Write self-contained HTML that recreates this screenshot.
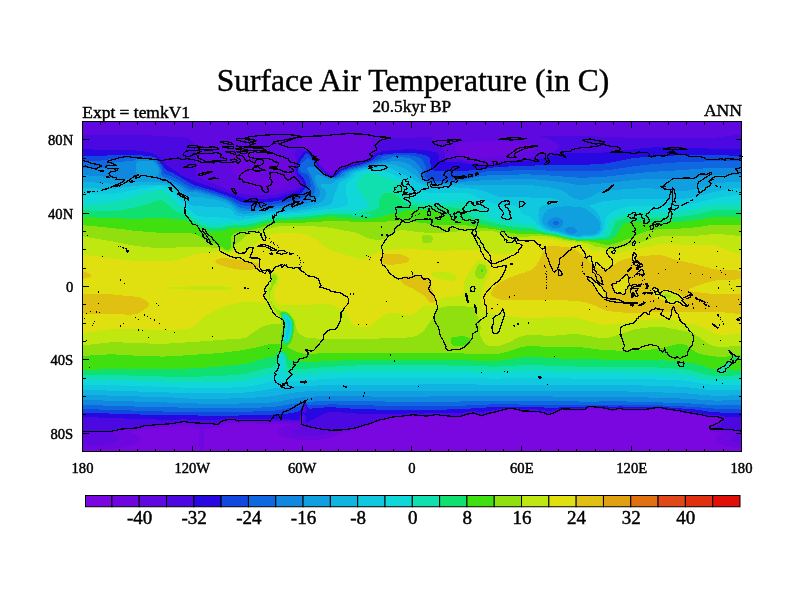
<!DOCTYPE html>
<html><head><meta charset="utf-8"><title>Surface Air Temperature (in C)</title>
<style>
html,body{margin:0;padding:0;background:#fff}
svg{display:block}
text{font-family:"Liberation Serif","Times New Roman",serif;fill:#000;stroke:#000;stroke-width:0.45px}
</style></head><body>
<svg width="800" height="600" viewBox="0 0 800 600">
<rect width="800" height="600" fill="#fff"/>
<g id="field" shape-rendering="crispEdges">
<rect x="82.5" y="121.5" width="659.0" height="330.0" fill="#7A06E0"/>
<path fill="#6E06E0" fill-rule="evenodd" d="M83 122 742 122 742 448.5 738.3 448.2 736.5 448 729.2 446.8 724.7 445.6 722 444.7 720 443.8 718.2 442.7 717.2 441.9 716.4 441 715.9 440.1 715.7 439.2 715.9 438.2 716.4 437.3 717.2 436.4 718.4 435.5 720 434.5 721.5 433.7 722.1 432.7 720 432.2 717.9 431.8 712.7 431.5 710.8 430.9 709.9 430 709.6 429.1 709.6 428.2 709.9 427.2 710.9 426.3 712.8 425.4 714.5 425 716.4 424.2 718.6 422.7 719.7 421.8 720.5 420.8 720.4 419.9 719.3 419 718.2 418.5 716.4 418.3 714.5 418.2 709 418.2 707.2 418 703.6 416.7 699.9 416.2 698.1 415.7 696.2 415.5 694.4 415.3 692.6 414.8 690.7 414.6 688.9 414.3 687.1 413.9 683.4 413.4 680 412.6 677.9 412.1 676.1 411.9 673 411.7 670.6 411.2 667.3 410.7 666.9 410.7 663.3 409.9 661.5 409.4 659.6 409.2 657.8 409.2 656 409.4 653.8 409.8 650.5 410.3 648 410.8 646.8 410.9 624.8 410.9 623 410.7 621.2 410.3 619.4 410.3 616.8 410.8 613.9 411.1 612 411.4 608.6 410.8 604.9 409.8 602.9 409.4 601 409.1 597.4 409.1 595.6 408.9 593.7 408.5 591.9 408.3 590.1 408.4 588 408.9 586.4 410 584.6 410.7 582.7 410.9 562.6 410.9 560.8 411.2 558.9 411.9 555.3 413.7 553.5 414.6 551.1 415.3 549.8 415.6 548 415.9 545.9 415.3 543.9 414.4 542.5 413.9 538.8 413.4 537 413 535.1 412.7 524.2 412.7 522.3 412.5 520.5 412 515.2 410.7 513.2 410.3 511.4 410.1 509.5 410.1 507.7 410.3 502.2 411.6 500.4 412.1 494.9 413.4 489.4 414.8 487.6 415.5 483.9 416.6 482.1 416.8 480.2 416.6 478.9 416.2 478.4 416.2 474.7 414.8 472.9 414.6 471.1 414.8 467.4 415.7 465.6 416.4 463.8 417 461.9 417.3 460.1 417.5 458.3 418 456.4 418.2 452.8 418.2 450.9 418 449.1 417.5 447.3 417.3 443.6 417.3 441.8 417.1 440 416.6 438.1 416.4 434.5 416.4 432.6 416.6 430.8 417.1 429 417.3 419.8 417.3 418 417.1 416.2 416.6 414.3 416.4 412.5 416.4 410.7 416.6 408.8 417.1 407 417.3 403.3 417.3 401.5 417.5 399.7 418 397.9 418.2 394.2 418.2 392.4 418.4 390.1 419 388.7 419.3 385 420.2 381.4 421.1 379 421.8 377.7 422.1 375.9 422.8 374.1 423.7 370.4 424.8 366.7 426.2 364.9 426.6 361.2 427.6 359.4 428.4 357.6 429.1 353.9 430.1 352.1 430.5 349.8 430.9 348.4 431.4 345.7 431.8 342.9 432.4 341.1 433.1 339.3 434.2 333.8 436.8 332 437.3 332 437.4 330.1 437.9 326.5 438.7 323.2 439.2 321 439.5 319.1 439.6 317.3 439.8 311.8 440.1 306.3 440.1 299 439.7 293.5 439.1 291.7 438.8 288.9 438.2 288 438.1 284.4 437.1 282.4 436.4 280.3 435.5 278.7 434.6 277.7 433.7 277 432.7 276.8 431.8 277.1 430.9 277.7 430 278.9 429 280.7 428 282.3 427.2 286.2 425.9 287.9 425.4 288.6 424.5 282.5 423.9 278.9 423.7 277 423.7 273.4 423.6 271.5 423.5 262.4 423.5 260.6 423.6 254.9 423.6 253.2 423.5 251.4 423.1 249.6 422.9 247.8 422.9 245.9 423 244.1 423.3 242.3 423.8 240.4 424 238.6 423.9 236.8 423.4 234.8 422.7 233.1 422.5 231.3 422.5 229.4 422.6 225.8 423.6 224 424.2 222.1 425.2 220.3 426.8 219.3 427.2 218.5 427.7 216.6 428 213 428.2 211.1 428.5 209.3 428.6 207.5 428.5 205.6 428.6 204 429.1 203.6 430 203.9 431.8 204 434.6 204.1 437.3 204.2 440.1 204.1 442.8 203.8 446.7 203.3 449.2 202.8 452 200.9 452 200.2 450.2 199.7 446.5 199.2 443.8 198.9 441 198.9 437.3 199.2 434.6 199.6 431.8 199.9 430 199.7 429.1 198.3 428.7 197.2 428.2 194.7 427.9 192.8 427.5 192.4 427.2 191 426.9 189.5 426.3 187.3 426.2 185.5 425.9 183.7 425.5 180 425.7 178.2 425.9 175.7 426.3 172.7 427 169 427 167.2 426.9 165.4 426.9 163.5 426.8 160.5 427.2 159.9 427.4 158.1 427.6 156.2 427.5 152.6 427.5 150.7 427.7 148.9 428.1 147.1 428.3 145.2 428.3 143.4 428.7 142.3 429.1 141.6 429.5 139.7 430.1 137.9 430.4 135.6 430.9 134.3 431.6 132.7 431.8 132 432.8 132.4 432.9 133.9 433.7 136.1 434.6 139.2 436.4 140.1 437.3 140.7 438.2 140.9 439.2 140.7 440.1 139.2 441.9 137.8 442.8 136 443.8 133.8 444.7 130.6 445.7 128.8 446.2 123.3 447.4 119.6 448 117 448.3 116 448.5 112.3 448.9 110.5 449 108.6 449.2 103.1 449.5 101.3 449.5 99.5 449.6 94 449.6 92.2 449.5 90.3 449.5 86.7 449.3 86.5 449.2 83 449 83 122Z"/>
<path fill="#6008E0" fill-rule="evenodd" d="M83 122 742 122 742 444.2 739.2 443.8 735.5 442.8 732.8 441.7 731.7 441 730.8 440.1 730.5 439.2 731 438 731.7 437.3 733.2 436.4 735.5 435.5 738.4 434.6 739.8 433.7 738.9 432.8 738.3 432.5 736.5 432 734.7 431.8 732.8 431.5 731 430.8 729.2 430.5 727.4 430.5 725.5 430.4 723.7 430.4 721.9 430.3 720 430.3 718.2 430.2 716.4 430.2 712.6 430 711.1 429.1 710.9 428.2 711.6 427.2 713.4 426.3 714.5 426.1 716.4 425.3 718.2 424.3 721.3 421.8 721.9 420.8 721.9 419.9 721.1 419 719.5 418.1 718.2 417.6 716.4 417.4 710.9 417.4 707.7 417.2 707.2 417.1 704.9 416.2 703.6 415.8 701.7 415.6 699.9 415.3 698.1 414.9 696.2 414.7 694.4 414.4 692.6 414 690.7 413.7 688.9 413.5 687.1 413 683.4 412.6 681.6 412.1 679.6 411.7 677.9 411.2 676.1 411 674.3 411 672.3 410.8 670.6 410.4 668.8 410.2 665.1 409.5 661.5 408.7 659.6 408.5 657.8 408.5 656 408.6 654.1 409 650.5 409.4 648.6 409.9 646.8 410.1 632.2 410.1 630.3 410 624.8 410 623 409.8 621.2 409.4 619.4 409.4 617.4 409.8 613.9 410.2 612 410.5 610.2 410.2 604.7 409 602.9 408.6 601 408.4 597.4 408.4 595.6 408.2 593.7 407.8 591.9 407.6 590.1 407.6 588.2 408 586.4 409 584.5 409.8 582.7 410.1 562.6 410.1 560.8 410.3 558.9 411 557.1 411.8 553.5 413.6 551.2 414.4 549.8 414.7 548 414.9 546.1 414.5 544.3 413.6 542.5 413 538.8 412.5 537 412.1 535.1 411.9 526 411.9 522.7 411.7 520.5 411.1 518.7 410.8 515 409.9 513.2 409.4 511.4 409.3 509.5 409.3 507.7 409.4 505.9 409.9 504 410.3 502.2 410.8 496.7 412.1 493 413 489.4 413.9 487.9 414.4 487.6 414.6 485.3 415.3 482.1 415.9 480.2 415.7 478.4 415.3 476.2 414.4 474.7 413.9 472.9 413.7 471.1 413.9 467.4 414.8 465.6 415.5 463.8 416.1 461.9 416.4 460.1 416.6 458.3 417.1 456.4 417.3 452.8 417.3 450.9 417.1 449.1 416.6 447.3 416.4 443.6 416.4 441.8 416.2 440 415.7 438.1 415.5 434.5 415.5 432.6 415.7 430.8 416.2 429 416.4 419.8 416.4 418 416.2 416.2 415.7 414.3 415.6 412.5 415.6 410.7 415.7 408.8 416.2 407 416.4 405.2 416.4 401.5 416.6 399.2 417.2 397.9 417.3 396 417.3 392.4 417.5 390.2 418.1 388.7 418.4 385 419.3 381.4 420.2 379.6 420.7 377.7 421.1 375.9 421.8 374 422.7 371.3 423.6 370.4 423.8 366.7 425.1 363.1 426.1 361.2 426.5 357.6 427.9 353.9 428.9 352.1 429.1 350.3 429.4 347.9 430 346.6 430.2 342.9 430.4 340.4 430.9 339.3 431.3 337.4 431.6 335.6 431.8 330.1 432.7 326.5 433.5 324.6 434.2 323.8 434.6 321 435.4 317.3 436 315.5 436.2 311.8 436.4 308.2 436.4 306.3 436.3 302.7 435.9 299 435.3 296.7 434.6 294.7 433.7 293.5 432.6 293.2 431.8 293.6 430.9 294.7 430 297.2 428.9 299.8 428.2 300.8 427.8 301.3 427.2 301.4 426.3 301 423.6 300.8 423.3 299 422.6 295.3 422.6 293.5 422.5 288 422.5 286.2 422.4 280.7 422.4 278.9 422.3 255.1 422.3 253.2 422.2 251.4 421.7 249.6 421.5 245.9 421.5 244.1 421.8 242.3 422.3 240.4 422.4 238.6 422.3 234.9 421 233.1 420.8 229.3 420.8 227.6 421.1 224 422 222.1 422.7 220.3 423.8 218.5 425 216.6 425.3 214.8 425.4 211.1 425.4 209.3 425.2 207.5 424.8 205.6 424.5 194.7 424.5 192.8 424.3 191 423.9 189.2 423.6 187.3 423.6 183.7 423.2 181.8 423.4 179.5 423.6 178.2 423.8 172.7 425 170.9 425.2 163.5 425.2 161.5 425.4 159.9 425.8 158.1 426 152.6 426 150 426.3 148.9 426.6 147.1 426.8 145.2 426.8 143.4 427 140.4 428.2 139.7 428.4 137.9 428.6 135.2 429.1 134.3 429.4 132.4 429.6 128.8 429.6 126.9 429.7 125.1 429.7 123.1 430 121.4 430.5 118.8 430.9 116 431.8 114.1 432.5 112.3 433.7 112.6 434.6 114.5 435.5 116.5 436.4 117.9 437.3 118.7 438.2 119 439.2 118.7 440.1 117.8 441.1 116 442.2 111.4 443.8 106.8 444.6 105 444.9 103.1 445.1 101.3 445.2 99.5 445.4 97.6 445.4 95.8 445.5 92.2 445.5 88.5 445.3 83 444.7 83 122ZM240.4 148.3 238.6 148.8 236.8 149.7 234.9 151.3 233.1 153.8 231.6 156.8 231 158.7 230.8 160.5 230.8 162.3 231 164.2 231.4 166 232.8 170.6 234.2 173.3 234.9 174.4 237.3 177 238.6 178.4 240.4 180.2 244.2 183.4 245.9 184.6 249.6 186.6 253.2 188.3 256.9 189.6 258.7 189.9 260.6 190.1 262.4 190.2 271.5 190.2 273.4 190.1 277 189.6 278.9 189.2 282.4 188 284.4 187.1 286.2 185.9 287.8 184.3 289.4 181.6 290 179.8 290.4 177.9 290.6 176.1 290.7 170.6 290.6 167.8 290.3 165.1 289.9 163.5 288.6 161.4 287.7 160.5 286.2 159.4 284.4 158.3 281.6 156.8 278.9 155.5 275.2 153.6 272.4 152.2 271.5 151.9 269.7 151.1 267.9 150.4 266.1 149.9 264 149.5 260.6 149.1 258.7 149 256.9 149 251.4 148.7 247.8 148.3 245.9 148.2 242.3 148.2 240.4 148.3ZM341.1 133.9 339.3 133.9 333.8 134.2 332 134.5 330.1 134.7 328.1 134.8 321 135.6 319.1 135.8 317.3 136.1 315.5 136.3 310 136.6 306.3 137 304.4 137.6 302.2 138.5 300.8 139.3 300.4 139.4 297.6 141.2 297.2 141.8 296.6 142.2 296.5 143.1 297.2 143.4 297.8 144 299 144.4 299.6 144.9 302.7 146.7 302.7 146.8 304.8 147.7 306.3 148.1 308.2 148.8 310 149.7 311 150.4 312.9 152.2 313.6 153.3 314.4 154.1 315.8 155.9 316.6 156.8 317.3 157.9 318.6 159.6 319.1 161 320.4 163.2 321 164.4 323.1 166.9 324.1 167.8 324.9 168.8 326 169.7 326.9 170.6 328 171.5 328.3 171.9 330.1 172.9 332 173 332.7 172.4 334 171.5 334.9 170.6 338.4 167.8 339.3 167.2 341.1 166.4 342.9 165.7 345 165.1 347.5 164.2 349.9 163.2 353.9 161.9 355.8 161.5 357.6 161 359.7 160.5 362.4 159.6 364.7 158.7 366.2 157.8 367.3 156.8 368 155.9 368.6 154.7 368.9 153.2 369.6 151.3 371.3 148.6 371.7 147.7 372.1 144 372.8 141.2 372.6 140.3 371.7 139.4 370.2 138.5 366.5 136.7 364.9 136.1 363.1 135.6 361.2 135.3 357.6 134.6 353.9 134 352.1 133.7 348.4 133.5 346.6 133.6 344.8 133.8 342.9 133.9 341.1 133.9ZM496.7 141.2 494.9 141.3 489.4 141.9 487.6 142 478.4 142 476.6 142.1 474.7 142.1 474.6 142.2 469.2 142.8 467.4 142.9 461.9 142.9 458.9 143.1 458.3 143.2 456.4 143.9 455.7 144.9 455.3 145.8 455.1 146.8 455.3 149.5 456.4 151.6 458.4 153.2 461.9 155 464.1 155.9 465.6 156.4 467.4 156.8 469.2 157 471.1 157.1 472.9 157.3 476.3 157.8 478.4 157.9 485.7 157.9 488 157.8 491.2 157.3 493 157.1 496.7 156.9 498.5 156.7 500.4 156.4 502.2 156.2 504 156.1 511.4 155.3 513.2 155.2 516.8 154.8 520.5 154 522.3 153.5 524.2 153.1 527.5 152.2 529.7 151.7 531.5 151.1 532.7 150.4 533.7 149.5 534.1 148.6 534.3 147.7 534.3 146.8 534 145.8 533.3 144.9 531.5 144 529.7 143.8 527.8 143.5 522.3 142.9 520.5 142.8 515.2 142.2 515 142.1 511.4 141.9 505.9 141.3 504 141.2 502.2 141.2 500.4 141.1 498.5 141.2 496.7 141.2Z"/>
<path fill="#4C08E0" fill-rule="evenodd" d="M83 134.8 84.8 134.7 86.7 134.7 88.5 134.6 130.6 134.6 132.4 134.7 137.9 134.7 143.4 135 145.2 135 147.1 135.1 148.9 135.3 154.4 135.6 156.2 135.8 159.9 136 161.7 136.2 170.9 136.7 172.7 136.7 174.5 136.8 176.4 136.8 183.7 137.2 185.5 137.4 187.3 137.8 189.2 138.8 192.8 142.4 194.2 144 194.8 144.9 195.3 146.8 195.5 148.6 195.5 172.4 195.8 174.2 196.5 175.6 197.9 177 199.5 177.9 201.4 178.8 202 179 205.5 180.7 207.9 181.6 209.3 182 213 183.4 217.4 185.2 220.3 186.5 225.8 188.7 229.1 189.8 229.4 190 236.8 192.4 242.3 193.9 245.9 194.6 247.8 194.8 251.4 195 253.2 195.2 255.1 195.3 257.2 195.3 258.7 195.4 266.1 195.4 268.1 195.3 269.7 195.3 273.4 195.1 275.2 194.9 278.9 194.1 284.2 192.6 288 191.5 291.7 190.2 295.3 188.9 297.4 188 299.1 187.1 300 186.2 300.7 185.2 300.8 184.2 300.5 183.4 298.2 179.8 297.2 177.8 296.2 176.1 294.9 172.4 294.6 170.6 294.6 166.9 295.3 164.3 295.8 162.3 296 160.5 295.5 157.8 295.2 156.8 294.9 154.1 294.5 151.3 294.8 150.4 295.3 149.9 296.3 149.5 297.2 149.3 299 149.2 302.7 149.6 304.5 149.6 306.3 149.8 308.2 150.4 310 151.6 310.7 152.2 313.1 155 314.6 156.8 316.1 158.7 317.7 161.4 319.1 164.6 321 166.9 322 167.8 322.8 168.8 323.8 169.7 324.6 170.6 325.7 171.5 326.5 172.4 328.3 173.9 330.1 174.8 332 175.2 333.8 174.3 335.4 172.4 337.4 170.6 339.3 169.2 341.1 168.1 342.9 167.4 344.8 166.9 348.4 165.5 352.2 164.2 355.4 163.2 355.8 163.2 359.4 162.3 363.1 161.3 365.3 160.5 367.4 159.6 369 158.7 370.1 157.8 370.7 156.8 372.2 153.2 373.2 152.2 375.5 150.4 376.3 149.5 376.8 147.7 376.8 146.8 377 145.8 377.7 144.4 379.6 142.8 381.4 141.7 383.2 141 386.9 140.3 389.1 139.4 390.5 138.5 392.4 138.1 394.2 138 408.8 138 412.5 137.8 414.3 137.8 417.3 137.6 421.7 137.2 423.5 137 425.3 136.9 427.1 136.7 429 136.7 430.8 137.1 431.4 137.6 431.9 138.5 432.7 140.3 434.3 142.2 438.1 144.9 440 146.1 441.9 147.7 442.7 148.6 443.9 150.4 444.4 151.3 445 153.2 445 155 444.9 156.8 445.5 157.8 447.3 158.5 449.1 158.8 450.9 158.9 452.8 158.9 454.6 159 456.4 159 458.3 159.2 463.8 160.4 465.6 160.9 468.4 161.4 469.2 161.6 471.1 161.8 474.7 162.4 476.6 162.8 478.9 163.2 482.1 163.9 483.9 164.2 486.2 164.2 487.6 164 489.4 163.6 491.9 163.2 493 163.1 494.9 162.7 500.4 161.6 502.2 161.3 507.7 160.7 511.4 160.1 515 159.9 517.4 159.6 518.7 159.3 522.3 158.9 524.2 158.6 526 158.2 529.7 157.7 531.5 157.3 535.1 156.7 537 156.3 538.8 155.8 542.3 155 545.9 154.1 549.8 152.9 551.6 152.3 551.9 152.3 553.5 151.7 555.3 150.8 557.3 149.5 558.3 148.6 559 147.7 559.3 146.8 559.3 145.8 558.8 144.9 557.9 144 555.3 142.2 553.5 141.1 551.6 140.1 548 138.7 546.6 138.5 546.1 138.3 542.5 137.9 541.3 137.6 540.4 136.7 540.6 136.5 542.5 136.1 548 135.8 551.6 135.6 555.3 135.6 557.1 135.5 568.1 135.5 569.9 135.6 577.2 135.6 579.1 135.7 580.8 135.7 580.9 135.8 582.7 135.8 586.4 136 588.2 136 599.2 136.6 602.9 136.8 604.7 136.8 608.4 137 610.2 137 612 137.1 613.9 137.1 615.7 137.2 617.5 137.2 628.5 137.8 630.3 137.8 632.2 137.9 637.7 137.9 639.5 138 641.3 138 643.2 137.9 694.4 137.9 696.2 138 705.4 138 707.2 137.9 710.9 137.9 714.5 137.7 718.2 137.3 720 137 722.7 136.7 723.7 136.5 725.5 136.3 727.4 136 729.9 135.8 732.8 135.4 734.7 135.3 736.5 135.1 740.2 134.9 742 134.8 742 430.5 740.2 430.3 738.3 429.8 734.7 429.6 731.7 429.1 731 428.9 729.2 428.7 725.5 428.7 723.7 428.6 718.2 428.6 714.6 428.2 715.7 427.2 716.4 427 717.4 426.3 718.9 425.4 720 424.4 722.1 422.7 723 421.8 723.3 420.8 723.3 419.9 722.8 419 721.9 418.2 719.8 417.2 718.2 416.6 716.4 416.5 714.5 416.5 712.7 416.4 709 416.4 707.2 416.1 705 415.3 703.6 414.9 699.9 414.5 698.1 414 694.4 413.6 692.6 413.1 690.7 412.8 688.8 412.6 687.1 412.1 683.4 411.7 681.6 411.2 679.3 410.8 677.9 410.4 674.3 410.2 672.4 410 670.6 409.6 666.9 409.2 661.5 408 659.6 407.9 657.8 407.9 655.9 408 654.1 408.3 650.5 408.7 648.6 409 646.8 409.2 626.7 409.2 624.8 409.1 622.9 408.9 621.2 408.5 619.4 408.5 617.5 408.9 612 409.5 610.2 409.3 606.5 408.5 602.9 407.8 601 407.7 597.4 407.7 595.6 407.5 591.9 407 590.1 407 588.2 407.3 586.4 408.2 584.6 409 582.7 409.2 580.9 409.3 564.4 409.3 560.8 409.5 558.9 410.1 557.1 410.8 553.5 412.6 551.6 413.3 549.8 413.7 548 413.9 546.1 413.4 544.3 412.6 542.5 412 539.6 411.7 537 411.1 535.1 410.9 524.2 410.9 522.3 410.7 520.5 410.2 516.8 409.4 515 409.1 513.2 408.7 511.4 408.5 509.5 408.5 506.6 408.9 505.9 409.1 504 409.4 502.2 409.9 500.4 410.2 498.5 410.7 498.5 410.8 496.7 411.1 494.6 411.7 493 412 490.8 412.6 489.4 412.9 485.7 414.2 483.9 414.6 482.1 414.8 480.2 414.6 478.4 414.2 474.7 412.9 472.9 412.8 471.1 412.9 469 413.5 467.4 413.8 465.6 414.4 463.8 415.1 461.9 415.4 460.1 415.6 458.3 416 456.4 416.3 452.8 416.3 450.9 416 449.1 415.6 447.3 415.5 445.4 415.5 441.8 415.2 440 414.7 438.1 414.6 434.5 414.6 432.6 414.8 429 415.5 419.8 415.5 418 415.2 416.2 414.8 414.3 414.6 412.5 414.6 410.7 414.8 408.3 415.3 407 415.5 403.3 415.5 401.5 415.6 399.7 416.1 397.9 416.4 394.2 416.4 392.4 416.5 389.8 417.2 386.9 417.8 385.9 418.1 385 418.2 382 419 379.6 419.6 377.7 420 375.2 420.8 374.1 421.4 372.2 422.1 368.6 423.1 366.7 423.8 364.9 424.2 363.1 424.7 361.2 425.1 357.7 426.3 354 427.2 353.9 427.3 352.1 427.5 350.3 427.6 348.1 428.2 344.8 428.4 342.9 428.4 341.1 428.5 339 429.1 337.4 429.3 335.6 429.4 333.8 429.4 330.1 429.6 328.3 429.5 326.5 429.2 322.8 429.4 321 429.3 317.3 428.7 315.5 428.3 313.4 428.2 311.8 428 309 427.2 308.2 427.1 305.7 426.3 304.5 426 303.7 425.4 302.9 424.5 302.7 423.6 302.9 422.7 303.4 421.8 303.9 419.9 304 418.1 303.5 416.2 302.7 415.4 301.9 416.2 301.5 417.2 301.2 419.9 300.7 420.8 299 421.4 291.7 421.4 289.9 421.3 284.4 421.3 282.5 421.2 255.1 421.2 253.2 421 251.4 420.5 249.6 420.4 245.9 420.4 244.1 420.6 242.3 421 240.4 421.2 238.6 421 234.9 419.8 231.3 419.6 229.4 419.7 227.4 419.9 223.6 420.8 222.1 421.3 219.6 422.7 218.5 423.5 216.6 424 211.1 424 209.3 423.8 207.5 423.3 205.6 423.2 196.5 423.2 194.7 423.1 192.8 422.9 191 422.5 189.2 422.3 185.5 422.1 183.7 421.8 178.2 422.4 176.4 422.9 174.5 423.2 172.7 423.7 170.9 423.9 163.5 423.9 161.7 424 159.9 424.5 158.1 424.7 152.6 424.7 150.7 424.8 148.9 425.3 147.1 425.5 145.2 425.5 143.4 425.7 141.4 426.3 139.7 426.9 137.9 427.2 136.1 427.4 134.3 427.8 132.4 428.1 125.1 428.1 123.3 428.3 118.9 429.1 117.8 429.2 112.3 430.5 110.5 430.8 106.8 430.8 105 430.9 101.3 430.9 99.5 430.8 90.3 430.8 88.5 430.7 84.8 430.7 83 430.6 83 134.8ZM304.5 406.2 303.8 408.9 303.8 409.8 304.1 410.8 304.5 411.3 305 410.8 305.2 409.8 305.1 408 304.5 406.2Z"/>
<path fill="#2808E0" fill-rule="evenodd" d="M649.7 147.7 652.3 147.5 654.1 147.3 657.8 147.1 659.6 147.1 661.5 147 663.3 147 665.1 147.1 668.8 147.1 672.4 147.3 674.3 147.3 677.9 147.5 679.8 147.5 681.6 147.6 683.4 147.6 687.1 147.8 688.9 147.8 690.7 147.9 692.6 147.9 694.4 148 696.2 148 699.9 148.2 701.7 148.2 705.4 148.4 707.2 148.4 710.9 148.6 712.7 148.6 714.5 148.7 718.2 148.7 720 148.8 725.5 148.8 727.4 148.9 731 148.9 732.8 149 736.5 149 738.3 149.1 742 149.1 742 417 740.2 416.9 738.3 416.9 736.5 416.8 734.7 416.8 732.8 416.7 731 416.7 729.2 416.6 727.4 416.6 725.5 416.5 723.7 416.3 723.7 416.2 720 415.5 718.2 415.2 714.5 415 712.7 415 709 414.8 707.2 414.6 705.4 414.1 703.6 413.7 701.7 413.5 699.9 413.2 698.1 412.8 696.2 412.6 694.4 412.2 692.6 411.7 691.8 411.7 688.9 411.2 687.1 410.8 685.3 410.7 677.9 409.5 676.1 409.3 674.3 409.3 672.4 409.1 670.6 408.8 666.9 408.4 663.3 407.7 661.5 407.4 657.8 407.2 656 407.3 654.1 407.6 652.3 407.8 648.6 408.1 646.8 408.2 641.3 408.2 639.5 408.1 632.2 408.1 630.3 408 624.7 408 621.2 407.6 619.4 407.6 615.7 408 612 408.2 608.4 407.9 606.5 407.6 604.7 407.4 602.6 407.1 601 407 597.4 407 595.6 406.8 593.7 406.5 591.9 406.4 590.1 406.4 588.2 406.6 584.7 408 584.6 408.1 582.7 408.3 579.1 408.3 577.2 408.4 568.1 408.4 566.3 408.5 562.6 408.5 560.8 408.6 558.9 409 557.1 409.5 553.5 410.3 551.6 410.6 548 410.6 546.1 410.5 544.3 410.2 542.5 410 538.8 409.7 537 409.4 535.1 409.3 526 409.3 522.3 409.1 520.5 408.9 518.7 408.6 516.8 408.4 513.2 407.8 511.4 407.7 509.5 407.7 507.7 407.8 498.5 409.3 496.7 409.5 489.4 410.7 489.3 410.8 487.6 411 485.7 411.4 482.6 411.7 480.2 411.8 477.9 411.7 474.7 411.3 472.9 411.3 471.1 411.4 469.2 411.7 467.4 411.9 463.8 412.5 460.1 412.7 458.3 412.9 456.4 413 454.6 413 452.8 413.1 450.9 413.1 449.1 413 447.3 413 445.4 413.1 443.6 413.1 438.1 412.8 436.3 412.9 434.5 412.9 432.6 413 429 413.4 425.3 413.5 423.5 413.5 421.7 413.6 419.8 413.6 418 413.5 416.2 413.2 412.5 413.2 410.7 413.3 408.8 413.5 407 413.6 403.3 413.6 399.7 413.8 397.9 414 392.4 414 388.7 414.2 383.2 414.2 381.4 414.1 379.6 414.1 377.7 414 375.9 414 374.1 413.9 372.2 413.9 370.4 413.8 364.9 413.8 363.1 413.7 359.4 413.7 346.6 413 342.7 412.6 337.4 412.1 335.6 411.9 333.8 411.8 332 411.8 330.1 411.9 327.3 412.6 324.6 413.7 321.4 415.3 321 415.6 319.1 416.5 318 417.2 315.5 418.5 310.5 420.8 308.2 421.7 306.3 421.5 306.1 419 305.6 416.2 304.4 414.4 302.7 413.7 301.5 414.4 300.5 415.3 300 416.2 299.3 419 299 419.5 297.2 419.8 295.3 419.8 280.7 419 278.9 418.9 277 418.9 275.2 418.8 266.1 418.8 264.2 418.9 260.6 418.9 256.9 419 254.6 419 251.4 418.7 245.9 418.7 244.1 418.8 242.3 419 240.4 419.1 238.6 419 236.8 418.6 234.9 418.3 233.1 418.2 231.3 418.2 229.4 418.3 227.6 418.3 225.8 418.6 222.1 419.1 218.5 419.7 194.7 419.7 191 419.5 187.3 419.5 183.7 419.3 180 419.5 178.2 419.5 174.5 419.7 165.4 419.7 163.5 419.6 159.9 419.6 158.1 419.5 156.2 419.5 154.4 419.4 152.6 419.4 148.9 419.2 147.1 419.2 141.6 418.9 139.7 418.9 137.9 418.8 136.1 418.8 134.3 418.7 132.4 418.7 130.6 418.6 128.8 418.6 126.9 418.5 125.1 418.5 121.4 418.3 119.6 418.3 114.1 418 112.3 418 110.5 417.9 108.6 417.9 106.8 417.8 105 417.8 101.3 417.6 99.5 417.6 95.8 417.4 94 417.4 88.5 417.1 86.7 417.1 84.8 417 83 417 83 149.1 84.8 149.2 86.7 149.2 88.5 149.3 90.3 149.3 94 149.5 95.8 149.5 97.6 149.6 99.5 149.6 101.3 149.7 103.1 149.7 105 149.8 108.6 149.8 110.5 149.9 112.3 149.9 114.1 150 117.8 150 119.6 150.1 123.3 150.1 125.1 150.2 128.8 150.2 132.4 150.4 134.3 150.4 136.1 150.5 137.9 150.7 139.7 150.8 141.6 151 147.1 151.8 149.2 152.2 150.7 152.6 152.6 153.4 156.2 155.2 158.7 156.8 160.7 158.7 163.2 161.4 163.9 162.3 165.7 164.2 168.2 166 170.9 167.8 176.2 171.5 180 174.2 180 174.3 183.6 176.1 187.3 177.9 191 179.7 193 180.7 195.1 181.6 198.3 182.7 200.8 183.4 203.7 184.3 205.6 185 207.5 185.5 213 187.4 216.9 188.9 220.3 190.3 222.1 191 224 191.6 224 191.7 227.6 192.8 229.9 193.5 233.1 194.5 234.9 195.2 238.6 196.3 241.2 197.2 244.2 198.1 247.8 198.9 249.6 199.1 253.2 199.3 258.7 199 269.7 198.4 273 198.1 277 197.5 280.7 196.5 284.7 195.3 288 194.4 291.7 193.2 295.3 191.8 297.8 190.8 299 190.2 300.8 188.9 302.7 187.3 303.4 186.2 303.7 185.2 303.4 183.4 302.7 182.1 299.8 177.9 298.5 176.1 297 173.3 296.3 170.6 296.2 167.8 296.4 166 298.1 161.4 298.6 158.7 299 157.7 299.7 156.8 300.9 155.9 301.6 155 302.7 153.2 303.4 152.2 304.5 151.6 306.4 151.3 308.2 151.8 310 153.2 313.6 157.4 315.5 159.8 316.4 161.4 317.3 163.5 318.9 166 321.5 168.8 324.3 171.5 326.5 173.7 328.3 175 330.1 175.8 332.2 176.1 333.8 175.6 334.5 175.2 337.4 172 339.3 170.5 341.1 169.4 342.7 168.8 342.9 168.6 346.6 167.4 348.4 166.7 350.4 166 353.9 164.9 356.7 164.2 357.6 163.9 363.1 162.5 364.9 161.9 366.7 161.2 370 159.6 371.4 158.7 372.7 156.8 373.2 155.9 374.1 154.8 375.9 153.7 377.1 153.2 377.7 152.8 381.4 151.5 385 150.9 390.5 150.3 392.4 150.2 394.2 150 403.3 149.5 407 149.3 414.3 149.3 418 149.6 419.8 149.7 426.1 150.4 427.1 150.6 429 150.8 432.6 151.6 434.8 152.2 437.1 153.2 438.3 154.1 438.7 155 438.9 156.8 439 158.7 439.3 159.6 440 160.2 441.8 160.9 443.6 161.2 447.3 161.6 450.9 161.8 456.4 161.8 458.3 161.9 461.2 162.3 463.8 162.9 465.6 163.3 474.7 164.8 478.4 165.6 482.1 166.3 483.9 166.5 485.7 166.5 491.2 165.5 494.9 165 496.7 164.7 498.5 164.3 504 163.4 505.9 163.3 506 163.2 507.7 163.1 511.4 162.5 514 162.3 515 162.3 516.8 162.1 518.7 161.7 521 161.4 524.2 161.1 531.5 159.9 537 159.1 539 158.7 540.6 158.3 543.5 157.8 548 156.7 551.6 155.8 553.5 155.4 555.3 154.9 557.9 154.1 558.9 153.7 562.6 152.8 564.4 152.7 569.9 152.7 571.8 152.8 588.2 152.8 590.1 152.7 597.4 152.7 599.2 152.6 601 152.6 606.7 152.3 612 151.7 613.9 151.6 617.5 151.1 621.2 150.7 624.8 150.2 637.7 148.8 643.2 148.3 646.8 147.9 649.7 147.7ZM304.5 404.7 303.9 405.2 303.4 406.2 302.8 408 302.5 409.8 302.5 410.8 302.8 411.7 303.4 412.6 304.5 413.4 305.6 412.6 306.4 411.7 306.8 410.8 306.8 409.8 305.7 406.2 305.1 405.2 304.5 404.7Z"/>
<path fill="#1048E0" fill-rule="evenodd" d="M398.8 153.2 401.5 153 403.3 153 405.2 152.9 408.8 152.9 414.3 153.2 418 153.6 423.5 154.8 426.7 155.9 428.5 156.8 429.5 157.8 430 158.7 430.2 159.6 430.2 162.3 430.5 164.2 431.4 167.8 431.7 168.8 432.2 169.7 432.6 170.1 434.5 170.5 436.3 170.6 465.6 170.6 467.4 170.5 469.2 170.5 471.1 170.4 476.6 169.8 478.4 169.5 483.9 168.9 485.7 168.7 489.9 167.8 491.2 167.6 494.9 167.4 498.5 167 502.2 166.8 504 166.6 505.9 166.6 509.5 166.4 511.4 166.2 513.2 166.2 522.3 165.7 524.2 165.7 526 165.6 527.8 165.6 529.7 165.5 535.1 165.5 537 165.4 540.6 165.4 542.5 165.3 546.1 165.3 548 165.2 564.4 165.2 566.3 165.1 575.4 165.1 577.2 165 579.1 165 584.6 164.7 586.4 164.7 593.7 164.3 595.6 164.3 599.2 164.1 606.5 163.3 610.2 162.7 612 162.3 613.9 162 619.4 160.9 624.8 159.7 630.3 158.7 634 158.1 637.3 157.8 639.5 157.5 641.3 157.4 643.2 157.2 646.8 157 648.7 156.8 652.3 156.6 654.1 156.4 666.9 155.7 668.8 155.7 672.4 155.5 674.3 155.5 677.9 155.3 679.8 155.3 681.6 155.2 683.4 155.2 685.3 155.1 690.7 155.1 692.6 155 707.2 155 709 155.1 716.4 155.1 718.2 155.2 720 155.2 721.9 155.3 723.7 155.3 725.5 155.4 727.4 155.4 729.2 155.5 731 155.5 732.8 155.6 734.7 155.6 736.5 155.7 742 155.7 742 412.8 736.5 412.8 734.7 412.7 731 412.7 729.2 412.6 723.7 412.6 721.9 412.5 720 412.5 714.5 412.2 709 411.6 701.7 410.4 699.9 410.2 697.5 409.8 692.6 409.3 690.7 409.2 687.1 408.9 685.3 408.8 683.4 408.6 681.6 408.5 679.8 408.3 674.2 408 670.6 407.6 666.9 407.4 663.3 406.9 661.5 406.6 659.6 406.5 656 406.5 654.1 406.7 652.3 406.8 650.5 406.8 646.8 407 645 406.9 643.2 406.9 641.3 406.8 639.5 406.8 637.7 406.7 635.8 406.7 634 406.6 628.5 406.6 626.7 406.5 623 406.5 621.2 406.4 619.4 406.4 617.5 406.5 613.9 406.5 612 406.6 610.2 406.5 608.4 406.5 602.9 406.2 601 406.1 597.4 406.1 595.6 406 593.7 405.7 590.1 405.7 588.2 405.8 584.6 406.8 582.7 407 580.9 407 579.1 407.1 575.4 407.1 573.6 407.2 566.3 407.2 564.4 407.3 560.8 407.3 558.9 407.5 555.3 407.7 551.6 407.7 549.8 407.6 548 407.6 546.1 407.5 544.3 407.5 537 407.1 535.1 407.1 533.3 407 520.5 407 518.7 406.9 516.8 406.9 515 406.8 513.2 406.6 507.7 406.6 505.9 406.8 504 406.9 502.2 406.9 500.4 407 498.5 407 494.9 407.1 493 407.2 491.2 407.2 483.9 407.6 482.1 407.8 476.6 408.1 474.7 408.3 461.9 409 460.1 409 456.4 409.2 454.6 409.2 452.8 409.3 450.9 409.3 447.3 409.5 445.4 409.5 443.6 409.6 441.8 409.6 438.1 409.8 435.6 409.8 434.5 409.9 432.6 409.9 430.8 410 429 410 427.1 410.1 425.3 410.1 423.5 410.2 421.7 410.2 419.8 410.3 418 410.3 416.2 410.4 412.5 410.4 410.7 410.3 408.8 410.3 407 410.2 405.2 410.2 401.5 410 399.7 410 397.9 409.9 394.2 409.9 390.5 409.8 386.9 409.8 385 409.7 383.2 409.7 381.4 409.6 379.6 409.6 377.7 409.5 375.9 409.5 374.1 409.4 372.2 409.4 370.4 409.3 366.7 409.3 364.9 409.2 361.2 409.2 352.1 408.7 350.3 408.5 348.4 408.4 346.6 408.2 342.9 407.9 333.8 407.4 326.5 407.4 321 407.7 319.1 407.9 315.5 408.1 311.8 408.5 310 408.6 308.2 408.4 306.4 405.2 305.5 404.3 304.5 403.8 303.5 404.3 302.7 405.2 301 408.9 300.8 409.7 300.5 409.8 299 411.1 297.2 411.8 295.3 412.2 293.5 412.7 291.7 413 289.9 413.2 286.2 413.7 284.4 413.8 282.5 414 275.2 414.4 273.4 414.5 271.5 414.5 267.9 414.7 266.1 414.7 264.2 414.8 262.4 414.8 258.7 415 256.9 415 255.1 415.1 253.2 415.1 251.4 415.2 249.6 415.2 247.8 415.3 245.9 415.3 244.1 415.4 240.4 415.4 238.6 415.5 233.1 415.5 231.3 415.6 225.8 415.6 224 415.7 214.8 415.7 213 415.6 207.5 415.6 205.6 415.5 198.3 415.5 196.5 415.4 176.4 415.4 174.5 415.3 165.4 415.3 163.5 415.2 161.7 415.2 159.9 415.1 158.1 415.1 156.2 415 154.4 415 150.7 414.8 148.9 414.8 147.1 414.7 145.2 414.7 141.6 414.5 139.7 414.5 137.9 414.4 136.1 414.4 132.4 414.2 130.6 414.2 128.8 414.1 126.9 414.1 123.3 413.9 121.4 413.9 117.8 413.7 116 413.7 114.1 413.6 112.3 413.6 108.6 413.5 106.8 413.4 105 413.4 103.1 413.3 101.3 413.3 99.5 413.2 97.6 413.2 95.8 413.1 94 413.1 92.2 413 88.5 413 86.7 412.9 84.8 412.9 83 412.8 83 155.7 84.8 155.8 86.7 155.7 94 155.7 95.8 155.6 99.5 155.6 101.3 155.5 106.8 155.5 108.6 155.4 112.3 155.4 114.1 155.3 117.8 155.3 119.6 155.2 125.1 155.2 126.9 155.1 137.9 155.1 141.6 155.3 150.7 156.3 152.6 156.6 154.4 157.1 156.2 158.1 158.1 159.7 158.9 160.5 159.9 161.9 161 163.2 161.7 164.3 163.1 166 163.6 166.9 165.4 169.4 167.2 170.6 171.4 172.4 174.9 174.2 178.2 176.2 181.4 177.9 183.7 179.2 187.5 181.6 191 183.7 192.8 184.6 197.4 186.2 198.3 186.4 203.7 188 207.5 189.1 212.5 190.8 215.4 191.7 216.6 192 220.8 193.5 227.6 195.8 231.3 197.3 236.5 199.9 238.6 200.8 238.6 200.9 241.3 201.8 244.1 202.5 245.9 202.8 249.6 203.2 253.2 203.2 260.6 202.8 262.4 202.6 264.2 202.5 267.9 202.1 269.7 202 271.7 201.8 273.4 201.5 275.2 201.3 278.9 200.6 284.4 199.4 288 198.4 289.9 197.9 292.2 197.2 295.3 196 297.2 195.2 299 194.4 300.8 193.2 302.7 191.4 305.4 188 305.9 187.1 306.2 186.2 306.3 185.2 306 183.4 305.4 181.6 304 178.8 303.3 177.9 301.3 176.1 300.8 175.8 299.6 174.2 298.8 173.3 297.8 170.6 297.6 168.8 297.7 166.9 297.9 166 298.7 164.2 300.8 160.1 303 157.8 304.6 155 305.3 154.1 306.3 153.4 308.2 153.7 308.5 154.1 310 155.2 310.5 155.9 313.6 159.2 315.5 162 316.5 164.2 318.5 166.9 319.4 167.8 320.2 168.8 323.1 171.5 325.9 174.2 327.2 175.2 328.9 176.1 330.1 176.5 332 176.8 333.8 176.6 334.8 176.1 336.1 175.2 337.7 173.3 339.8 171.5 341.2 170.6 344.8 169.1 346.6 168.5 348.4 167.8 352.1 166.6 357.7 165.1 361.3 164.2 364.1 163.2 364.9 163 368.6 161.6 370.4 160.7 371 160.5 372.7 159.6 374.1 158.7 375.2 157.8 375.6 156.8 376.9 155.9 377.7 155.6 379.6 155.1 383.2 154.5 386.9 154.1 390.5 153.7 392.4 153.6 394.2 153.4 397.9 153.2 398.8 153.2Z"/>
<path fill="#1068E0" fill-rule="evenodd" d="M383.7 155.9 386.9 155.5 392.4 155.2 394.2 155.2 396 155.1 403.3 155.1 408.8 155.4 412.5 155.8 417.2 156.8 419.8 157.9 421.1 158.7 422 159.6 423 161.4 424.4 164.2 425.4 166 425.7 166.9 425.8 168.8 425.7 169.7 424.8 172.4 424.6 173.3 424.6 175.2 424.8 176.1 425.3 177.1 427.1 178.5 430 179.8 432.6 180.6 432.7 180.7 436.3 181.1 441.8 181.1 443.6 181 445.4 180.7 450.9 179.8 451.6 179.8 452.8 179.5 456.9 178.8 458.3 178.6 460.1 178.2 463.8 177.6 467.4 176.7 471.1 175.6 474.7 174.6 478.4 173.5 480.2 172.9 486.1 171.5 489.4 171 494.9 171 496.7 170.9 500.4 170.9 502.2 170.8 504 170.8 505.9 170.7 507.7 170.7 511.4 170.6 515 170.4 516.8 170.4 518.7 170.3 522.3 170.3 524.2 170.2 533.3 170.2 535.1 170.3 540.6 170.3 542.5 170.4 544.3 170.4 546.1 170.5 548 170.5 551.6 170.6 553.5 170.7 555.3 170.7 558.9 170.9 560.8 170.9 562.6 171 564.4 171 568.1 171.2 569.9 171.2 571.8 171.3 575.4 171.3 577.2 171.4 579.1 171.4 580.9 171.3 584.6 171.3 588.2 171.1 590.1 171.1 591.9 171 593.7 171 601 170.6 604.7 170.4 611.3 169.7 613.9 169.3 615.7 169.1 618 168.8 619.4 168.5 621.2 168.3 623.8 167.8 626.7 167.4 632.2 166.5 634 166.3 637.7 165.8 643.9 165.1 652.3 164.2 654.1 164.1 657.8 163.7 661.5 163.5 664.4 163.2 668.8 163 670.6 162.8 676.1 162.5 677.9 162.3 688.9 161.7 690.7 161.7 692.6 161.6 696.2 161.6 698.1 161.5 703.6 161.5 705.4 161.4 742 161.4 742 409 738.3 409 736.5 408.9 720 408.9 710.9 408.4 707.2 408 705.4 407.9 703.6 407.7 701.7 407.6 699.9 407.4 696.2 407.2 694.4 407 679.8 406.2 677.9 406.1 676.1 406.1 670.6 405.8 668.8 405.8 663.3 405.5 661.5 405.3 659.6 405.3 657.8 405.2 650.5 405.2 648.6 405.1 646.8 405.1 643.2 404.9 641.3 404.9 639.5 404.8 637.7 404.8 635.8 404.7 632.2 404.7 630.3 404.6 595.6 404.6 593.7 404.5 588.2 404.5 584.6 404.9 580.9 404.9 579.1 405 549.8 405 548 404.9 546.1 404.9 542.5 404.7 540.6 404.7 538.8 404.6 535.1 404.6 533.3 404.5 518.7 404.5 516.8 404.4 509.5 404.4 507.7 404.3 494.5 404.3 493 404.4 491.2 404.4 489.4 404.5 487.6 404.5 482.1 404.8 480.2 404.8 472.9 405.2 469.2 405.4 467.4 405.4 465.6 405.5 463.8 405.5 461.9 405.6 460.1 405.6 458.3 405.7 456.4 405.7 454.6 405.8 450.9 405.8 449.1 405.9 445.4 405.9 443.6 406 441.8 406 440 406.1 436.3 406.1 434.5 406.2 430.8 406.2 429 406.3 425.3 406.3 423.5 406.4 408.8 406.4 407 406.3 405.2 406.3 403.3 406.2 399.7 406.2 397.9 406.1 392.4 406.1 390.5 406 386.9 406 385 405.9 383.2 405.9 375.9 405.5 374.1 405.5 370.4 405.3 366.7 405.3 364.9 405.2 359.4 405.2 357.6 405.1 355.8 405.1 353.9 405 352.1 405 346.6 404.7 344.8 404.7 342.9 404.6 341.1 404.6 339.3 404.5 337.4 404.5 335.6 404.4 330.1 404.4 328.3 404.5 326.5 404.5 315.5 405.1 313.6 405.3 310 405.5 308.2 405.3 307.5 404.3 306.1 403.4 304.5 402.8 303.1 403.4 301.8 404.3 300.8 406 299 406.6 295.7 407.1 291.7 407.7 285.1 408.9 284.4 409.1 277 410.3 275.2 410.5 273.4 410.6 271.5 410.8 267.9 411 266.1 411 262.4 411.2 260.6 411.2 256.9 411.4 255.1 411.4 253.2 411.5 251.4 411.5 247.4 411.7 245.9 411.7 244.1 411.8 242.3 411.8 240.4 411.9 238.6 411.9 236.8 412 234.9 412 233.1 412.1 231.3 412.1 229.4 412.2 227.6 412.2 225.8 412.3 220.3 412.3 218.5 412.4 216.6 412.3 211.1 412.3 209.3 412.2 205.6 412.2 203.8 412.1 200.2 412.1 198.3 412 192.8 412 191 411.9 187.3 411.9 185.5 411.8 178.2 411.8 176.4 411.7 172.1 411.7 170.9 411.6 167.2 411.6 165.4 411.5 163.5 411.5 161.7 411.4 159.9 411.4 158.1 411.3 156.2 411.3 152.6 411.1 150.7 411.1 148.9 411 147.1 411 145.2 410.9 143.4 410.9 141.6 410.8 139.6 410.8 136.1 410.6 134.3 410.6 132.4 410.5 130.6 410.5 126.9 410.3 125.1 410.3 123.3 410.2 121.4 410.2 117.8 410 116 410 114.1 409.9 112.3 409.9 108.6 409.7 106.8 409.7 105 409.6 103.1 409.6 101.3 409.5 99.5 409.5 95.8 409.3 94 409.3 92.2 409.2 90.3 409.2 88.5 409.1 86.7 409.1 84.8 409 83 409 83 161.4 84.8 161.3 86.7 161.3 99.5 160.6 101.3 160.5 103.1 160.3 105 160.2 107.9 159.6 108.6 159.4 110.5 159.1 114.1 158.7 128.8 157.9 132.4 157.9 134.3 157.7 136.1 157.4 137.9 157.2 139.7 157.2 143.4 157.4 145.2 157.6 148 157.8 148.9 157.8 152.6 158.2 154.4 158.8 156.2 160 158.1 162 159 163.2 160.9 166 161.8 167.8 163.1 171.5 163.5 172.6 164.2 173.3 165.4 174.2 169 175.5 170.9 176.1 174.5 177.6 176.8 178.8 179.9 180.7 185.5 184.2 187.4 185.2 191 187.3 192.8 187.9 194.7 188.2 196.5 188.4 200.2 189.3 205.3 190.7 205.6 190.9 211.8 192.6 213 192.9 216.6 194.1 220.2 195.3 222.1 196 224 196.6 225.8 197.2 229.4 198.7 231.6 199.9 234.5 201.8 237.7 203.6 240.4 204.7 244.1 205.6 247.8 206 249.6 206.1 251.4 206.1 258.7 205.7 262.4 205.4 264.2 205.2 266.1 205.1 267.9 204.9 269.7 204.8 275.2 204.2 278.9 203.6 284.2 202.7 286.2 202.2 288.6 201.8 292.9 200.8 295.3 200.3 300.1 199 302.4 198.1 304.5 196.8 306.3 195.3 308 193.5 309.3 190.8 310.5 187.1 310.6 184.3 310.2 181.6 309.6 178.8 308.9 177 308.2 175.7 306.3 174 304.5 173.1 302.7 172.7 300.8 171.7 300.1 170.6 299.4 168.8 299.2 167.8 299.3 166.9 299.7 166 300.3 165.1 300.8 164 302.6 162.3 304.8 160.5 305.8 159.6 306.3 158.9 308.2 158.2 309.7 158.7 310 158.7 311.1 159.6 311.8 159.9 313.6 161.8 314.4 163.2 316.4 166 317.3 166.9 318.9 168.8 319.8 169.7 321 170.6 321.8 171.5 322.9 172.4 323.7 173.3 325.8 175.2 327.2 176.1 329.4 177 330.1 177.2 332 177.5 333.8 177.3 335.6 176.7 336.8 176.1 337.4 175.5 338 175.2 339.8 173.3 341.1 172.2 342.1 171.5 344 170.6 346.6 169.6 350.3 168.4 352.1 167.8 357.6 166.3 359.4 165.9 362.3 165.1 365.2 164.2 367.7 163.2 374.1 160.8 375.9 160.2 378 159.6 380.4 158.7 381 157.8 381.1 156.8 383.2 156 383.7 155.9Z"/>
<path fill="#1088E0" fill-rule="evenodd" d="M391 157.8 392.4 157.3 394.2 157.1 396 157 397.9 157.1 399.7 157.1 401.5 157.3 403.3 157.4 405.2 157.6 408.8 158.2 410.7 158.7 412.7 159.6 414.3 160.7 416.9 163.2 419.4 166 420.7 167.8 421.7 169.7 422 171.5 422.1 174.2 422.9 177 423.5 178 425.6 179.8 427.3 180.7 430.8 182.1 432.6 182.6 434.5 182.9 436.3 183.1 441.8 183.1 445.4 182.7 450.9 181.8 452.8 181.6 463.8 179.8 465.6 179.5 469.2 178.6 472.9 177.8 478.4 176.7 480.2 176.3 482.1 176 485.7 175.6 491.2 175.3 493 175.3 496.1 175.2 496.7 175.1 498.5 175.1 500.4 175 502.2 175 504 174.9 505.9 174.9 509.5 174.7 511.4 174.7 513.2 174.6 515 174.6 516.8 174.5 518.7 174.5 520.5 174.4 529.7 174.4 531.5 174.5 533.3 174.5 537 174.7 538.8 174.7 540.6 174.9 544.3 175.1 546.1 175.2 548 175.4 551.6 175.6 553.5 175.8 557.1 176 558.9 176.2 560.8 176.3 562.6 176.5 564.4 176.6 566.3 176.8 569.9 177 571.8 177.2 579.1 177.6 582.7 177.6 584.6 177.5 588.2 177.5 590.1 177.4 591.9 177.4 595.6 177.2 597.4 177.2 604.7 176.8 610.2 176.2 617.5 175.4 619.4 175.1 626.7 174.3 632.2 173.7 634 173.6 636.1 173.3 643.2 172.6 646.8 172.3 648.6 172.2 650.5 172 652.3 171.9 654.1 171.7 672.4 170.7 674.3 170.6 676.1 170.4 679.8 170.2 681.6 170 686.8 169.7 688.9 169.5 690.7 169.4 692.6 169.2 699.6 168.8 699.9 168.7 705.4 168.4 707.2 168.2 710.9 168 712.7 168 716.4 167.8 736.5 167.8 738.3 167.9 742 167.9 742 405 729.2 405 727.4 405.1 718.2 405.1 716.4 405 714.5 405 705.4 404.5 703.5 404.3 698.1 404 696.2 403.8 685.3 403.2 683.4 403.2 679.8 403 677.9 403 674.3 402.8 672.4 402.8 670.6 402.7 668.8 402.7 665.1 402.5 663.3 402.5 659.6 402.3 657.8 402.3 656 402.2 654.1 402.2 650.5 402 648.6 402 646.8 401.9 645 401.9 641.3 401.7 639.5 401.7 637.7 401.6 635.5 401.6 634 401.5 626.7 401.5 624.8 401.4 601 401.4 599.2 401.5 579.1 401.5 577.2 401.4 569.9 401.4 568.1 401.3 564.4 401.3 562.6 401.2 558.9 401.2 557.1 401.1 553.5 401.1 551.6 401 540.6 401 538.8 400.9 518.7 400.9 516.8 400.8 509.5 400.8 507.7 400.7 489.4 400.7 487.6 400.8 485.7 400.8 483.9 400.9 482.1 400.9 478.4 401.1 476.6 401.1 474.7 401.2 472.9 401.2 471.1 401.3 469.2 401.3 467.4 401.4 461.9 401.4 460.1 401.5 441.8 401.5 438.1 401.6 436.3 401.6 434.5 401.7 432.6 401.7 429 401.9 427.1 401.9 425.3 402 423.5 402 421.7 402.1 419.8 402.1 418 402.2 412.5 402.2 410.7 402.1 408.8 402.1 405.2 401.9 403.3 401.9 399.7 401.7 397.9 401.7 396 401.6 388.7 401.6 386.9 401.5 385 401.5 383.2 401.4 381.4 401.4 379.6 401.3 377.7 401.3 375.9 401.2 374.1 401.2 372.2 401.1 370.4 401.1 368.6 401 357.6 401 355.8 400.9 350.3 400.9 348.4 400.8 342.9 400.8 341.1 400.7 330.1 400.7 328.3 400.8 326.5 400.8 313.6 401.5 311.8 401.7 308.2 401.9 306.3 401.6 304.5 401.4 302.7 401.8 300.8 402.6 299 403 295.3 403.5 291.7 404.1 286.2 405 278.9 406.2 271.5 407 266.1 407.3 264.2 407.3 260.6 407.5 258.7 407.5 256.9 407.6 255.1 407.6 251.4 407.8 249.6 407.8 247.8 407.9 244.1 407.9 240.4 408 238.6 408 236.8 408.1 231.3 408.1 229.4 408.2 224 408.2 222.1 408.3 218.5 408.3 216.6 408.2 209.3 408.2 207.5 408.1 202 408.1 200.2 408 196.5 408 194.7 407.9 191 407.9 189.2 407.8 187.3 407.8 185.5 407.7 183.7 407.7 181.9 407.6 180 407.6 176.4 407.4 174.5 407.4 172.7 407.3 170.9 407.3 169 407.2 167.2 407.2 163.5 407.1 161.7 407 158.1 407 156.2 406.9 152.6 406.9 150.7 406.8 147.1 406.8 145.2 406.7 143.4 406.7 141.6 406.6 137.9 406.6 136.1 406.5 134.3 406.5 130.6 406.3 128.8 406.3 126.9 406.2 125 406.2 121.4 406 119.6 406 117.8 405.9 116 405.9 112.3 405.7 110.5 405.7 108.6 405.6 106.8 405.6 105 405.5 103.1 405.5 101.3 405.4 99.5 405.4 97.6 405.3 95.8 405.3 94 405.2 92.2 405.2 90.3 405.1 86.7 405.1 84.8 405 83 405 83 167.9 84.8 167.9 86.7 168 92.2 168 94 168.1 97.6 168.1 99.5 168.2 103.1 168.2 105 168.1 106.8 167.5 108.6 166 110.5 164 111.6 163.2 112.3 162.9 114.7 162.3 119.6 161.8 123.3 161.6 126.9 161.2 128.8 161.2 130.6 161.4 132.4 161.5 134.3 160.5 136.1 159.5 137.9 159 139.7 158.8 150.7 159.4 152.6 159.7 154.5 160.5 156.5 162.3 157.9 164.2 158.6 165.1 159.9 167.3 160.7 169.7 161.2 173.3 161.7 175.4 162.2 176.1 163.5 177 167.2 178.1 169.4 178.8 172.7 180.2 178.6 183.4 182.5 185.2 185.3 187.1 187.8 188.9 189.2 189.5 191 190 196.5 190.3 198.3 190.6 202 191.6 211.1 194.1 215.2 195.3 216.6 195.8 223.6 198.1 227.6 199.6 229.9 200.8 234 203.6 236.8 205.6 238.6 206.7 239.8 207.2 240.4 207.6 242.8 208.2 245.9 208.6 247.8 208.7 251.4 208.7 253.2 208.6 255.1 208.4 258.1 208.2 260.6 207.9 262.4 207.8 267.9 207.2 269.7 207.1 276.8 206.3 278.9 206.1 289.9 204.3 293.5 203.6 297.2 202.8 301.8 201.8 306.3 200.4 308.2 199.6 310 198.5 311.4 197.2 313 195.3 314.2 193.5 314.6 192.6 315.1 190.8 315.3 188.9 315.2 188 313.8 183.4 313.2 181.6 311.8 178.1 311 176.1 309.4 173.3 308.2 171.3 307.7 170.6 307 168.8 307.1 167.8 308.4 166.9 310 166.6 311.8 166.6 313.7 166.9 315.5 167.8 316.4 168.8 317.3 169.3 319.1 170.7 319.9 171.5 321.2 172.4 322.1 173.3 323.2 174.2 324.2 175.2 325.5 176.1 327.2 177 330.1 178 332 178.3 333.8 178.2 335.6 177.7 339.5 176.1 340.9 175.2 342.9 172.9 343.5 172.4 345.1 171.5 348.4 170.2 350.3 169.5 355.8 168 357.6 167.5 363.1 166.1 366.8 165.1 372.2 163.3 375.9 162.1 378.6 161.4 385 159.9 386.9 159.5 388.7 158.9 389.7 158.7 390.5 158 391 157.8ZM555.3 220.7 554.5 221 553.3 221.9 553 222.8 553.2 223.7 554.3 224.7 555.3 225.1 557.1 224.9 557.6 224.7 558.7 223.8 559 222.8 558.7 221.9 557.1 220.7 555.3 220.7Z"/>
<path fill="#10A0E0" fill-rule="evenodd" d="M137.7 161.4 139.7 160.8 141.6 160.7 147.1 161 148.9 161 152.3 161.4 154.4 162.5 156.2 164.6 157 166 158.1 167.5 158.7 169.7 158.9 171.5 158.9 172.4 158.4 174.2 157.7 175.2 155.8 177 155.7 177.9 157.6 178.8 159.9 179.4 161.7 179.8 163.5 180.1 167.2 181.1 170.9 182.5 174.5 184 177.8 185.2 180.9 187.1 183 188.9 184 189.8 185.5 190.9 187.3 191.8 189.2 192.3 191 192.4 192.8 192.4 194.7 192.3 196.5 192.3 198.3 192.6 201.8 193.5 203.8 194.1 207.5 195.1 209.3 195.6 212.1 196.2 216.6 197.5 218.6 198.1 222.1 199.3 224.1 199.9 226.5 200.8 229.4 202.3 231.3 203.6 234.9 206.5 235.9 207.2 236.9 208.2 238.6 209.5 240.4 210.4 242.3 210.8 245.9 211.2 249.6 211.2 251.4 211.1 260.6 210.1 266.1 209.5 267.9 209.4 278.9 208.2 284.4 207.6 288 207 289.9 206.8 292.6 206.3 295.3 205.9 299 205.2 302.7 204.5 304.5 204.1 306.5 203.6 309.6 202.7 311.8 201.8 312 201.8 314 200.8 315.5 199.9 316.7 199 318.2 197.2 319.3 195.3 320.1 193.5 320.3 192.6 320 190.8 319.6 189.8 317.9 187.1 317.2 186.2 315.5 181.4 315 178.8 314.9 177 315.2 176.1 315.5 175.7 317.3 175.3 319.1 175.4 321 175.7 321.7 176.1 322.8 176.5 324.6 177.4 328.3 178.7 330.1 179.2 332 179.4 333.8 179.2 335.6 178.8 341.1 177 343 176.1 344.1 175.2 345.5 173.3 346.6 172.4 348.4 171.4 352.1 170.2 353.9 169.6 355.8 169.1 357.6 168.7 359.4 168.2 364.9 167 368.6 166 372.1 165.1 378.8 163.2 381.4 162.7 383.2 162.3 385 162 390.5 161.4 394.2 161.2 397.9 161.2 400.1 161.4 401.5 161.6 404.2 162.3 406.7 163.2 410.7 165.4 413.8 167.8 415.8 169.7 418 171.9 419.8 174.5 420.9 177 423 179.8 424.3 180.7 427.1 182.1 430.8 183.5 432.6 184 436.3 184.3 438.1 184.4 441.8 184.4 443.6 184.3 445.4 184.1 447.3 183.8 450.9 183.3 454.6 182.9 456.4 182.6 460.1 182.2 461.9 182.1 466.8 181.6 471.1 181.1 474.7 180.9 476.6 180.7 493 179.8 496.7 179.6 498.5 179.6 500.4 179.5 502.2 179.5 505.9 179.3 507.7 179.3 509.5 179.2 511.4 179.2 513.2 179.1 516.8 179.1 518.7 179 526 179 527.8 179.1 529.7 179.1 537 179.5 539.7 179.8 540.6 179.8 555.3 181.4 558.9 181.8 560.8 182.1 564.4 182.5 570 183.4 571.8 183.8 574.8 184.3 575.4 184.5 579.1 185.1 580.9 185.3 584.6 185.1 586.4 184.9 588.2 184.6 593.7 184 599.2 183.7 601 183.5 604.7 183.3 606.5 183.1 608.4 183 612 182.6 613.9 182.3 628.5 180.7 634 180.1 635.8 180 639.5 179.7 641.3 179.5 652.3 178.9 654.1 178.9 656 178.8 662.3 178.8 663.3 178.9 665.1 178.9 672.4 179.3 674.3 179.3 676.1 179.4 679.8 179.4 683.4 179.2 687.1 178.8 688.9 178.5 690.7 178.3 694.4 177.6 703.6 176.1 705.4 175.8 712.7 175 718.2 174.7 725.5 174.7 727.4 174.8 731 174.8 732.8 174.9 734.7 174.9 738.3 175.1 740.2 175.1 742 175.2 742 400.1 736.5 400.1 734.7 400.2 732.8 400.2 731 400.3 727.4 400.3 725.5 400.4 723.7 400.4 721.9 400.5 714.5 400.5 710.9 400.3 709 400.3 707.2 400.2 705.4 400 701 399.8 698.1 399.6 696.2 399.4 690.7 399.1 688.9 398.9 685.3 398.8 677.9 398.4 676.1 398.4 674.3 398.3 672.4 398.3 668.8 398.1 666.9 398.1 665.1 398 663.3 398 659.6 397.8 657.8 397.8 654.1 397.6 652.3 397.6 650.5 397.5 648.6 397.5 645 397.3 643.2 397.3 641.3 397.2 639.5 397.2 637.7 397.1 635.8 397.1 634 397 630.3 397 628.5 396.9 575.4 396.9 573.6 396.8 569.9 396.8 568.1 396.7 564.4 396.7 562.6 396.6 560.8 396.6 558.9 396.5 553.5 396.5 551.6 396.4 526 396.4 524.2 396.3 515 396.3 513.2 396.2 507.7 396.2 505.9 396.1 496.7 396.1 494.9 396 480.2 396 478.4 396.1 441.8 396.1 440 396.2 436.3 396.2 434.5 396.3 432.6 396.3 429 396.5 427.1 396.5 425.3 396.6 423.5 396.6 421.7 396.7 419.8 396.7 418 396.8 416.2 396.8 414.3 396.9 408.8 396.9 407 397 405.2 397 403.3 396.9 386.9 396.9 385 396.8 383.2 396.8 381.4 396.7 379.5 396.7 377.7 396.6 375.9 396.6 374.1 396.5 372.2 396.5 370.4 396.4 361.2 396.4 359.4 396.3 350.3 396.3 348.4 396.2 341.1 396.2 339.3 396.1 328.3 396.1 326.5 396.2 324.6 396.2 322.8 396.3 321 396.3 319.1 396.4 317.3 396.4 311.8 396.7 310 396.7 308.2 396.8 304.5 397.1 299 397.7 295.3 398.3 293.5 398.7 291.7 399 289.9 399.4 288 399.7 284.4 400.5 282.5 400.8 280.7 401.2 277 401.8 271.5 402.4 266.1 402.7 264.2 402.7 260.6 402.9 258.7 402.9 255.1 403.1 253.2 403.1 251.4 403.2 249.6 403.2 247.8 403.3 245.9 403.3 244.1 403.4 240.4 403.4 238.6 403.5 234.9 403.5 233.1 403.6 227.6 403.6 225.8 403.7 213 403.7 211.1 403.6 205.6 403.6 203.8 403.5 198.3 403.5 194.7 403.4 192.8 403.4 191 403.3 189.2 403.3 187.3 403.2 185.5 403.2 181.8 403 180 403 176.4 402.8 174.5 402.8 170.9 402.6 169 402.6 165.4 402.4 163.5 402.4 161.7 402.3 159.9 402.3 156.2 402.1 154.4 402.1 152.6 402 150.7 402 148.9 401.9 147.1 401.9 143.4 401.7 141.6 401.7 139.7 401.6 137.9 401.6 136.1 401.5 134.3 401.5 130.6 401.3 128.8 401.3 126.9 401.2 125.1 401.2 121.4 401 119.6 401 117.8 400.9 116 400.9 112.3 400.7 110 400.7 108.6 400.6 106.8 400.6 105 400.5 103.1 400.5 101.3 400.4 99.5 400.4 97.6 400.3 95.8 400.3 94 400.2 90.3 400.2 88.5 400.1 83 400.1 83 175.2 94 175.8 95.8 176 101.3 176.3 103.1 176.5 105 176.6 107 177 108.6 177.4 112.3 178.5 114.1 178.9 116 179.2 119.6 179.6 121.4 179.8 124 179.8 128.8 179 130.6 178.6 136.1 177 137.8 176.1 137.7 175.2 136.5 173.3 135.8 171.5 135.6 170.6 135.6 168.8 136 165.1 136.4 163.2 136.9 162.3 137.7 161.4ZM553.5 217.7 552.1 218.2 550.6 219.2 548.8 221 547.5 222.8 547.4 223.8 547.7 224.7 548.6 225.6 549.8 226.6 551.6 227.5 553.5 228.1 555.3 228.4 557.1 228.4 558.9 228 560.8 227 561.5 226.5 562.9 224.7 563.3 223.8 563.4 222.8 563.3 221.9 562.3 220.1 560.8 218.7 558.9 217.8 557.1 217.4 555.3 217.4 553.5 217.7ZM569.9 227.1 568.1 227.5 566.3 228.4 565.3 229.2 564.9 230.2 565.1 231.1 566.3 232.2 568.1 233.1 569.9 233.6 571.8 233.8 573.6 233.7 575.4 233.2 576 232.9 576.8 232 577 231.1 576.8 230.2 576.3 229.2 575.2 228.3 573.6 227.5 571.8 227.1 569.9 227.1Z"/>
<path fill="#10B4E0" fill-rule="evenodd" d="M384.7 164.2 385 164.1 386.9 164 388.7 164 392.4 164.3 396 165.1 400.4 166.9 402.4 167.8 404.4 168.8 405.2 169.1 410.7 172.3 412.5 173.5 415.2 175.2 416.2 175.7 418 177.1 420.4 179.8 421.7 180.9 422.7 181.6 425.3 182.9 427.1 183.6 430.8 184.8 432.6 185.2 434.5 185.5 436.3 185.6 438.1 185.6 440 185.7 445.4 185.4 446.4 185.2 447.3 185.2 450.9 184.8 458.3 184.4 461.9 184.4 463.8 184.5 465.6 184.5 467.4 184.6 471.1 184.6 472.9 184.7 476.6 184.7 478.4 184.8 482.1 184.8 483.9 184.9 489.4 184.9 491.2 185 500.4 185 502.2 184.9 505.9 184.9 507.7 184.8 509.5 184.8 511.4 184.7 515 184.7 516.8 184.6 520.5 184.6 531.3 185.2 535.1 185.7 539.4 186.2 540.6 186.3 542.5 186.6 546.1 187 548 187.3 549.8 187.5 555.3 188.5 560.1 189.8 562.6 190.8 564.4 191.7 566.3 193 569 195.3 571.7 197.2 573.6 198.2 575.8 199 577.2 199.4 579.1 199.7 580.9 199.8 582.7 199.7 584.6 199.4 586.4 198.9 588.6 198.1 590.6 197.2 594.9 194.4 597.4 193 599.2 192.2 602.9 191.3 604.7 191.1 606.5 190.8 608.4 190.6 610.2 190.5 613.9 190.1 615.7 190 619.4 189.6 621.2 189.5 623 189.3 626.7 189.1 630.3 188.8 639.5 188.3 641.3 188.3 643.2 188.2 646.8 188.2 648.6 188.3 650.5 188.3 652.3 188.4 657.2 188.9 659.6 189.3 661.5 189.5 669.3 190.8 672.4 191.1 677.9 191.4 679.8 191.4 683.4 191.2 686.9 190.8 690.7 190.1 692.6 189.7 698.9 188 702.1 187.1 703.6 186.6 709 185.1 710.9 184.7 716.4 183.5 718.2 183.2 723.7 182.6 727.4 182.2 732.8 181.9 734.7 181.9 736.5 181.8 742 181.8 742 395.1 740.2 395.1 738.1 395.2 736.5 395.2 734.7 395.3 732.8 395.3 729.2 395.5 727.4 395.5 725.5 395.6 723.7 395.6 721.9 395.7 720 395.7 718.2 395.8 716.4 395.8 714.5 395.7 712.7 395.7 710.9 395.6 709 395.4 705.7 395.2 696.2 394.2 694.4 394.1 690.7 393.7 688.9 393.6 685.3 393.3 679.8 393 677.9 393 674.3 392.8 672.4 392.8 668.8 392.6 666.9 392.6 665.1 392.5 663.3 392.5 659.6 392.3 657.8 392.3 656 392.2 654.1 392.2 650.5 392 648.6 392 646.8 391.9 645 391.9 641.3 391.7 639.5 391.7 637.7 391.6 635.8 391.6 634 391.5 628.5 391.5 626.7 391.4 575.4 391.4 573.6 391.3 569.9 391.3 568.1 391.2 564.4 391.2 562.6 391.1 558.9 391.1 557.1 391 553.5 391 551.6 390.9 522.3 390.9 520.5 390.8 511.4 390.8 509.5 390.7 502.2 390.7 500.4 390.6 480.2 390.6 478.4 390.5 443.6 390.5 441.8 390.6 438.1 390.6 436.3 390.7 432.6 390.7 429 390.9 427.1 390.9 425.3 391 423.5 391 421.7 391.1 419.8 391.1 418 391.2 416.2 391.2 414.3 391.3 412.5 391.3 410.7 391.4 388.7 391.4 386.9 391.3 383.2 391.3 381.4 391.2 379.6 391.2 377.7 391.1 375.9 391.1 374.1 391 372.2 391 370.4 390.9 357.6 390.9 355.8 390.8 346.6 390.8 344.8 390.7 326.5 390.7 324.6 390.8 322.8 390.8 319.1 391 317.3 391 315.5 391.1 313.6 391.1 308.2 391.4 306.3 391.4 304.5 391.5 302.7 391.7 300.8 391.8 295.3 392.4 293.5 392.7 291.7 392.9 288.9 393.3 284.4 394.1 282.5 394.4 280.7 394.8 278.6 395.2 272.6 396.1 267.9 396.6 266.1 396.7 264.2 396.9 258.7 397.2 256.9 397.4 247.8 397.9 245.9 397.9 240.4 398.2 238.6 398.2 236.8 398.3 234.9 398.3 233.1 398.4 231.3 398.4 227.6 398.6 225.8 398.6 224 398.7 218.5 398.7 216.6 398.8 200.2 398.8 198.3 398.7 194.7 398.7 192.8 398.6 191 398.6 180 398 178.2 397.9 176.4 397.7 167.2 397.2 165.4 397.2 161.7 397 159.9 397 158.1 396.9 156.2 396.9 154.4 396.8 150.7 396.8 148.9 396.7 147.1 396.7 145.2 396.6 143.4 396.6 141.6 396.5 139.7 396.5 137.9 396.4 136.1 396.4 134.3 396.3 132.4 396.3 130.6 396.2 128.8 396.2 125.1 396 123.3 396 121.4 395.9 119.6 395.9 116 395.7 114.1 395.7 112.3 395.6 110.5 395.6 108.6 395.5 106.8 395.5 105 395.4 101.3 395.4 99.5 395.3 97.6 395.3 95.8 395.2 91.6 395.2 90.3 395.1 83 395.1 83 181.8 84.8 181.9 86.7 181.9 88.5 182 90.3 182.2 94 182.4 95.8 182.6 97.6 182.7 99.5 182.9 101.3 183 103.1 183.2 106.8 183.4 108.6 183.5 121.4 183.5 123.3 183.4 125.1 183.2 129.6 182.5 130.6 182.3 132.4 182.1 134.3 181.8 136.1 181.6 141.6 181.6 143.4 181.7 145.2 181.7 154.4 182.2 156.2 182.2 159.9 182.5 161.7 182.7 165.8 183.4 169.8 184.3 172.7 185.2 173 185.2 175.2 186.2 176.7 187.1 178.7 188.9 180.5 190.8 181.8 191.9 184 193.5 185.5 194.5 187.3 195.6 189.3 196.2 191 196.5 194.7 196.5 198.3 196.7 201.6 197.2 205.6 197.8 207.5 198.1 209.3 198.5 213 199.1 216.4 199.9 222.1 201.5 225.8 202.7 227.7 203.6 229.4 204.6 231.8 206.3 233.1 207.4 234.9 209.2 236.8 211.2 238.6 212.6 240.4 213.2 242.3 213.5 245.9 213.7 251.4 213.4 256.6 212.8 260.6 212.2 262.4 212 264.2 211.7 273.4 210.7 275.2 210.6 278.9 210.2 282.5 209.9 291.7 208.9 293.5 208.6 296.9 208.2 302.7 207.3 302.8 207.2 304.5 207 308.2 206.3 312.4 205.4 315.9 204.5 318.4 203.6 320.2 202.7 321.5 201.8 323.5 199.9 324.6 198.1 325.5 196.2 326.1 194.4 326.3 193.5 326.3 192.6 326.1 191.7 325.7 190.8 325 189.8 324.2 188.9 322.8 187.8 321 186.2 320.8 185.2 321 184.8 321.8 184.3 322.8 184.1 324.6 184 330.1 184 332 183.7 333.8 182.3 334.4 181.6 335.7 180.7 337.4 179.9 339.3 179.3 341.1 178.6 343.1 177.9 345.1 177 346.6 176.1 347.5 175.2 348.7 173.3 349.8 172.4 351.7 171.5 354.6 170.6 357.6 169.8 361.2 169 368.6 167.4 374.1 166.3 377.7 165.5 379.6 165 383.2 164.4 384.7 164.2ZM566.3 206.3 564.4 206.4 560.8 206.8 557.1 207 555.3 207.2 555.3 207.3 551.6 208.1 549.1 209.1 547.5 210 546.1 211.2 544.9 212.8 543.8 214.6 543 216.4 542.5 218.3 542.3 220.1 542.5 221.9 543.2 223.8 543.8 224.7 545.6 226.5 546.8 227.4 548.3 228.3 549.8 229 551.6 229.6 553.5 230 554 230.2 555.3 230.4 557.9 231.1 558.9 231.3 562.6 232.5 564.4 233.3 566.3 234 569.3 234.8 575.4 235.5 577.2 235.7 579.6 235.7 582.7 235.2 589.7 234.8 591.9 234.3 594.5 233.8 595.6 233.5 597.4 232.5 599.4 230.2 600.2 228.3 600.3 226.5 599.3 221.9 598.5 220.1 597.1 218.2 594.2 215.5 591.9 213.5 588.6 210.9 586.4 209.4 584.6 208.4 581.7 207.2 579.1 206.7 575.4 206.5 571.8 206.5 569.9 206.3 568.1 206.2 566.3 206.3Z"/>
<path fill="#10C8E0" fill-rule="evenodd" d="M375.3 167.8 381.4 167.2 383.2 167.1 385 167.1 386.9 167.3 389.1 167.8 390.5 168.3 391.5 168.8 392.4 169.1 395.3 170.6 399.7 172.6 403.3 174.2 403.6 174.2 405.6 175.2 409.5 177 411.2 177.9 412.6 178.8 415 180.7 416.2 181.6 418 182.6 419.9 183.4 423.5 184.6 425.3 185.1 426 185.2 427.1 185.6 430.8 186.6 434.1 187.1 436.3 187.3 438.1 187.3 440 187.4 443.6 187.4 449.1 187.1 450.9 187.1 452.8 187.2 454.6 187.2 456.4 187.4 460.1 187.6 461.9 187.8 465.6 188 474.7 189 476.6 189.4 479 189.8 483.9 191.1 485.7 191.7 489.8 193.5 493 195 496.7 196.1 498.5 196.5 500.4 196.7 504 196.9 516.8 196.9 518.7 197 520.5 197 535.1 197.8 538.8 197.8 540.6 197.9 546.1 197.9 549.8 198.1 551.6 198.3 553.5 198.6 555.4 199 558 199.9 559 200.8 559.1 201.8 557.9 202.7 553.9 203.6 551.6 203.8 546.1 204.7 544.3 205.1 542.5 205.7 541.2 206.3 540 207.2 539 209.1 538.6 211.8 538.6 213.7 538.5 215.5 538.8 218.2 539.2 220.1 539.5 221.9 539.8 222.8 540.6 224.2 542.7 226.5 545 228.3 546.8 229.2 549.3 230.2 551.6 230.8 557.1 232 560.3 232.9 564.4 234.3 565.7 234.8 569.9 235.8 571.8 236 575.5 236.6 579.1 236.8 584.6 236.3 586.4 236.3 588.2 236.2 592.6 235.7 595.6 235.1 596.6 234.8 597.4 234.4 599.3 232.9 600.8 231.1 601.4 230.2 602.2 228.3 602.4 226.5 601.6 222.8 601.1 220.1 600 217.3 598.4 214.6 596 210.9 595.1 210 593.7 208.9 590.9 207.2 589.8 206.3 590.3 205.4 592.6 204.5 595.6 203.6 597.4 203 601 202 602.9 201.6 606.5 201 612 200.4 613.9 200.3 621.2 199.5 623 199.4 626.7 199 634 198.6 635.8 198.6 637.7 198.5 643.2 198.5 645 198.6 646.8 198.6 650.5 198.8 652.3 198.8 655.2 199 663.3 199.4 665.1 199.4 666.9 199.5 674.3 199.5 676.1 199.4 677.9 199.4 679.8 199.2 682.7 199 685.3 198.7 689.1 198.1 693.4 197.2 696.2 196.5 701.7 195 703.6 194.6 707.7 193.5 710.9 192.7 718.2 191.1 721.9 190.3 723.7 190 725.5 189.6 727.4 189.3 731 188.6 734.7 188.2 738.3 187.8 740.2 187.7 742 187.7 742 390.1 734.7 390.1 732.8 390.2 729.2 390.2 727.4 390.3 725.5 390.3 723.7 390.4 716.4 390.4 712.7 390.2 710.9 390 709 389.9 705.4 389.5 703.6 389.2 699.7 388.8 698.1 388.5 696.2 388.3 692.6 387.8 685.3 387 677.9 386.6 676.1 386.6 672.4 386.4 670.6 386.4 666.9 386.2 665.1 386.2 663.3 386.1 661.5 386.1 657.8 385.9 656 385.9 654.1 385.8 652.3 385.8 648.6 385.6 646.8 385.6 645 385.5 643.2 385.5 639.5 385.3 637.7 385.3 635.8 385.2 632.2 385.2 630.3 385.1 579.1 385.1 577.2 385 571.8 385 569.9 384.9 566.3 384.9 564.4 384.8 562.6 384.8 560.8 384.7 557.1 384.7 555.3 384.6 549.8 384.6 548 384.5 522.3 384.5 520.5 384.6 516.8 384.6 515 384.7 511.4 384.7 509.5 384.8 505.9 384.8 504 384.9 491.2 384.9 489.4 384.8 487.6 384.8 485.7 384.7 483.9 384.7 482.1 384.6 480.2 384.6 478.4 384.5 476.6 384.5 474.7 384.4 472.9 384.4 471.1 384.3 469.2 384.3 467.4 384.2 434.5 384.2 432.6 384.3 427.1 384.3 425.3 384.4 419.8 384.4 418 384.5 357.6 384.5 355.8 384.6 352.1 384.6 350.3 384.7 346.6 384.7 344.8 384.8 341.1 384.8 339.3 384.9 335.6 384.9 333.8 385 332 385 328.3 385.1 326.5 385.2 324.6 385.2 321 385.4 319.1 385.4 315.5 385.6 313.6 385.6 310 385.8 308.2 385.8 304.5 386 302.7 386 289.9 386.7 288 386.9 284.4 387.9 282.5 388.2 280.7 388.3 278.9 388.3 277 388.1 275.2 388.2 271.8 388.8 269.7 389.1 266.1 389.8 262.4 390.4 256.9 391.3 249.6 392.1 247.8 392.2 245.9 392.4 242.3 392.6 240.4 392.6 236.8 392.8 234.9 392.8 231.3 393 229.4 393 227.6 393.1 225.8 393.1 224 393.2 222.1 393.2 220.3 393.3 194.7 393.3 192.8 393.2 189.2 393.2 185.5 393 183.7 393 180 392.8 178.2 392.8 174.5 392.6 172.7 392.6 170.9 392.5 169 392.5 165.4 392.3 163.5 392.3 161.7 392.2 159.9 392.2 156.2 392 154.4 392 152.6 391.9 150.7 391.9 147.1 391.7 145.2 391.7 143.4 391.6 141.6 391.6 137.9 391.5 134.3 391.3 132.4 391.3 128.8 391.1 126.9 391.1 125.1 391 123.3 391 119.6 390.8 117.8 390.8 116 390.7 114.1 390.7 110.5 390.6 108.6 390.5 106.8 390.5 105 390.4 103.1 390.4 101.3 390.3 97.6 390.3 95.8 390.2 92.2 390.2 90.3 390.1 83 390.1 83 187.7 86.7 187.7 88.5 187.8 92.2 188.1 94 188.3 95.8 188.4 99.5 188.8 106.8 189.2 108.6 189.2 110.5 189.1 116 188.5 121.4 187.6 123.3 187.4 128.8 186.6 139.7 185.4 141.6 185.2 143.4 185.1 145.2 184.9 147.1 184.8 148.9 184.8 152.6 184.6 154.4 184.6 156.2 184.5 158.1 184.5 159.9 184.6 161.7 184.6 166.9 185.2 170.9 186.4 172.7 187.4 174.4 188.9 176 190.8 177.9 192.6 181.2 195.3 182.2 196.2 185.6 199.9 186.5 200.8 187.3 201.9 189.2 203.7 191 204.9 192.8 205.6 194.7 205.9 196.5 206.1 200.2 206.3 205.6 206.6 207.5 206.6 218.5 207.2 224 207.5 225.8 207.7 227.8 208.2 229.4 208.8 231.4 210 233.1 211.8 233.7 212.8 235.3 214.6 236.8 215.6 238.6 216.1 240.4 216.4 242.3 216.5 244.1 216.5 247.8 216.3 251.4 215.9 264.2 213.8 266.1 213.5 267.9 213.3 269.7 213 272.1 212.7 275.2 212.4 277 212.3 278.9 212.1 282.5 211.9 284.4 211.7 286.2 211.6 288 211.4 291.7 211.2 300.8 210.2 302.7 209.9 304.5 209.7 306.3 209.4 310 208.9 313.6 208.3 319.1 207.4 322.8 206.6 327.2 205.4 329.7 204.5 331.1 203.6 332 202.5 332.8 200.8 333.4 199 334.4 194.4 335 192.6 335.9 190.8 337.3 188 338 185.2 338.7 183.4 339.3 182.5 341.1 181.3 342.9 180.3 344.8 179.4 347.8 177.9 349.3 177 350.4 176.1 351 175.2 351.5 174.2 352.1 173.3 353.3 172.4 355.8 171.5 359.4 170.6 363.1 169.8 364.9 169.4 372.2 168.2 375.3 167.8Z"/>
<path fill="#10D8D8" fill-rule="evenodd" d="M366.4 170.6 370.4 170 372.2 169.9 374.1 169.7 377.7 169.7 379.6 169.9 381.4 170.2 383.2 170.7 388.7 172.8 392.4 174.2 396 175.9 401.5 178 403.4 178.8 405.2 179.8 407 181.4 408.8 183.6 412.7 188 414.3 189.5 416.2 190.6 416.4 190.8 418 191.4 419.8 191.8 421.7 192.1 423.5 192.3 425.3 192.4 429 192.7 438.1 193.2 443.6 193.2 445.4 193.1 447.3 193.1 450.9 192.9 452.8 192.9 454.6 192.8 461.9 192.8 463.8 192.9 465.6 193.1 468 193.5 471.3 194.4 473.6 195.3 476.6 196.7 479.4 198.1 482.1 199.3 483.9 200 487.6 201.5 488.1 201.8 491.2 202.8 494.9 203.8 496.7 204.2 500.4 204.7 502.2 204.9 505.9 205.1 507.7 205.1 513.6 205.4 515 205.7 517.1 206.3 518.2 207.2 519.8 210 521.4 212.8 522.4 213.7 524.3 214.6 527.8 215.9 529.7 216.7 531.9 218.2 533.3 219.4 534.6 221 535.8 222.8 536.6 223.8 538.5 225.6 540.6 227.4 542.5 228.7 544.3 229.7 546.1 230.4 548.5 231.1 551.6 231.8 553.5 232.1 557.1 232.9 560.8 233.9 563.3 234.8 566.3 235.7 570.5 236.6 573.6 237 577.2 237.5 579.1 237.6 580.9 237.5 582.7 237.3 584.6 237.2 586.4 237.2 590.1 237 593.7 236.6 595.6 236.3 597.4 235.9 599.2 235 601 233.5 602.3 232 603.5 230.2 604.2 228.3 604.5 226.5 604.5 222.8 604.8 221 605.4 219.2 605.9 218.2 607.2 216.4 608.8 214.6 610.7 212.7 612.1 211.8 614 210.9 617.5 209.6 619.4 209.1 622.3 208.2 623 207.9 626.7 206.9 630.3 206.2 634 205.8 637.7 205.6 641.3 205.6 643.2 205.7 645 205.7 648.6 205.9 650.5 205.9 657.8 206.3 665.1 206.3 666.9 206.2 668.8 206.2 677.9 205.7 681.6 205.3 683.4 205.2 685.3 204.9 687.1 204.7 690.7 204.1 696.2 202.9 701.2 201.8 704.7 200.8 705.4 200.7 709 199.7 714.5 198.4 728 196.2 729.2 196.1 734.7 195.2 736.5 195 738.3 194.7 741.3 194.4 742 194.4 742 384.5 740.2 384.5 738.3 384.6 734.7 384.6 732.8 384.7 731 384.7 729.2 384.8 727.4 384.8 725.5 384.9 723.7 384.9 721.9 385 718.2 385 716.4 384.9 714.5 384.9 712.7 384.7 710.9 384.6 707.1 384.2 705.4 383.9 703.6 383.7 696.2 382.5 692.6 381.9 688.9 381.2 683.4 380.6 674.3 380.1 672.4 380.1 668.8 379.9 666.9 379.9 663.3 379.7 661.5 379.7 657.8 379.5 656 379.5 652.3 379.3 650.5 379.3 648.6 379.2 646.8 379.2 643.2 379 641.3 379 639.5 378.9 637.7 378.9 635.8 378.8 634 378.8 632.2 378.7 582.7 378.7 580.9 378.6 575.4 378.6 573.6 378.5 571.8 378.5 569.9 378.4 568.1 378.4 566.3 378.3 564.4 378.3 560.8 378.1 558.9 378.1 557.1 378 555.3 378 553.5 377.9 551.6 377.9 549.8 377.8 538.7 377.8 537 377.7 529.7 377.7 527.8 377.8 522.3 377.8 520.5 377.9 516.8 377.9 513.2 378.1 511.4 378.1 509.5 378.2 507.7 378.2 504 378.4 502.2 378.4 500.4 378.5 489.4 378.5 487.6 378.4 485.7 378.4 482.1 378.2 480.2 378.2 478.4 378.1 476.6 378.1 472.9 377.9 469.2 377.9 467.4 377.8 460.4 377.8 460.1 377.7 364.9 377.7 363.1 377.8 357.6 377.8 355.8 377.9 352.1 377.9 348.4 378.1 346.6 378.1 344.8 378.2 342.9 378.2 339.3 378.4 337.4 378.4 321 379.3 317.3 379.6 302.7 380.4 300.8 380.4 299 380.5 284.4 380.5 282.5 380.6 280.7 380.6 277 380.8 275.2 381.1 272.9 381.4 267.9 382.4 266.1 382.9 260.6 384.1 256.9 384.9 253.2 385.7 249.6 386.3 244.1 386.9 236.8 387.3 234.9 387.3 231.3 387.5 229.4 387.5 227.6 387.6 225.8 387.6 224 387.7 222.1 387.7 220.3 387.8 192.8 387.8 191 387.7 189.2 387.7 187.3 387.6 185.5 387.6 183.7 387.5 181.8 387.5 178.2 387.3 176.4 387.3 174.5 387.2 172.7 387.2 169 387 167.2 387 165.4 386.9 163.5 386.9 159.9 386.7 158.1 386.7 154.4 386.5 152.6 386.5 150.7 386.4 148.9 386.4 145.2 386.2 143.4 386.2 141.6 386.1 139.7 386.1 136.1 385.9 134.3 385.9 132.4 385.8 130.6 385.8 126.9 385.6 125.1 385.6 123.3 385.5 121.4 385.5 117.8 385.3 116 385.3 114.1 385.2 112.3 385.2 108.6 385 106.8 385 105 384.9 101.3 384.9 99.5 384.8 97.6 384.8 95.8 384.7 94 384.7 92.2 384.6 90.3 384.6 88.5 384.5 83 384.5 83 194.4 86.7 194.2 92.2 194.2 94 194.3 95.8 194.3 97.6 194.4 101.3 194.4 103.1 194.5 106.8 194.4 110.5 194.2 114.1 193.8 117.8 193.3 119.6 193 123.3 192.3 125.1 191.9 128.8 191.2 132.4 190.4 134.7 189.8 136.1 189.6 139.7 188.8 144.4 188 150.7 187 156.2 186.4 158.1 186.3 161.7 186.3 163.5 186.5 165.4 186.8 167.2 187.5 168.2 188 169.4 188.9 170.9 190.4 172 191.7 174.5 194.1 176.8 196.2 178.6 198.1 181.6 200.8 183.7 203.1 184.7 204.5 186.3 206.3 189 209.1 190.1 210 191 211 192 211.8 193 212.8 194.7 214.1 196.5 215.2 198.3 215.9 200.2 216.3 202 216.5 203.8 216.6 205.6 216.8 209.3 217 211.1 217 216.6 217.3 220.3 217.5 222.1 217.5 225.8 217.7 227.6 217.9 231.9 219.2 234.9 219.6 236.8 219.6 238.6 219.7 240.4 219.6 242.3 219.6 244.1 219.5 247.4 219.2 251.4 218.6 257.4 217.3 260.6 216.7 262.4 216.3 266.1 215.6 267.9 215.3 269.7 215.1 271.5 214.8 277 214.2 282.5 213.9 284.4 213.7 297.2 213 299 212.8 300.8 212.7 304.5 212.3 311.8 211.1 315.5 210.5 317.3 210.3 321 209.8 335.6 208.2 339.3 207.6 340.7 207.2 341.1 207.2 343.8 206.3 345.9 205.4 347.3 204.5 348.1 203.6 348.4 202.7 348.1 200.8 347.5 199 346.4 194.4 345.8 189.8 345.8 187.1 346.1 185.2 346.9 183.4 347.5 182.5 348.4 181.5 350.4 179.8 352.9 177.9 353.9 177 354.7 176.1 355.6 174.2 356.3 173.3 357.9 172.4 361.3 171.5 364.9 170.9 366.4 170.6ZM286.2 317 286 317.2 285.9 318.2 286.2 319.9 287.1 320.9 287.4 321.8 287.6 323.7 287.6 329.2 287.3 331 286.1 332.8 285.8 334.7 285.8 338.3 285.9 339.2 286.2 339.9 286.9 339.2 288.1 338.3 288.6 334.7 288.8 333.8 289.2 332.8 289.9 331.9 290.2 330.1 290.2 323.7 289.9 321.9 288.9 320.9 288 319.1 286.7 318.2 286.2 317Z"/>
<path fill="#10E0B0" fill-rule="evenodd" d="M367.5 173.3 371 173.3 374.1 173.9 375.9 174.2 375.9 174.3 379.6 175.2 382.3 176.1 385 177.3 386.9 178.1 390.5 179.3 392.4 179.7 392.4 179.8 394.2 180.3 396 181 397.9 181.9 399.9 183.4 401.8 185.2 402.6 186.2 403.6 188 404.8 190.8 405.8 192.6 407.2 194.4 408.8 196.2 410.7 197.7 411.1 198.1 412.5 199 414.3 199.9 417.4 200.8 421.7 201.5 423.5 201.7 423.6 201.8 425.3 201.9 430.8 202.5 434.5 202.8 438.1 203 445.4 203 447.3 202.9 449.1 202.9 452.4 202.7 456.4 202.3 461.9 202 463.8 202 465.6 202.1 467.4 202.3 469.2 202.7 472.9 204 475.9 205.4 478.4 206.8 482.1 209.5 484.2 211.8 485.7 213.8 486.4 214.6 487.6 215.5 489.4 216.6 491.2 217.3 494.9 218.4 498.3 219.2 509.5 221 513.2 221.8 520.5 223.4 523 223.8 526 224 527.8 224.2 529.7 224.5 531.5 224.9 533.4 225.6 535.3 226.5 538.8 228.6 541.7 230.2 544.3 231.1 547.8 232 553.5 233 555.3 233.4 557.5 233.8 560.8 234.7 564.4 235.9 567.1 236.6 569.9 237.2 573.6 237.7 575.4 238 577.2 238.2 579.1 238.3 584.6 238 586.4 238 588.2 237.9 590.1 237.9 591.9 237.7 595.6 237.4 597.4 237.2 599.2 236.7 599.9 236.6 602.5 235.7 604 234.8 605.6 232.9 607.2 230.2 608.4 227.4 609.3 223.8 609.6 222.8 610.7 221 612 219.6 613.9 218.2 615.7 217.2 617.5 216.4 623 214.3 624.8 213.7 624.8 213.6 630.3 212.1 632.2 211.8 635.8 211.6 637.7 211.6 641.7 211.8 648.6 212.6 654.1 213.2 659.6 213.5 666.9 213.1 672.4 212.5 674.3 212.2 677.5 211.8 679.8 211.6 681.6 211.3 683.4 211.1 687.1 210.5 692.6 209.4 694.4 209 696.2 208.5 698.1 208.1 701.5 207.2 705.4 206.4 709 205.6 710.9 205.3 712.7 205.1 714.5 204.8 720 204.5 727.4 204.5 731 204.7 732.8 204.7 738.3 205 742 205 742 379.4 740.2 379.4 729.2 380 727.4 380.2 723.7 380.4 721.9 380.4 716.4 380.5 712.7 380.3 709 379.9 705.4 379.3 703.6 378.9 701.7 378.6 698.1 377.8 694.4 377 692.6 376.5 687.1 375.5 683.7 375 679.8 374.6 677.9 374.5 676.1 374.3 668.8 373.9 666.9 373.7 657.8 373.2 656 373.1 654.1 373.1 650.5 372.9 648.6 372.9 646.8 372.8 645 372.8 641.3 372.6 639.5 372.6 637.7 372.5 635.8 372.5 634 372.4 630.3 372.4 628.5 372.3 579.1 372.3 577.2 372.2 573.6 372.2 571.8 372.1 569.9 372.1 568.1 372 566.3 372 562.6 371.8 560.8 371.8 558.9 371.7 557.1 371.7 553.5 371.5 551.6 371.5 548 371.3 546.1 371.3 544.3 371.2 542.5 371.2 538.8 371 535.1 371 533.3 370.9 526 370.9 524.2 371 522.3 371 520.5 371.1 518.7 371.1 514.5 371.3 504 371.9 502.2 371.9 498.5 372.1 487.6 372.1 485.7 372 483.9 372 480.2 371.8 478.4 371.8 476.6 371.7 474.7 371.7 471.1 371.5 469.2 371.5 467.4 371.4 465.6 371.4 461.9 371.3 460.1 371.3 458.3 371.2 454.6 371.2 452.8 371.1 449.1 371.1 447.3 371 441.8 371 440 370.9 361.2 370.9 359.4 371 357.6 371 355.8 371.1 353.9 371.1 349.7 371.3 333.8 372.2 330.1 372.4 326.5 372.8 324.6 372.9 319.1 373.5 317.3 373.6 311.8 374.2 308.2 374.4 306.3 374.6 304.5 374.6 302.7 374.7 299 374.7 297.2 374.6 295.3 374.6 288 374.2 286.2 373.9 285.3 373.2 284.4 372.1 283.9 370.4 284 368.6 284.7 366.8 284.8 364.9 284.6 363.1 284.5 360.3 284.4 357.9 284.2 356.7 283.4 354.8 282.5 354 280.7 353.8 280.4 353.9 279.4 354.8 279 355.8 278.8 357.6 278.7 360.3 278.4 364 278.2 364.9 277.8 365.8 277 366.8 276.5 367.7 275.9 369.5 275.2 372 274.3 373.2 273.4 374.1 269.7 374.9 266.1 375.9 262.4 376.8 258.9 377.8 255.1 378.7 250.9 379.6 245.1 380.5 240.4 381 236.8 381.2 233.1 381.5 220.3 382.2 218.5 382.2 216.6 382.3 192.8 382.3 191 382.2 189.2 382.2 187.3 382.1 185.5 382.1 183.7 382 181.8 382 180 381.9 178.2 381.9 176.4 381.8 174.5 381.8 172.7 381.7 170.9 381.7 167.2 381.5 165.4 381.5 163.2 381.4 159.9 381.3 158.1 381.3 154.4 381.1 152.6 381.1 150.7 381 148.9 381 145.2 380.8 143.4 380.8 139.7 380.6 137.9 380.6 134.3 380.5 130.6 380.3 128.8 380.3 126.9 380.2 125.1 380.2 121.4 380 119.6 380 117.8 379.9 116 379.9 112.3 379.7 110.5 379.7 108.6 379.6 105 379.6 103.1 379.5 99.5 379.5 97.6 379.4 94 379.4 92.2 379.3 84.8 379.3 83 379.4 83 205 84.8 205 88.5 204.8 92.2 204.5 99.5 203.7 108.7 202.7 114.1 201.8 117.8 201.1 119.6 200.6 122.6 199.9 123.3 199.8 128.8 198.3 130.6 197.7 134.3 196.6 136.1 196 138.4 195.3 141.6 194.5 145.2 193.5 147.1 193.1 154.4 191.1 156.2 190.7 158.1 190.4 159.9 190.2 161.7 190.4 163.5 190.9 165 191.7 165.4 191.8 167.7 193.5 169.8 195.3 172 198.1 173.6 199.9 175.5 201.8 179.4 205.4 181.7 207.2 182.8 208.2 183.7 208.7 184.1 209.1 186.5 210.9 187.6 211.8 192.3 216.4 193.2 217.3 194.7 218.6 198.3 220.9 202 222.6 205.2 223.8 208.6 224.7 211.1 225.1 214.8 225.3 218.5 225.3 220.3 225.1 224 224.5 229.4 223.3 231.3 223 233.1 222.8 238.6 222.5 240.4 222.5 244.1 222.3 247.8 221.9 249.6 221.6 252.5 221 256.9 220 258.7 219.5 264.2 218.3 269 217.3 273.4 216.6 277 216.2 280.7 216 282.5 215.8 284.4 215.8 300.8 214.9 302.7 214.7 304.5 214.6 312.9 213.7 317.3 213 319.3 212.8 323.7 211.8 326.5 211.4 330.1 211 333.8 210.8 341.1 210.8 342.9 210.9 344.8 210.9 346.6 211 352.1 211 355.8 210.8 357.6 210.6 360.5 210 363.4 209.1 365.9 208.2 367.2 207.2 367.6 206.3 367.6 203.6 367.1 201.8 366.6 200.8 364.9 198.4 363.1 196.3 361.2 194.1 359.4 191.7 358.1 188.9 357.2 186.2 357.1 183.4 357.3 182.5 358.4 180.7 359.4 179.4 361.2 177.4 362.5 176.1 363.2 175.2 364.3 174.2 366.7 173.4 367.5 173.3ZM284.4 314.6 283.8 315.4 283.8 316.3 284.4 318.4 285.8 321.8 286.2 323.7 286.2 328.2 286 330.1 284.5 333.8 284.3 334.7 284.3 339.2 284.5 340.2 285.2 341.1 286.2 341.8 287.5 341.1 288.4 340.2 289.4 338.3 289.9 336.5 290.1 334.7 290.3 333.8 291.1 331.9 291.6 330.1 291.6 324.6 291.3 322.8 291 321.8 289.9 319.7 289.3 319.1 288.7 318.2 288 317 286.6 315.4 286.2 315.1 284.4 314.6Z"/>
<path fill="#10E070" fill-rule="evenodd" d="M388.7 192.6 390.5 192.7 392.4 193.1 394.2 193.9 396.4 195.3 397.9 196.5 399.5 198.1 402.2 200.8 403.5 201.8 405 202.7 405.2 202.7 407.1 203.6 408.8 204.2 412.5 204.9 414.3 205.2 416.2 205.4 425.3 205.9 427.1 205.9 432.6 206.2 434.5 206.2 445.4 206.8 447.3 207 450.4 207.2 452.8 207.5 458.3 208.4 461.9 209.4 463.8 210.2 465.1 210.9 467.4 212.7 470.5 215.5 471.7 216.4 473.2 217.3 474.7 218 478.4 219.1 483.9 220.6 489.4 221.9 491.2 222.4 493.3 222.8 497.6 223.8 498.5 223.9 502 224.7 504 225.1 506.7 225.6 507.7 225.7 509.5 226.1 513.2 226.6 515 226.9 520.5 227.5 524.2 227.7 526 227.7 529.7 227.9 532 228.3 535 229.2 537 230 537.3 230.2 540.6 231.4 544.3 232.4 549.8 233.4 553.5 233.9 555.3 234.2 557.8 234.8 558.9 235 564.3 236.6 569.9 237.9 573.6 238.4 575.4 238.7 577.2 238.9 579.1 239 580.9 239 584.6 238.8 590.1 238.8 593.7 238.6 595.6 238.6 599.2 238.3 601 238.2 604.7 237.8 606.5 237.4 608.6 236.6 609.8 235.7 610.4 234.8 611.7 232 612.5 230.2 613.8 226.5 614.7 223.8 615.2 222.8 616 221.9 617.5 220.8 621.2 219.3 623 218.8 625.8 218.2 628.5 217.8 632.2 217.4 634 217.3 640 217.3 654.1 218.1 656 218.1 657.8 218.2 659.6 218.2 661.5 218.1 663.3 218.1 666.9 217.9 668.8 217.7 672.4 217.5 674.3 217.3 676.1 217.2 683.4 216.4 687.1 216 692.6 215.1 699.1 213.7 701.7 213 703.6 212.6 706.5 211.8 707.2 211.7 709 211.2 714.5 210.2 718.2 209.8 720 209.8 721.9 209.7 723.7 209.7 725.5 209.8 729.2 209.8 731 209.9 732.8 209.9 736.5 210.1 738.3 210.1 740.2 210.2 742 210.2 742 375.1 740.2 375.1 725.7 375.9 720 376.2 718.2 376.2 714.5 376 710.9 375.6 705.4 374.4 701.7 373.4 694 371.3 688.9 370.1 685.2 369.5 677.9 368.7 672.4 368.4 670.6 368.2 661.5 367.7 656 367.4 654.1 367.4 650.5 367.2 648.6 367.2 646.8 367.1 645 367.1 643.2 367 641.3 367 639.5 366.9 637.7 366.9 635.8 366.8 634 366.8 632.2 366.7 604.7 366.7 602.9 366.6 579.1 366.6 577.2 366.5 575.4 366.5 573.6 366.4 571.8 366.4 569.9 366.3 568.1 366.3 566.3 366.2 564.4 366.2 560.8 366 558.9 366 557.1 365.9 555.3 365.9 551.6 365.7 549.8 365.7 546.1 365.5 544.3 365.5 540.6 365.3 538.8 365.3 537 365.2 535.1 365.2 533.3 365.1 527.8 365.1 526 365.2 522.3 365.2 498.5 366.5 496.7 366.5 494.9 366.6 491.2 366.6 489.4 366.5 487.6 366.5 485.7 366.4 483.9 366.4 482.1 366.3 480.2 366.3 476.6 366.1 474.7 366.1 472.9 366 471.1 366 469.2 365.9 467.4 365.9 465.6 365.8 463.8 365.8 461.9 365.7 458.3 365.7 456.4 365.6 454.6 365.6 452.8 365.5 449.1 365.5 447.3 365.4 443.6 365.4 441.8 365.3 361.2 365.3 359.4 365.4 357.6 365.4 355.8 365.5 353.9 365.5 348.4 365.8 332 366.7 328.3 366.9 326.5 367.1 322.8 367.3 319.1 367.7 317.3 367.8 311.8 368.4 308.2 368.7 304.5 368.9 300.8 368.9 293.5 368.5 289.9 368.1 288 367.7 287.4 366.8 286.5 364 286.1 362.2 285.4 355.8 285.2 354.8 284.4 353.7 282.5 352.7 280.7 352.5 278.8 353 278 353.9 277.7 354.8 277.4 357.6 277.1 361.2 276.6 363.1 275.7 364.9 275.2 365.6 274.8 365.8 273.4 367.2 271 367.7 266.1 368.5 264.2 368.9 256.9 370.8 255.1 371.4 248.5 373.2 244.1 374 240.4 374.4 238.6 374.5 236.8 374.7 234.9 374.8 233.1 375 231.3 375.1 229.4 375.3 227.6 375.4 225.8 375.6 214.8 376.2 213 376.2 211.1 376.3 207.5 376.3 205.6 376.4 203.8 376.4 202 376.5 198.3 376.5 196.5 376.6 167.2 376.6 165.4 376.5 161.7 376.5 159.9 376.4 158.1 376.4 156.2 376.3 154.4 376.3 150.7 376.1 148.9 376.1 147.1 376 145.2 376 141.6 375.9 139.7 375.8 137.9 375.8 134.3 375.6 132.4 375.6 130.6 375.5 128.8 375.5 125.1 375.3 123.3 375.3 121.4 375.2 119.6 375.2 117.8 375.1 116 375.1 114.1 375 106.8 375 105 374.9 101.3 374.9 99.5 375 84.8 375 83 375.1 83 210.2 86.7 210.4 88.5 210.4 97.6 210.9 101.3 211.1 103.1 211.1 106.8 211.3 108.6 211.3 110.5 211.2 112.3 211.2 117.8 210.6 123.3 209.7 128.8 208.6 132.4 207.8 137.9 206.5 139.7 206 143.4 205.1 145.8 204.5 148.9 203.6 152.6 202.4 154.4 201.7 157.2 200.8 158.1 200.6 159.9 200.4 161.7 200.5 163.5 201.2 165.4 202.4 167.2 203.9 168.8 205.4 171.8 208.2 174.5 210.1 176.4 211.2 178.2 212 180.1 212.8 183.7 214 185.5 214.7 187.3 215.7 190.5 218.2 192.8 220.2 195.2 221.9 198.3 223.8 200.2 224.7 203.8 226.1 207.9 227.4 209.3 227.8 211.1 228.1 213 228.1 220.3 227.7 222.6 227.4 224 227.1 227.6 226.1 231.3 225.5 233.1 225.3 234.9 225.2 238.6 225.2 240.4 225.1 242.3 225.1 244.1 225 247.8 224.6 249.6 224.3 252.2 223.8 253.2 223.5 255.1 223.1 260.6 221.6 264.2 220.7 269.7 219.5 275.2 218.6 278.5 218.2 293.5 217.4 302.7 216.9 311.8 215.9 313.6 215.6 321 214.8 326.5 214.2 333.8 213.8 337.4 213.8 339.3 213.7 344.8 213.7 346.6 213.6 353.9 213.6 355.8 213.5 359.4 213.5 361.2 213.3 362.4 212.8 364.9 212.5 366.7 212.1 367.5 211.8 370.4 211.2 374.7 210 376.9 209.1 378.2 208.2 378.8 207.2 379.1 205.4 379.3 202.7 379.4 199.9 379.7 198.1 380.7 196.2 381.5 195.3 383.2 194 385 193.1 386.9 192.7 388.7 192.6ZM729.2 362.6 727.4 363.4 724.8 365.8 723.5 366.8 720 368.6 718.5 370.4 718.7 371.3 721.3 372.2 721.9 372.5 722.3 372.2 723.7 371.6 724.7 370.4 726.4 368.6 727.4 367.7 728.1 366.8 729.2 365.7 730.4 364 730 363.1 729.2 362.6ZM284.4 313.7 282.6 314.5 282.5 315.6 283.2 317.2 283.8 319.1 284 320 284.9 321.8 285.4 323.7 285.5 326.4 285.3 329.2 285.1 330.1 284.4 331.7 283.8 332.8 283.5 334.7 283.5 336.5 283.4 339.2 283.7 341.1 284.4 342.1 286.2 342.8 288.1 342 288.9 341.1 289.9 339.6 290.4 338.3 290.9 334.7 291.8 332.8 292.3 331 292.4 325.5 292.2 322.8 292 321.8 289.8 318.2 288.5 316.3 287.8 315.4 286.2 314.1 284.4 313.7ZM352.1 214.2 351.5 214.6 351.6 215.5 355.8 216.2 358.6 216.4 361.2 216.5 364.9 216.4 368.6 216 371.1 215.5 371.7 214.6 370.4 214.3 366.7 213.9 364.9 213.8 357.6 213.8 353.9 214 352.1 214.2Z"/>
<path fill="#40E010" fill-rule="evenodd" d="M408.5 210 408.8 209.9 414.3 209.6 418 209.6 423.5 209.9 425.3 209.9 430.8 210.2 432.6 210.4 434.5 210.5 437.8 210.9 440 211.4 441.8 212.1 443.6 212.9 447.3 215 449.5 216.4 451.2 217.3 453.4 218.2 454.6 218.6 457 219.2 462.4 220.1 467.9 221 472.2 221.9 476 222.8 478.4 223.4 480.2 223.9 482.1 224.3 483.9 224.8 487.7 225.6 493 226.5 494.9 226.8 498.5 227.6 503 228.3 505.9 228.8 509.1 229.2 515 230.2 520.5 230.8 524.2 231 529.7 231 531.5 231.1 535.1 231.7 542.5 233.3 544.3 233.6 546.1 233.8 548 234.1 549.8 234.3 557.1 235.5 560.8 236.4 562.6 237 569.9 238.7 571.8 239 574.5 239.3 575.4 239.5 577.2 239.7 579.1 239.8 580.9 239.8 582.7 239.7 584.6 239.7 588.2 239.9 591.9 239.9 593.7 240 595.6 240 599.2 240.2 601 240.2 602.9 240.3 603 240.2 604.7 240.2 608.4 239.8 610.2 239.3 612.7 238.4 614.4 237.5 615.7 236.5 616.4 235.7 618.8 231.1 619.8 229.2 621.2 227.1 623 224.9 624.8 223.6 627.6 222.8 632.2 222.3 634 222.2 637.7 222.2 645 222.6 646.8 222.6 650.5 222.8 652.8 222.8 654.1 222.9 659.6 222.9 663.3 222.8 666.9 222.6 668.8 222.6 670.6 222.4 676.1 222.1 679.8 221.8 681.6 221.6 683.4 221.5 690.7 220.7 692.6 220.4 695.1 220.1 696.2 219.9 698.1 219.7 705.4 218.5 707.2 218.1 712.7 217.2 716.4 216.8 720 216.6 729.2 216.6 731 216.7 734.7 216.7 736.5 216.8 738.3 216.8 742 217 742 370.1 740.2 370.2 738.3 370.2 734.7 370.4 732.8 370.4 731 370.5 729.1 370.4 728.8 369.5 729.2 368.4 730.6 366.8 731.2 365.8 732.1 364.9 732.6 364 732.8 363.1 732.6 362.2 729.2 361.3 727.4 361.9 726.8 362.2 724.6 364 723.7 365 721.9 366 720.2 366.8 720 366.8 717 368.6 716.4 369.2 714.5 369.8 712.7 369.3 709 368.1 705.5 366.8 702.8 365.8 699.9 365 696.2 364 692.6 363.2 687.1 362.3 685.3 362.1 683.4 361.8 681.6 361.7 679.8 361.5 677.9 361.4 676.1 361.2 670.6 360.9 668.8 360.7 663.3 360.4 661.5 360.4 657.8 360.2 623 360.2 621.2 360.1 617.5 360.1 615.7 360 613.9 360 612 359.9 610.2 359.9 606.5 359.7 604.7 359.7 602.9 359.6 601 359.6 597.4 359.4 595.6 359.4 593.7 359.3 591.9 359.3 590.1 359.2 588.2 359.2 586.4 359.1 584.6 359.1 580.9 358.9 579.1 358.9 577.2 358.8 573.6 358.8 571.8 358.7 569.9 358.7 568.1 358.6 564.4 358.6 562.6 358.5 558.9 358.5 557.1 358.4 555.3 358.4 546.1 357.9 544.3 357.7 542.5 357.6 540.6 357.4 533.3 357 527.8 357 524.2 357.2 518.7 357.8 509.5 359.3 507.7 359.5 505.9 359.8 504 360 502.2 360.3 500.4 360.5 498.5 360.6 496.7 360.8 494.9 360.9 485.7 360.9 482.1 360.7 480.2 360.7 478.4 360.6 476.6 360.6 474.7 360.5 472.9 360.5 468.8 360.3 465.6 360.2 461.9 360.2 460.1 360.1 458.3 360.1 456.4 360 452.8 360 450.9 359.9 449.1 359.9 447.3 359.8 441.8 359.8 440 359.7 359.4 359.7 357.6 359.8 355.8 359.8 353.9 359.9 352.1 359.9 344.8 360.3 339.3 360.6 337.4 360.6 326.5 361.2 324.6 361.3 322.8 361.3 319.1 361.5 317.3 361.5 313.6 361.7 311.8 361.7 310 361.8 304.5 361.8 300.8 361.6 297.9 361.2 297.2 361.2 295.3 360.9 292.5 360.3 289.9 359.8 288 358.8 287.2 355.8 286.8 354.8 285.6 353 284.4 352.1 282.5 351.4 280.7 351.2 278.9 351.3 277.4 352.1 276.4 353 275.9 353.9 275.2 356.3 273.4 356.9 269.7 357.3 267.9 357.6 266.1 358.1 264.2 358.5 261 359.4 260.6 359.6 258 360.3 256.9 360.7 255.1 361.2 255.1 361.3 253.2 361.8 251.4 362.4 247.8 363.3 244.1 364 242.3 364.2 240.4 364.5 236.8 364.9 234.9 365 227.6 365.8 224 366.2 222.1 366.3 220.3 366.5 218.5 366.6 216.6 366.8 211.1 367.1 209.3 367.3 203.8 367.6 202 367.7 200.2 367.9 189.2 368.5 187.3 368.5 183.7 368.7 181.8 368.7 180 368.8 178.2 368.8 176.4 368.9 174.5 368.9 170.9 369.1 167.2 369.1 165.4 369.2 137.9 369.2 136.1 369.1 110.5 369.1 108.6 369.2 106.8 369.2 105 369.3 103.1 369.3 97.6 369.6 95.8 369.6 92.2 369.8 90.3 369.8 84.8 370.1 83 370.1 83 217 84.8 217 90.3 217.3 94 217.5 95.8 217.5 106.8 218.1 108.6 218.1 110.5 218.2 113.1 218.2 114.1 218.3 116 218.3 117.8 218.4 121.4 218.4 123.3 218.5 126.9 218.5 128.8 218.6 141.6 218.6 143.4 218.5 145.2 218.5 148.9 218.3 158.1 217.8 161.7 217.8 165.4 218 167.2 218.2 169 218.5 174.5 219.1 180 219.7 181.8 219.8 184 220.1 185.5 220.4 187.5 221 189.2 221.9 192.2 223.8 193.9 224.7 198.3 226.7 200.3 227.4 204.5 229.2 205.6 229.8 209.3 231.1 211.1 231.5 213 231.5 214.8 230.9 216.6 230.6 218.5 230.5 220.3 230.5 222.1 230.6 224 230.4 225.8 229.9 227.6 229.2 229.4 228.7 231.3 228.3 234.9 228.1 236.8 228.1 238.6 228 240.4 228 244.1 227.8 247.8 227.4 251.4 226.8 256.9 225.4 258.7 224.8 262.5 223.8 265.9 222.8 271.5 221.5 275.2 220.9 278.9 220.5 286.2 220.1 288 220.1 295.3 219.7 297.2 219.7 299 219.6 300.8 219.4 304.6 219.2 306.3 219 308.2 218.9 314.3 218.2 317.3 217.9 319.1 217.6 321 217.4 322.8 217.1 324.6 216.9 326.5 216.6 330.1 216.4 332 216.4 339.3 217.2 341.1 217.5 346.6 218.1 348.4 218.3 352.1 218.5 353.9 218.7 355.8 218.7 357.6 218.8 359.4 218.8 361.2 218.9 364.9 218.9 366.7 218.8 368.6 218.8 370.4 218.7 374.1 218.3 377.7 217.7 381.4 216.7 385 215.5 386.9 214.8 387.8 214.6 388.7 214.2 390.5 213.9 396 213.3 398.8 212.8 405.2 210.7 408.5 210ZM732.8 357.3 732.6 358.5 732.6 359.4 732.8 360.1 734.7 361.4 735.1 360.3 735.7 359.4 736.6 358.5 736.7 357.6 736.5 357.4 734.7 357.1 732.8 357.3ZM282.5 313.2 281.9 313.6 281.5 314.5 281.5 315.4 281.8 316.3 282.7 318.2 283.5 320.9 284.4 322.6 284.7 324.6 284.7 327.3 284.4 329.7 283.2 331.9 282.9 332.8 282.6 335.6 282.6 340.2 282.7 341.1 283 342 283.7 342.9 284.4 343.4 286.2 343.9 288 343.4 289.4 342 290.6 340.2 291.3 338.3 291.7 335.2 292.7 332.8 293.1 331 293.1 324.6 292.8 321.8 291.9 320 291.2 319.1 289.4 316.3 287.9 314.5 286.2 313.3 284.4 312.9 282.5 313.2Z"/>
<path fill="#90E010" fill-rule="evenodd" d="M328.7 221 330.1 220.9 335.6 220.9 339.3 221 344.8 221.3 346.6 221.3 350.3 221.5 352.1 221.5 355.8 221.7 357.6 221.7 361.2 221.9 363.1 221.9 368.6 222.2 375.9 222.2 379.6 222 381.4 221.8 386.9 221.5 388.7 221.3 390.5 221.2 392.4 221.2 394.2 221.1 399.7 221.1 401.5 221.2 403.3 221.2 410.7 221.6 413.8 221.9 421.7 222.8 423.5 223.1 425.3 223.3 429 223.9 430.8 224.1 434.2 224.7 440 225.3 441.8 225.3 443.6 225.4 445.4 225.4 447.3 225.3 450.9 225.3 452.8 225.2 461.9 225.2 465.6 225.4 467.4 225.6 473 226.5 477.7 227.4 480.2 227.8 485.7 228.4 491.2 228.7 493 228.9 494.9 229.3 498.2 230.2 500.4 230.6 504 231.4 505.9 231.7 509.5 232.5 515 233.5 518.7 233.9 522.3 234.1 524.2 234 526 234 529.7 233.8 534.4 233.8 537 234 542.5 234.6 551.6 235.6 553.5 235.9 556.8 236.6 557.1 236.6 560.6 237.5 562.6 238.1 566.3 239 571.8 239.9 574.5 240.2 575.4 240.4 577.2 240.6 582.7 240.9 584.6 240.9 587.5 241.2 588.2 241.2 590.1 241.5 591.9 241.7 595.6 242.3 598.3 243 601.5 243.9 604.7 244.6 606.5 244.8 608.4 244.8 610.2 244.6 612 244.3 616.7 243 619.4 242 623 240.5 624.8 239.8 629.2 238.4 632.2 237.3 635.5 235.7 639.4 233.8 641.7 232.9 645 231.8 648.6 230.8 651.6 230.2 652.3 230 654.1 229.7 657.8 229.3 657.9 229.2 665.1 228.8 666.9 228.8 668.8 228.7 674.3 228.7 676.1 228.6 679.8 228.6 683.4 228.4 685.3 228.4 687.1 228.2 688.9 228.1 694.4 227.5 696.2 227.3 698.1 227 699.9 226.8 703.6 226.2 705.4 226 709 225.4 712.7 225 718.2 224.7 725.5 224.7 727.4 224.8 729.2 224.8 731 224.9 732.8 224.9 734.7 225 736.5 225 742 225.3 742 355.9 738.3 354.8 736.5 354.8 734.7 354.4 732.8 353.5 731 352.9 730.5 353.9 730.3 354.8 729.2 356.3 727.4 356.5 725.5 356.5 723.7 356.6 718.2 356.6 714.5 356.4 709.4 355.8 705.4 355.1 699.9 353.7 698.1 353 696.2 352.1 694.4 351 690.9 348.4 688.5 346.6 687 345.7 685.3 344.9 683.4 344.3 681.6 344 679.8 344 677.9 344.2 676.1 344.5 672.4 345.3 668.8 346.3 663.3 347.9 659.6 348.6 654.1 349.2 652.3 349.3 650.5 349.5 645 349.8 643.2 350 639.5 350.2 639.5 350.3 637.7 350.4 635.8 350.4 632.2 350.6 630.3 350.6 628.5 350.7 623 350.7 621.2 350.6 619.4 350.6 617.5 350.5 615.7 350.5 612 350.3 610.2 350.3 604.7 350 602.9 349.8 601 349.7 593.7 348.9 591.9 348.6 588.2 348.2 586.4 347.9 579.1 347.1 575.4 346.9 568.1 346.9 566.3 347 564.4 347 560.8 347.2 557.1 347.2 555.3 347.3 551.6 347.3 544.3 346.9 542.5 346.7 540.6 346.6 538.8 346.4 535.1 346.2 529.7 346.2 526 346.4 522.3 347 518.7 348 511.4 350.4 509.1 351.2 504 352.6 498.5 353.8 493 354.4 491.2 354.4 489.4 354.5 487.6 354.4 485.7 354.4 483.9 354.3 482.1 354.3 478.4 354.1 476.6 354.1 467.4 353.6 465.6 353.6 461.9 353.4 460.1 353.4 458.3 353.3 456.4 353.3 454.6 353.2 452.8 353.2 450.9 353.1 449.1 353.1 445.5 353 443.6 352.9 441.8 352.9 440 352.8 432.6 352.8 430.8 352.7 412.5 352.7 410.7 352.6 383.2 352.6 381.4 352.7 339.3 352.7 337.4 352.8 332 352.8 328.3 353 326.5 353 308.2 354 304.5 353.8 300.4 353 299 352.6 295.4 351.2 293.4 350.2 289.4 348.4 287.7 347.5 287.1 346.6 289.2 344.8 289.9 343.8 290.7 342.9 291.7 340.5 292.4 339.2 292.7 337.4 292.8 335.6 293.5 333.2 294 331.9 294.2 331 294.2 328.2 294.1 325.5 294 323.7 293.6 321.8 292.9 320 291.6 318.2 290.4 316.3 289 314.5 288 313.6 286.2 312.5 284.4 312.1 282.5 312.1 280.6 312.7 280.1 313.6 280.2 314.5 281.3 317.2 282.9 321.8 283.3 322.8 283.6 324.6 283.6 326.4 283.4 328.2 282.6 331 281.9 331.9 281.4 333.8 281.1 336.5 280.9 339.2 280.9 343.8 280.7 344.3 278.9 344.1 277 343.8 275.2 343.6 271.8 343.8 267.9 344.6 264.2 345.5 260.1 346.6 258.7 346.9 255.1 347.8 251.4 348.5 249.6 348.9 247.1 349.3 245.9 349.6 244.1 349.9 241.5 350.2 238.6 350.7 236.8 350.9 234.9 351.2 233.1 351.4 231.3 351.7 219.3 353 216.6 353.2 214.8 353.4 211.1 353.6 209.3 353.8 203.8 354.1 202 354.3 194.7 354.7 192.8 354.9 187.3 355.2 185.5 355.4 180 355.7 178.2 355.8 176.4 356 169 356.4 167.2 356.4 165.4 356.5 159.9 356.5 158.1 356.4 156.2 356.4 154.4 356.3 152.6 356.3 148.9 356.1 147.1 356.1 145.2 356 143.4 356 139.7 355.8 138.2 355.8 137.9 355.7 136.1 355.7 130.6 355.4 128.8 355.2 123.3 354.9 114.1 354.4 108.6 354.4 106.8 354.5 105 354.5 103.1 354.7 100.3 354.8 95.8 355.1 94 355.3 86.7 355.7 83 355.9 83 225.3 84.8 225.4 88.5 225.7 92.2 226.1 94 226.2 103.1 227.2 106.8 227.5 114.1 228.3 117.8 228.7 119.6 229 121.4 229.2 122.2 229.2 126.9 229.8 128.8 230 130.6 230.2 132.4 230.5 136.1 230.9 139.7 231.2 141.6 231.4 143.4 231.5 145.2 231.7 147.1 231.8 150.7 232.1 152.6 232.2 154.4 232.4 156.2 232.5 158.1 232.7 162.3 232.9 163.5 233 165.4 233 167.2 233.1 170.9 233.1 172.7 233 176.4 233 180 232.9 181.8 232.9 183.7 232.8 185.5 232.9 187.3 232.9 191 233.3 192.8 233.6 194.7 234.2 196.5 234.8 198.3 235.7 200.2 236.7 202.6 238.4 204.1 239.3 205.6 240.1 208.2 241.2 210.9 242.1 214.8 243.2 216.6 243.9 218.5 244.9 219.7 245.8 220.3 246 224 248.5 225.8 249.4 227.6 250 229.4 249.6 230.5 248.5 231.3 246.7 231.2 244.8 230.8 243 230.8 241.2 230.9 238.4 231.3 236.4 231.6 235.7 232.3 234.8 233.4 233.8 235.3 232.9 238.6 232 240.4 231.6 243.8 231.1 249.6 230.2 251.4 229.9 256.9 228.7 258.7 228.1 260.6 227.6 262.4 227 264.2 226.3 267.9 225.1 269.7 224.6 273.5 223.8 275.2 223.5 278.9 223.1 282.5 222.9 284.4 222.9 288 222.8 295.3 222.8 297.2 222.7 300.8 222.7 302.7 222.6 304.5 222.6 308.2 222.4 310 222.4 311.8 222.3 313.6 222.1 317.3 221.9 319.1 221.7 321 221.6 322.8 221.4 324.6 221.3 326.5 221.1 328.7 221ZM458.3 336.4 456.4 336.7 454.6 336.8 452.8 337 451.9 337.4 450.9 338.6 450.8 342.9 451.1 343.8 451.8 344.8 453.5 345.7 454.6 346 456.4 346.3 458.3 346.2 463.8 346.2 465.6 346 467.4 345.3 468.4 344.8 469.6 343.8 470.4 342.9 471.2 341.1 471.3 340.2 470.7 339.2 469.4 338.3 469.2 338.3 467.3 337.4 465.6 336.7 463.8 336.2 461.9 336 460.1 336 458.3 336.4ZM482.1 268.8 481.2 269.6 480.9 270.5 481.2 271.4 482.1 272.3 482.8 271.4 483 270.5 482.7 269.6 482.1 268.8Z"/>
<path fill="#C0E810" fill-rule="evenodd" d="M277.5 226.5 278.9 226.3 284.4 226 299 226 300.8 226.1 304.5 226.1 306.3 226.2 308.2 226.2 310 226.3 311.8 226.3 321 226.8 322.8 227 324.6 227.1 327.8 227.4 333.4 228.3 341.1 230 346.6 230.9 353.2 232 356.5 232.9 359.4 234.2 363.1 236.1 366.7 237.7 368.7 238.4 370.4 238.9 372.3 239.3 374.1 239.6 377.7 239.8 379.6 239.7 383.2 239 385 238.4 386.9 237.5 389.8 235.7 392.4 233.9 394.2 232.6 396 231.5 397.9 230.7 399.7 230.2 401.5 230 403.3 230 405.2 230.2 410.7 231.1 418 231.9 420 232 425.3 232.6 429 232.8 430.8 232.8 432.6 232.7 440 232.7 441.8 232.6 443.6 232.6 447.3 232.4 449.1 232.2 452.8 231.9 454.6 231.8 458.3 231.4 460.1 231.3 461.9 231.1 466 231.1 474.7 232 476.6 232 480.2 231.4 482.1 231.2 483.9 231.1 487.6 231.1 489.4 231 491.4 231.1 493 231.3 496.7 232.3 498.6 232.9 503.5 234.8 506.5 235.7 507.7 236 511.4 236.6 516.8 236.9 522.3 236.9 527.8 236.6 529.7 236.4 535.1 236.1 542.5 236.1 544.3 236.2 546.1 236.4 549.8 236.7 551.6 237 554.1 237.5 560.8 239.2 564.4 240 569.9 240.9 573.6 241.4 579.1 242 582.7 242.4 586.4 243 589.4 243.9 591.6 244.8 593.5 245.7 593.7 245.9 595.6 246.7 597.4 247.3 599.2 247.4 601 247.4 603.3 247.6 606.5 248.6 608.4 249.1 610.2 249.4 612 249.4 613.9 249.2 617.5 248.4 623 246.9 626.7 246 628.5 245.6 630.3 245.1 632.2 244.7 635.8 243.8 639.5 242.7 644.2 241.2 647 240.2 652.2 238.4 656 237.2 659.6 236.5 661.5 236.2 665.1 236 670.6 236 672.4 236.1 674.3 236.1 677.9 236.3 681.6 236.3 683.4 236.4 685.3 236.4 687.1 236.3 688.9 236.3 692.6 236.1 696.2 235.7 698.1 235.6 705.4 234.8 707.2 234.6 709 234.5 710.9 234.3 714.5 234.1 716.4 234.1 718.2 234.2 720 234.2 721.9 234.3 723.7 234.5 727.4 234.7 727.4 234.8 729.2 234.9 732.8 235.3 734.7 235.4 738.3 235.9 740.2 236.1 742 236.4 742 345.5 738.3 345.8 736.5 345.9 734.7 346.1 731 346.3 729.2 346.5 723.7 346.8 718.2 346.8 716.4 346.6 714.5 346.3 712.4 345.7 710.2 344.8 707.2 343.2 704.3 341.1 702 339.3 700.9 338.3 698.1 336.5 694.4 334.4 693 333.8 692.6 333.5 688.9 332.1 685.3 331.1 683.4 330.7 677.9 329.8 676.1 329.4 672.4 328.8 668.8 328 666.9 327.7 665.1 327.3 663.3 327 659.6 326.6 656 326.6 654.1 326.8 652.3 326.9 650.5 327.2 646.8 327.6 645 327.9 641.3 328.3 635.8 329.2 631.9 330.1 626.7 331.8 623 333.1 621.2 333.8 613.9 336.2 609.4 337.4 606.5 337.9 604.7 338.1 602.9 338.1 601 338 597.4 337.6 595.6 337.3 593.7 336.9 590.1 336.2 586.7 335.6 582.7 334.9 580.9 334.6 579.1 334.4 575.4 334.2 571.8 334.2 568.1 334.4 565.4 334.7 564.4 334.7 558.9 335.3 557.1 335.4 555.2 335.6 551.6 335.8 549.8 335.8 548 335.7 546.1 335.7 544.3 335.6 542.5 335.4 533.3 334.9 531.5 334.9 527.8 335.1 526 335.3 522.3 336 520.5 336.6 518.4 337.4 516.6 338.3 515 339.2 513.2 340.3 509.8 342 505.9 343.6 502.7 344.8 498.5 345.9 496.7 346.2 494.9 346.4 493 346.4 491.2 346.3 489.4 346 487.6 345.4 486.3 344.8 485 343.8 483.9 342.5 482.6 340.2 481.2 337.4 480.1 335.6 479.7 334.7 479.5 333.8 479.7 331.9 480.2 330.4 480.6 329.2 480.7 327.3 480.3 324.6 480.3 322.8 480 321.8 479 320 477.9 316.3 476.5 313.6 475.8 311.8 475.3 309.9 474.7 308.6 472.9 306.9 471.1 306.5 469.2 306.5 467.4 306.6 465.6 306.5 461.9 305.9 460.1 305.7 458.3 305.6 456.4 305.6 454.6 305.7 452.8 305.7 450.9 305.9 449.1 306.2 445.4 306.6 441.8 307.4 439.5 308.1 438.1 308.7 437 309.9 434.5 314.7 433.6 316.3 432.6 318.6 431.7 320 428.6 323.7 425.3 328.8 423.4 331 421.7 332.6 419.8 333.9 416.2 335.8 413.8 336.5 412.5 336.8 410.7 337.1 407 337.5 403.3 337.5 401.5 337.6 390.5 337.6 386.9 337.8 385 338 383.2 338.1 377.7 338.7 375.9 338.8 374.1 339 370.4 339.2 368.1 339.2 366.7 339.3 348.4 339.3 346.6 339.2 339.3 339.2 337.4 339.1 333.8 339.1 332 339 330.1 339 328.3 338.9 326.5 338.9 324.6 338.8 322.8 338.8 321 338.7 319.1 338.7 310 338.2 305.9 337.4 303.6 336.5 301.9 335.6 299 333.7 297.2 332.1 295.7 325.5 295.3 324.4 295 320.9 294.6 320 293.5 318.8 292.7 317.2 291.7 316.3 291.2 315.4 289.6 313.6 288.7 312.7 288 312.2 286.2 311.4 284.4 311.1 282.5 311 278.9 310.4 277.3 309.9 275.8 309 275.2 307.8 274.4 307.2 273.4 304.6 272.6 305.3 272.7 306.2 273.4 308.1 274.6 309 275.2 310.1 276 310.8 277.8 314.5 278.9 315.8 279.4 317.2 280.7 319.8 280.9 322.8 280.7 324.3 278.9 324.3 277 324 275.2 323.9 273.4 324 271.5 324.2 269.4 324.6 266.1 325.5 263.6 326.4 259.8 328.2 256.6 330.1 253.2 332.5 251.4 333.8 247.8 336.5 245.9 337.5 244.1 338.1 242.3 338.5 238.6 338.9 233.1 339.2 231.6 339.2 231.3 339.3 229.4 339.3 224 339.6 222.1 339.8 220.3 339.9 217.5 340.2 216.6 340.2 214.8 340.4 213 340.5 211.1 340.7 209.3 340.8 206.1 341.1 203.8 341.2 202 341.4 198.3 341.6 196.5 341.8 189.2 342.2 187.3 342.4 181.8 342.7 180 342.9 167.2 343.6 165.4 343.6 163.5 343.7 158.1 343.7 156.2 343.6 152.6 343.6 150.7 343.5 148.9 343.5 147.1 343.4 145.2 343.4 143.4 343.3 141.6 343.3 139.7 343.2 137.9 343.2 132.4 342.9 130.6 342.9 121.4 342.4 119.6 342.4 117.8 342.3 112.3 342.3 106.8 342.6 101.3 343.2 99.5 343.5 96.7 343.8 95.8 344 92.2 344.4 89.6 344.8 83 345.5 83 236.4 88.5 237.3 90.3 237.7 92.2 238 95.8 238.7 99.7 239.3 105 240.2 106.8 240.4 110.5 241 112.3 241.4 114.1 241.7 117.8 242.4 121.4 243.2 123.3 243.5 126.9 244.3 130.6 244.9 132.4 245.3 135.4 245.8 136.1 245.8 137.9 246.1 139.7 246.3 143.4 246.8 145.2 247 147.1 247.1 151.4 247.6 154.4 247.9 156.2 248 158.1 248.2 161.7 248.4 165.4 248.4 169 248.2 170.9 248 172.7 247.9 180 247.1 181.8 247 183.7 246.8 189.2 246.5 191 246.5 205.6 247.3 207.5 247.3 211.1 247.5 214.8 247.5 216.8 247.6 218.5 247.9 220.3 248.5 222.1 249.4 224 250.4 225.8 251.2 227.6 251.7 229.4 251.5 231.3 250.5 232.4 249.4 233.1 248.1 234.6 245.8 234.9 245.2 236.8 243.9 239.9 241.2 242.3 239.1 242.9 238.4 245.9 235.7 247.8 234.6 249.7 233.8 253.2 232.9 255.1 232.6 260.6 231.4 266.1 229.9 268 229.2 273.4 227.5 275.2 227 277.5 226.5ZM425.3 234.7 423.5 235.2 422.2 236.6 421.7 237.7 421.6 239.3 422.3 241.2 422.9 242.1 423.5 242.6 425.3 243.3 427.1 243.4 429.4 243 430.8 242.5 431.4 242.1 432.1 241.2 432.6 240.1 432.8 239.3 432.8 237.5 432.4 236.6 431.6 235.7 430.8 235 429 234.5 427.1 234.5 425.3 234.7ZM480.2 263.8 478.4 265 477.7 265.9 476.2 268.7 475.6 270.5 475.2 272.3 475.1 273.2 475.3 275.1 476.2 276.9 477 277.8 478.4 279 480.2 279.6 482.1 279 483.4 277.8 483.9 277.5 484.9 276 486 274.2 486.7 272.3 486.8 270.5 486.5 268.7 485.7 266.7 485.1 265.9 483.9 264.7 482.1 263.9 480.2 263.8ZM665.1 294.3 663.9 295.2 665.1 296.3 666.9 297.3 668.8 297.8 670.6 297.3 671 297.1 671.4 296.2 670.5 295.2 668.8 294.6 666.9 294.2 665.1 294.3ZM273.4 274.2 272.1 275.1 271.5 276 271.1 279.7 270.7 282.4 270.8 285.2 270.7 286.1 270.3 287 269.6 287.9 269.1 289.8 269.4 292.5 269.5 294.3 269.4 298.9 269.7 300.2 270 299.8 270.1 298 270 293.4 270.2 291.6 270.6 290.7 271.6 289.8 272.5 287 273 286.1 274.4 284.2 275.3 283.3 276.3 280.6 276.7 278.8 276.6 276.9 276.4 276 275.9 275.1 275.2 274.4 273.4 274.2ZM271.5 301.2 271.2 301.7 271.1 302.6 271.5 304.3 272.1 303.5 271.7 301.7 271.5 301.2Z"/>
<path fill="#E0E010" fill-rule="evenodd" d="M278.8 232.9 282.5 232.7 286.2 232.7 288 232.8 289.9 232.8 293.5 232.9 297.2 233.1 300.8 233.5 303 233.8 306.6 234.8 308.2 235.3 310 236 311.8 236.8 313.6 237.8 314.9 238.4 316.5 239.3 317.9 240.2 320.1 242.1 323.7 245.8 324.8 246.7 326.5 247.9 328.3 249 330.1 249.9 332 250.7 333.8 251.4 337.4 252.6 339.3 253.1 344.8 254.8 348.3 255.8 352.1 257 354.8 257.7 359.4 258.5 361.2 258.6 363.5 258.6 364.9 258.4 366.7 258 367.6 257.7 369.3 256.8 372.2 254.9 374.1 253.9 376.2 253.1 379.1 252.2 381.9 251.2 385 250.5 386.9 250.3 392.4 249.4 397.9 248.8 401.5 248.6 407 248.6 412.5 248.9 416.2 249.3 418 249.4 421.7 249.8 423.5 249.9 425.3 250.1 429.5 250.3 436.3 250.7 438.1 250.7 440 250.8 443.6 250.8 445.4 250.7 447.3 250.7 452.8 250.4 454.6 250.4 458.3 250.2 460.1 250.2 461.9 250.1 463.8 250.1 465.6 250 476.6 250 478.4 250.1 480.2 250.1 484.1 250.3 485.7 250.6 488.1 251.2 490.7 252.2 491.2 252.3 493.2 253.1 496.5 254 500.4 254.4 504 254.6 505.9 254.4 507.9 254 510.1 253.1 513.2 251.5 515 250.3 515.8 249.4 516.2 248.5 516.5 246.7 516.7 243.9 517.1 243 517.9 242.1 518.7 241.7 520.5 241.1 524.2 240.5 526 240.3 526.1 240.2 529.7 239.9 531.5 239.6 537 239 538.8 238.9 540.6 238.7 542.5 238.6 546.1 238.6 549.8 239 551.7 239.3 555.8 240.2 557.1 240.6 560 241.2 564.4 242 566.3 242.2 568.1 242.5 569.9 242.7 573.6 243.2 577.6 243.9 580.9 244.8 585.2 246.7 586.8 247.6 590.1 249.8 591.9 250.5 593.7 250.7 597.4 250.5 601 249.9 602.9 249.9 604.7 250.5 608.4 251.9 611 253.1 612 253.7 613.9 254.1 615.7 253.8 619.4 253 621.2 252.5 623 252.1 630.3 250.1 634 249.2 637.9 248.5 645 247.4 646.8 247 648.7 246.7 652.7 245.8 656.4 244.8 661.5 243.9 665.1 243.7 666.9 243.7 674.3 244.1 676.1 244.3 688.9 245 694.4 245 696.2 244.9 698.1 244.9 701.7 244.8 703.6 244.8 705.4 244.7 709 244.7 712.7 244.9 714.5 245.2 718.2 246.2 721.7 247.6 721.9 247.6 723.9 248.5 727.4 249.9 729.2 250.6 731.1 251.2 732.8 251.9 734.7 252.4 736.8 253.1 740.2 254 742 254.3 742 333.3 738.3 333.7 736.5 333.9 734.7 334 732.8 334.2 731 334.3 727.4 334.7 721.9 335 720 335 717.9 334.7 715.2 333.8 712.7 332.5 710.3 331 707 329.2 705.1 328.2 702.9 327.3 699.9 326.3 696.2 325.3 688.9 323.7 685.3 322.9 684.4 322.8 679.8 321.7 674.3 320.5 666.9 319.3 663.3 318.9 661.5 318.8 657.8 318.8 652.8 319.1 635.9 320.9 632.2 321.3 630.3 321.6 628.3 321.8 626.7 322.1 624.8 322.3 622.2 322.8 617.5 323.5 613.9 324.1 610.2 324.5 606.5 324.7 602.9 324.5 598.2 323.7 595.6 323 594.5 322.8 591.3 321.8 585.1 320 580.9 318.8 577.9 318.2 577.2 318 571.8 317.4 569.9 317.3 553.5 317.3 551.6 317.4 549.8 317.4 542.5 317.8 540.6 317.8 537 318 535.1 318 533.3 318.1 529.7 318.1 527.8 318 526 318 524.2 317.9 518.7 317.3 516.8 317.1 515 316.8 513.2 316.6 511.4 316.3 509.5 316.1 507.7 315.8 505.9 314.3 505.6 313.6 504.9 312.7 503.8 311.8 502.2 310.7 500.4 312.4 498.5 313.5 496.7 313.9 494.9 313.9 493 313.6 489.8 312.7 487.3 311.8 485.2 310.8 483.6 309.9 482.7 309 482.3 308.1 482.3 306.2 482.1 305.3 481.2 303.5 480.7 301.7 480.5 299.8 480.7 297.1 481.5 293.4 483.3 287.9 484.2 285.2 485.7 281.2 487.6 277.4 488.3 276 489.2 273.2 489.4 271.4 489.4 269.6 488.8 266.8 487.6 264.5 486.6 263.2 485.6 262.2 483.9 261.2 482.1 260.4 480.2 259.9 478.4 260.1 477.9 260.4 476.6 261.6 474.9 264.1 473.3 266.8 472.8 267.8 472.1 268.7 470.9 270.5 469.2 272.7 468.7 273.2 466.6 276 465.5 277.8 464.8 279.7 464.5 281.5 464.3 284.2 464 287.9 463.8 291 463.3 292.5 462.9 293.4 461.9 294.8 460.1 295.4 458.3 295.8 456.2 296.2 452.8 296.7 450.9 296.9 449.1 297.2 445.4 297.6 441.8 298.2 440 298.7 439.6 298.9 438.8 299.8 438.4 301.7 437.7 303.5 436.8 304.4 436.3 304.7 434.5 305.4 432.6 305.9 430.8 306 429 305.6 427.1 305 425.3 305.1 423.5 306.2 421 308.1 418.8 309.9 417.9 310.8 415.5 312.7 414 313.6 412.5 314.3 410.7 314.8 408.8 315 407 315 405.2 314.8 401.5 314 397.9 313.4 396 313.2 394.2 313.1 392.4 313.1 390.5 313.2 388.3 313.6 386.9 314 385 314.7 382.4 316.3 381.1 317.2 375.8 321.8 373.6 323.7 370.4 325.9 368.6 326.7 366.7 327.2 364.9 327.4 363.1 327.5 359.4 327.2 357.6 326.8 355.8 326.1 353.9 325 351.5 322.8 349.6 320 348.3 317.2 347.6 315.4 346.6 314 344.8 312.3 341.7 309.9 338.8 308.1 335.2 306.2 332.8 305.3 330.1 304.6 328.3 304.3 326.5 304.1 324.6 304 321 304 317.3 304.2 313.6 304.5 311.8 304.6 310 304.8 300.8 305.3 289.9 305.3 288 305.2 284.4 305.2 280.7 305 278.8 304.4 278.2 303.5 277 302.6 276.6 301.7 276 300.8 275.1 299.8 274.3 298 273.9 296.2 273.7 294.3 273.7 292.5 274.9 289.8 275.4 287.9 276.4 286.1 277.2 284.2 277.7 283.3 278.3 281.5 278.7 278.8 278.7 276.9 278.3 275.1 277.7 274.2 276.8 273.2 275.2 272.5 273.4 272.5 271.5 273.2 270.5 274.2 270.1 275.1 269.7 277.8 269.4 278.8 268.9 279.7 268.3 281.5 267.9 285.2 267.4 286.1 266.7 287 266 288.8 265.7 289.8 265.7 292.5 265.6 294.3 265.2 297.1 264.9 298.9 264.8 301.7 264.7 302.6 264.2 303.1 262.4 302.9 256.9 302 253.7 301.7 251.4 301.5 247.8 301.5 245.9 301.6 244.1 301.8 238.6 302.8 235.6 303.5 234.9 303.6 233.1 304.1 228.1 305.3 225.8 306 224.9 306.2 222.3 307.2 222.1 307.2 216.6 309.7 214.5 310.8 212.8 311.8 207.6 314.5 204.9 316.3 201.6 319.1 200.2 320.4 198.3 322 196.5 323.7 194.7 325.3 192.8 326.6 191 327.6 189.2 328.3 185.5 328.9 183.3 329.2 178.2 329.5 176.4 329.7 172.7 329.9 170.3 330.1 167.2 330.2 161.7 330.2 150.7 329.6 148.9 329.6 145.2 329.4 143.4 329.4 141.6 329.3 139.7 329.3 137.9 329.2 123.3 329.2 121.4 329.1 119.6 329.2 114.1 329.2 108.6 329.5 101.3 330.3 97.6 330.9 95.8 331.1 94 331.5 83 333.3 83 254.3 84.8 254.7 86.7 255 88.5 255.2 90.3 255.5 94 255.9 95.8 256.2 99.5 256.6 101.3 256.9 103.1 257.1 105 257.4 110.5 258.2 114.1 258.7 116 258.9 117.8 259.2 123.3 259.8 125.1 259.9 128.8 260.3 130.6 260.4 132.4 260.6 141.6 261.1 143.4 261.1 145.2 261.2 147.1 261.2 148.9 261.3 152.6 261.3 154.4 261.4 161.7 261.4 167.2 261.1 170.9 260.7 176.4 259.8 178.2 259.5 180 259.1 182.1 258.6 185.5 257.6 189.2 256.2 190 255.8 192.8 254.9 196.6 254 202 253.1 209.3 252.3 211.1 252.1 213 252 214.8 251.8 218.5 251.6 220.3 251.6 222.1 251.9 222.9 252.2 224 252.4 226.6 253.1 227.6 253.3 229.9 253.1 232.4 252.2 233.1 251.8 234.9 251.1 236.8 250.8 240.4 250.6 244.1 250.2 245.9 249.9 248.2 249.4 249.6 248.9 251.8 247.6 254.1 245.8 257.6 242.1 258.7 241.1 260.1 240.2 261.8 239.3 262.4 239.1 264.2 238.1 269.2 235.7 269.7 235.4 273.4 234 275.2 233.5 278.8 232.9ZM432.6 272.3 432.3 273.2 432.3 274.2 432.6 275.2 434.5 276.5 436.3 277.5 438.1 278.4 439.1 278.8 443.6 279.6 447.3 280 451 280.6 452.8 280.7 454.6 280.5 455.6 279.7 456.3 278.8 456.5 277.8 456.4 276.9 455.6 276 451 273.2 449 272.3 447.3 271.8 445.4 271.5 443.6 271.4 441.8 271.6 438.1 271.8 436.3 271.8 434.5 271.9 432.6 272.3ZM663.3 292.2 660.2 293.4 659.4 294.3 659.6 295.3 660.2 296.2 661.7 297.1 665.1 298.4 666.8 299.8 666.9 300 668.8 301 670.6 301.7 672.4 301.9 673.3 301.7 676.1 300.6 677.9 300.2 679.8 300.3 680 299.8 679.8 298.5 678.9 297.1 677.9 296 676.9 295.2 674.3 293.9 672.4 293.4 668.8 292.2 666.9 291.7 665.1 291.7 663.3 292.2ZM172.7 286.9 170.9 287.1 166.8 287.9 169 288.4 172.7 288.9 178.2 289.2 180 289.2 181.8 289.3 183.7 289.3 185.5 289.4 189.2 289.4 191 289.5 192.8 289.5 194.7 289.6 196.5 289.6 198.3 289.7 200.2 289.7 202 289.8 203.8 289.8 205.6 289.9 211.1 289.9 213 290 218.5 290 220.3 289.9 222.1 289.9 224 289.8 225.9 289.8 231.3 289.2 233.6 288.8 234 287.9 231.3 287.4 229.4 287 225.8 286.6 218.5 286.2 216.6 286.2 214.8 286.1 207.5 286.1 205.6 286.2 200.2 286.2 198.3 286.3 196.5 286.3 194.7 286.4 191 286.4 189.2 286.5 183.7 286.5 181.8 286.6 180 286.6 176.4 286.8 174.5 286.8 172.7 286.9Z"/>
<path fill="#E0C010" fill-rule="evenodd" d="M549.6 245.8 551.6 245.5 553.5 245.6 555.3 245.8 557.1 246.1 558.9 246.3 562.6 246.8 568.1 247.4 569.9 247.7 571.8 248.1 573.6 248.8 575.4 249.8 577.4 251.2 578.5 252.2 580.9 254 584.6 256.6 586.9 258.6 588.6 260.4 589.2 261.3 590.7 263.2 591.9 264.4 593.7 265.7 597.4 267.9 599.3 268.7 601 269.2 602.9 269.6 605.2 269.6 606.5 269.4 608.7 268.7 610.4 267.8 615.7 263.7 617.8 262.2 619.4 261.2 621.2 260.3 624.8 259.2 628.5 258.4 630.3 258.1 632.2 258.5 634 260.6 634.6 260.4 635.4 259.5 635.8 258.5 636.6 257.7 637.7 256.9 639.5 256.4 643.2 256 645 255.9 652.3 255.1 656 254.8 657.8 254.8 659.8 254.9 663.3 255.6 666.9 256.8 672.4 258.7 676.1 259.8 681.6 261.1 686.8 262.2 691 263.2 692.6 263.5 698.5 265 701.7 265.9 707.2 267.4 711.9 268.7 714.5 269.2 718.2 269.7 721.9 269.9 723.7 269.9 725.5 270 727.4 270 729.2 270.1 732.8 270.1 736.5 270.3 740.2 270.7 742 271.1 742 278.9 740.2 279.2 738.3 279.4 732.5 279.7 731 279.7 727.4 279.9 725.5 279.9 718.2 280.3 714.5 280.7 710.9 281.5 709 281.9 707.2 282.4 705.4 283 701.3 284.2 698.1 285.5 694.1 287 690.7 288.2 689.4 288.8 688.6 289.8 689.7 290.7 690.7 291 694.4 291.8 696.2 292 698.1 292.3 710.9 293.7 720 294.2 725.5 294.2 727.4 294.3 734.7 294.3 736.5 294.4 742 294.4 742 314 738.3 313.8 732.8 313.3 729.2 312.9 725.5 312.6 723.7 312.4 714.5 311.9 705.4 311.9 703.6 312 699.9 312 698.1 312.1 690.7 312.1 688.9 312.2 687.1 312.1 677.9 312.1 676.1 312 670.6 312 668.8 311.9 657.8 311.9 656 312 654.1 312 643.2 312.6 634 313.1 630.3 313.1 628.5 313 626.7 312.8 624.2 312.7 623 312.5 621.2 312.4 619.4 312.2 617.5 312.1 615.7 311.9 613.4 311.8 608.4 311 606.5 310.6 602.9 309.2 596.8 306.2 594.7 305.3 593.7 305 591.9 304.3 589.4 303.5 584.6 302.2 581.7 301.7 579.1 301.2 575.4 300.8 569.9 300.5 568.1 300.5 566.3 300.4 564.4 300.4 562.6 300.3 558.9 300.3 557.1 300.2 551.6 300.2 549.8 300.1 511.4 300.1 509.5 300 505.9 300 502.2 299.8 500.4 299.6 498.5 299.2 496.7 298.6 493.8 297.1 492.5 296.2 491.2 294.8 490.9 293.4 491.5 291.6 492.4 289.8 493 288.8 493.7 287.9 495.6 286.1 496.7 285.1 499.2 283.3 502.2 281.4 505.9 279.6 507.7 278.8 511.8 276.9 515 275.6 522.3 273.2 524.2 272.7 526 272.1 529.7 270.6 531.5 269.6 532.8 268.7 533.9 267.8 535.6 265.9 537.1 264.1 539 261.3 540.3 258.6 542.2 254 544.2 250.3 545.5 248.5 546.3 247.6 548 246.3 549.6 245.8ZM590.1 278.5 589.7 278.8 589.7 279.7 591.9 282.1 593.2 283.3 594 284.2 595 286.1 595.8 287.9 596.4 288.8 597.4 290.7 599.2 293.6 601 295.5 602.9 296.6 604.7 296.6 605 296.2 605.3 295.2 605.4 294.3 605.1 292.5 604.6 291.6 603.9 290.7 602.9 289.1 601.8 287.9 599.9 286.1 598.1 284.2 594.3 281.5 592.4 279.7 591.9 279.1 590.1 278.5ZM626.7 276 624.8 276.2 623 277.9 621.3 279.7 619.4 281.4 617.5 282.6 615.7 283.9 615 284.2 613.8 285.2 613.5 286.1 613.5 287 614.1 288.8 615.4 291.6 615.7 291.9 617.5 292.7 619.4 292.9 621.2 293.4 623 293.6 624.8 292.9 625.1 292.5 625.9 289.8 626.4 288.8 627.3 287 627.6 286.1 628.2 285.2 628.6 284.2 628.5 283 627.8 281.5 627.6 280.6 627.9 278.8 627.9 277.8 627.4 276.9 626.7 276ZM656 287.8 654.1 288.3 653.5 288.8 653.2 289.8 653.2 290.7 653.9 293.4 654.1 295.4 654.3 296.2 654.9 297.1 656.2 298 658.3 298.9 659.6 299.3 662 299.8 663.3 300.2 665.1 301.9 665.7 302.6 667 303.5 668.8 304.5 670.6 305.4 672.4 305.5 674.3 304.9 676.1 304 677.9 303.8 679.8 304.9 681.6 306.3 683.4 307.4 685.3 307.5 686.2 307.2 687.1 306.7 687.5 306.2 687.8 305.3 687.5 304.4 684.9 301.7 683.6 298.9 682.5 296.2 681.6 295.1 681.1 294.3 679.7 293.4 677.8 292.5 676.1 291.8 674.3 291.3 671.6 290.7 668.8 289.8 668.8 289.7 666.9 289.3 665.1 289.4 664 289.8 663.3 289.9 661.5 290.6 659.6 290 658.7 288.8 657.8 288.1 656 287.8ZM384.7 254 386.9 253.7 388.7 253.6 390.5 253.6 392.4 253.5 394.2 253.5 396 253.6 397.9 253.8 399.7 254.2 403.3 255.3 407 257.1 408.1 257.7 409 258.6 409.3 259.5 409.2 260.4 408.7 261.3 407 262.6 404.2 263.2 401.5 263.5 399.7 263.8 396 264.3 394.2 264.7 392.4 264.8 390.5 264.8 388.7 264.7 386.9 264.5 384.6 264.1 383.2 263.5 382.3 262.2 382 261.3 381.8 259.5 381.9 257.7 382.4 255.8 383.2 254.7 384.7 254ZM220 258.6 222.1 258.2 224 258.1 227.6 258.3 231.3 258.8 235.3 259.5 244.1 260.9 247.8 261.4 251.4 262 255.1 262.7 256.9 263.2 258.7 263.9 260.1 265 259.9 265.9 258.7 266.9 257.3 267.8 255 268.7 251.6 269.6 247.8 270.1 244.1 270.1 242.3 270 238.6 269.5 233.8 268.7 231.3 268.1 229.5 267.8 224 266.3 222.1 265.7 220.3 265 218.2 264.1 216.5 263.2 215.4 262.2 215.1 261.3 215.8 260.4 217.4 259.5 218.5 259 220 258.6ZM83 271.4 83 271.1 86.7 272.2 89 273.2 90.6 274.2 91.5 275.1 91.4 276 90.3 276.9 88.5 277.7 86.7 278.2 84.1 278.8 83 278.8 83 271.4ZM409.3 276 412.5 275.4 414.3 275.2 416.2 275.1 418 275.4 419.8 276 423 276.9 425.3 278 427.1 279.2 429 280.7 430.1 282.4 430.4 283.3 430.8 286.7 431.7 288.8 433.2 291.6 433.8 294.3 434.5 296.3 434.6 298.9 434.8 300.8 434.8 301.7 434.4 302.6 432.6 303.3 430.8 303 429 301.4 427.7 299.8 425.3 297 423.5 295.2 421.7 294.1 419.8 293 417.3 291.6 412.5 288.4 408.8 287 406.9 286.1 405.1 285.2 403.3 284.2 402.3 283.3 401 281.5 400.6 280.6 400.4 279.7 400.6 278.8 401.2 277.8 403.3 276.7 405.2 276.4 407 276.3 409.3 276ZM87.8 294.3 92.2 294.3 94 294.2 97.6 294.2 99.5 294.1 106.8 294.1 111.1 294.3 114.1 294.6 116 294.7 119.6 295.1 123.3 295.5 125.1 295.6 128.8 296 134.3 296.5 137.9 297.1 139.7 297.5 141.6 298.1 143.4 299 144.8 299.8 147.1 301.8 148.7 303.5 149.2 304.4 149.2 305.3 148.6 306.2 147.1 307.5 143.7 309.9 141.1 311.8 139.5 312.7 137.4 313.6 136.1 314 134.3 314.3 132.4 314.5 125.1 314.5 123.3 314.4 121.4 314.4 119.6 314.3 117.8 314.3 116 314.2 112.3 314.2 110.5 314.1 95.8 314.1 94 314.2 90.3 314.2 88.5 314.1 84.8 314.1 83 314 83 294.4 84.8 294.4 87.8 294.3Z"/>
</g>
<g id="coast" fill="none" stroke="#000" stroke-width="1.25" stroke-linejoin="round">
<path shape-rendering="crispEdges" d="M105.0 166.7 108.1 165.6 112.7 165.8 116.3 165.4 114.1 164.3 111.4 162.9 107.2 161.8 109.5 160.7 114.1 159.4 117.8 158.1 122.4 157.2 126.0 156.3 130.6 157.0 135.2 157.8 141.6 158.1 147.1 158.7 154.4 159.4 159.0 160.1 163.5 160.5 166.3 159.4 170.9 159.0 174.5 158.5 178.2 157.9 179.7 158.5 182.8 159.8 185.0 159.2 185.5 158.7 189.2 159.0 193.7 159.9 198.3 160.7 201.1 162.2 203.8 162.7 207.5 162.7 211.1 162.5 213.9 163.2 214.8 161.8 218.5 161.4 221.2 162.3 225.8 162.7 229.4 162.7 232.2 162.7 234.0 161.4 236.8 162.0 237.7 163.8 240.4 161.4 240.4 159.6 236.8 157.8 236.8 155.9 239.5 155.0 242.3 155.9 244.1 157.8 245.0 159.6 246.8 161.4 249.6 160.1 251.4 161.4 254.2 163.2 256.0 160.9 256.9 159.0 261.5 159.0 263.3 160.5 263.3 163.2 260.6 165.4 256.9 165.4 254.2 165.3 255.1 166.9 253.2 168.4 251.4 169.7 247.8 170.0 244.1 171.9 241.3 173.7 239.5 176.1 239.0 178.8 242.3 179.4 243.2 181.9 246.8 182.5 251.4 183.6 256.0 185.2 260.6 185.8 262.0 187.1 262.0 189.8 264.2 191.7 265.1 192.9 267.3 192.6 268.3 190.8 267.9 188.0 267.0 186.7 270.6 184.9 272.1 182.5 271.5 179.8 269.7 178.8 270.6 176.1 269.7 173.0 273.4 172.6 278.0 173.0 280.7 174.2 284.4 175.2 285.3 177.9 287.1 180.1 289.9 179.8 292.0 177.9 294.1 176.3 296.3 178.8 298.5 180.7 299.9 183.4 302.7 185.2 306.3 186.5 308.2 188.6 310.4 190.2 310.5 191.7 308.2 192.6 305.4 193.5 302.7 194.8 299.0 194.8 294.4 194.8 290.8 195.3 288.9 196.8 286.2 198.4 284.0 200.3 282.5 201.2 284.9 199.6 288.0 197.7 291.7 196.8 294.4 197.2 294.8 198.3 292.6 199.0 293.9 200.5 293.9 202.1 296.3 202.8 299.0 203.0 300.8 203.6 302.3 202.1 303.0 202.8 300.8 204.1 296.3 205.2 292.6 207.1 291.3 205.8 293.5 204.1 294.4 203.4 292.6 203.9 289.9 204.5 287.1 205.6 284.4 206.7 283.1 208.2 282.9 209.4 284.4 210.4 283.4 210.7 281.6 211.1 278.9 211.7 277.0 212.6 276.7 214.6 275.2 215.9 274.3 214.6 274.7 217.0 273.4 218.8 272.8 215.9 272.5 218.2 273.4 219.5 274.3 222.3 272.1 223.4 270.1 224.7 267.9 225.9 265.1 227.8 263.9 229.6 263.5 231.4 264.6 234.4 265.9 237.5 265.7 240.1 264.2 240.8 262.8 239.0 261.1 236.2 261.1 233.8 258.7 232.0 256.2 232.5 254.2 231.3 251.4 231.4 248.7 231.6 249.0 233.6 246.8 233.5 244.1 232.7 240.4 232.7 238.2 233.8 234.9 235.7 234.2 238.4 234.4 241.2 233.5 245.2 234.4 248.5 236.0 251.2 237.1 252.5 239.3 253.6 242.6 253.1 245.0 252.9 246.7 251.1 247.0 248.5 250.5 247.6 253.2 247.6 252.5 250.3 251.8 253.1 251.0 254.9 250.1 257.7 251.8 258.0 255.1 257.9 257.8 258.0 260.0 259.5 259.6 262.2 259.5 265.0 259.1 266.8 260.6 268.7 261.8 270.1 263.7 270.9 266.1 270.1 267.5 269.6 269.7 270.0 271.0 271.2M271.0 271.2 270.6 272.3 269.2 272.7 269.2 271.2 267.0 270.5 266.1 271.8 265.3 273.4 264.2 273.1 262.8 272.0 260.9 271.8 259.5 271.2 257.5 269.0 255.4 268.3 255.4 266.8 253.6 264.5 252.1 263.2 250.5 262.6 247.8 261.7 245.0 261.3 243.2 259.9 240.4 257.7 238.6 257.3 235.9 258.2 233.1 257.3 229.4 255.8 225.8 254.0 222.5 252.7 219.9 250.9 219.2 249.4 219.7 247.6 218.5 245.2 216.6 243.0 214.8 240.8 212.4 239.3 212.1 237.5 209.9 235.9 207.5 234.0 206.0 231.4 205.3 229.8 202.5 228.7 202.4 230.2 203.5 232.0 205.6 234.4 207.1 236.6 208.8 239.3 210.2 242.1 212.1 244.3 211.1 245.0 209.3 243.0 207.1 241.5 207.1 239.3 204.7 237.9 202.4 236.2 203.5 234.8 202.0 232.9 200.2 230.7 198.7 228.3 197.8 226.5 195.6 224.7 191.9 223.8 191.0 221.7 189.2 219.5 188.3 217.7 186.4 216.1 185.0 213.1 185.1 210.4 184.8 208.2 185.5 205.4 185.5 202.3 184.4 199.4 184.2 198.3 187.3 198.6 188.3 200.3 188.4 198.1 187.3 196.6 184.6 195.3 181.8 193.9 179.1 192.9 178.2 190.8 176.4 188.9 174.2 187.1 172.7 185.2 170.9 183.4 168.1 181.6 165.4 179.8 162.6 180.1 159.9 178.8 156.2 177.4 151.6 177.0 148.0 176.6 145.2 175.5 141.6 175.5 138.8 177.4 135.2 178.5 136.1 176.1 138.8 174.8 135.2 175.5 132.8 177.4 130.6 179.0 127.8 181.0 125.1 182.9 122.4 184.3 118.7 185.4 116.0 186.2 113.2 186.7 110.8 187.1 114.1 185.6 117.8 184.3 120.5 183.1 123.3 181.4 124.6 179.4 121.8 179.6 118.7 179.2 116.0 179.4 116.3 177.7 113.2 177.4 110.5 176.1 109.5 174.2 108.6 173.3 110.8 171.9 114.1 171.3 117.4 170.6 118.1 168.8 115.0 168.9 111.4 168.8 108.1 168.6 105.9 167.3 105.0 166.7M271.0 271.2 271.9 272.3 273.4 270.0 274.3 267.8 275.6 266.8 278.0 266.3 280.7 265.0 282.0 264.3 281.1 265.9 282.0 267.2 284.0 265.9 284.4 264.6 286.2 265.9 287.7 267.4 290.8 267.6 293.5 268.3 295.3 267.6 298.1 267.4 299.0 268.7 300.8 270.0 301.8 271.4 304.5 272.3 306.3 274.5 308.2 276.0 310.9 276.2 313.6 276.4 316.4 277.8 318.6 279.1 320.1 283.3 321.0 285.2 319.5 287.0 321.9 287.4 324.1 288.3 325.5 288.5 329.2 289.8 331.0 291.6 332.9 291.4 336.0 292.3 339.3 292.3 342.0 293.8 344.4 295.8 347.5 296.5 348.6 299.8 348.6 302.6 347.1 305.0 344.8 307.2 342.9 310.5 341.1 312.7 341.1 316.3 340.7 319.6 339.6 322.8 338.4 324.9 337.4 327.3 335.6 329.2 332.9 329.2 330.5 329.7 327.7 331.0 325.0 333.2 323.5 335.6 323.4 338.9 321.3 341.1 319.5 343.8 317.3 346.0 315.8 348.0 314.2 349.9 311.8 351.0 309.1 350.8 306.0 349.3 305.4 350.2 307.8 352.1 308.2 353.9 306.9 356.7 303.6 358.1 299.9 358.5 298.6 359.4 298.5 361.8 296.3 362.5 293.5 362.0 293.5 364.0 295.7 364.4 295.3 365.7 293.5 366.2 292.8 368.6 290.8 369.9 288.9 371.3 290.8 373.2 292.0 374.6 289.9 376.3 288.6 378.3 286.2 379.8 286.2 381.6 287.3 382.9 285.3 383.1 282.9 383.8 282.5 385.4 280.2 385.1 278.0 383.8 276.1 382.3 274.7 379.6 274.3 375.9 276.1 374.6 274.3 372.6 277.0 370.4 278.3 367.7 279.2 364.6 277.4 363.1 277.8 360.0 278.0 355.8 278.9 354.3 280.2 351.2 281.2 348.0 281.6 343.8 282.0 340.2 282.9 336.5 283.4 333.4 283.6 329.7 284.2 325.5 283.8 320.9 282.0 319.1 279.2 317.6 276.1 316.0 273.4 313.2 272.5 310.8 271.2 309.0 269.7 305.9 268.3 302.9 266.4 300.2 264.6 298.4 263.9 296.2 263.7 294.9 265.5 293.2 266.2 291.6 264.6 291.2 264.8 288.8 266.1 286.5 267.0 285.2 268.3 284.2 268.8 282.2 270.4 281.0 271.2 279.7 270.6 276.9 270.8 274.7 270.1 273.6 271.0 271.2M287.3 383.2 287.5 384.7 288.9 386.0 291.7 387.1 293.1 387.5 290.8 388.0 288.0 388.4 285.3 388.2 282.5 387.5 280.7 386.6 282.5 386.0 284.4 385.3 284.0 384.0 285.6 383.4ZM401.7 221.4 402.8 221.2 405.2 222.5 407.4 222.3 408.8 222.6 411.4 221.4 414.3 220.3 418.0 219.3 421.7 219.5 425.3 219.0 428.6 219.2 430.4 218.6 431.4 219.5 432.6 219.2 431.9 220.6 432.1 221.9 431.2 223.9 430.8 224.7 432.3 225.6 433.6 226.1 436.7 226.7 440.3 227.6 441.2 229.2 443.6 230.2 446.4 231.3 448.4 231.3 449.1 230.2 449.1 228.0 451.9 226.7 454.6 227.2 456.4 228.3 458.3 229.1 461.9 229.6 465.6 230.4 467.4 229.6 469.2 229.1 471.6 229.8 472.9 230.0 474.7 229.8 475.3 229.6 476.4 232.9 475.3 236.0 474.2 235.1 472.9 233.8 472.2 232.0 471.8 232.9 473.3 235.1 474.4 237.1 475.7 239.7 477.1 242.6 477.9 244.8 479.9 246.7 480.6 249.1 480.6 251.1 482.4 253.5 483.9 256.8 484.8 258.6 487.2 260.1 489.4 262.1 491.6 263.9 491.2 265.6 492.1 266.3 494.0 267.9 496.7 267.2 499.5 266.6 502.2 266.3 504.9 265.2 506.2 265.4 506.0 267.8 505.1 270.5 503.5 273.2 502.2 276.0 500.4 278.8 498.2 281.5 495.4 283.3 492.7 285.2 490.3 287.9 488.5 290.3 486.6 291.8 485.4 294.3 484.1 296.2 483.5 298.0 484.4 299.6 484.6 302.6 485.4 305.3 486.5 306.2 486.6 309.9 487.0 313.6 486.1 316.3 483.9 317.8 481.1 319.6 479.3 321.5 476.6 323.3 476.0 324.6 476.9 326.4 477.5 329.2 477.1 331.4 474.7 332.5 472.7 333.8 472.4 335.2 472.5 337.4 471.8 339.2 469.8 341.3 468.0 343.8 465.6 346.2 463.4 347.5 460.6 349.0 458.3 349.3 455.5 349.5 452.8 349.7 449.5 350.6 447.3 349.9 446.2 349.5 445.8 347.5 446.0 346.2 444.5 343.5 443.1 340.2 441.8 338.3 440.3 335.9 439.6 332.8 438.9 329.2 438.5 327.3 436.8 324.6 435.0 321.3 434.1 319.1 434.1 316.3 435.0 313.6 436.8 310.3 437.8 308.1 437.2 305.3 436.3 303.5 436.7 301.7 435.4 298.9 434.8 297.5 434.1 295.6 432.6 294.1 430.8 292.3 429.5 290.7 428.6 288.5 429.7 286.5 430.3 284.8 430.1 282.4 430.4 280.6 429.0 279.1 427.7 278.8 425.3 278.9 423.5 279.1 422.2 277.8 421.3 276.0 418.7 275.3 415.8 275.6 414.3 276.2 412.0 277.1 408.8 278.4 407.0 277.6 404.3 277.5 401.5 278.2 398.6 279.1 396.0 277.8 392.7 275.5 391.4 274.4 389.3 272.9 388.2 271.1 387.4 269.4 385.4 267.4 384.7 266.3 382.8 265.0 381.7 263.7 381.7 261.9 380.5 260.1 381.9 258.0 382.7 255.8 383.0 253.1 382.5 251.2 382.8 249.8 381.4 248.5 381.7 246.3 382.8 244.3 384.1 242.4 385.4 240.2 386.3 238.8 387.8 237.1 389.1 235.7 391.8 234.4 393.8 233.1 394.7 231.4 394.6 229.2 395.7 227.4 397.5 225.9 400.1 224.5 401.2 222.5 401.7 221.4M475.3 229.6 476.0 228.3 476.6 226.9 477.5 224.8 478.0 222.8 478.4 221.4 478.8 219.7 477.5 219.9 475.7 219.7 473.8 220.6 472.0 220.8 469.2 219.5 468.3 220.1 466.1 220.4 463.8 219.7 462.5 219.2 462.3 217.7 461.0 216.8 461.6 215.9 461.0 214.6 460.5 213.8 462.3 212.9 465.2 212.9 466.1 212.2 465.6 211.7 467.4 211.5 470.2 211.3 472.0 210.4 473.8 210.0 476.6 210.0 478.4 210.7 480.2 211.5 483.0 211.8 485.7 211.8 488.5 210.7 488.7 209.1 486.6 207.8 484.8 207.1 483.0 205.8 481.7 205.1 480.2 204.1 481.1 202.7 482.6 201.8 484.3 200.5 482.1 200.6 479.3 201.4 476.6 202.1 476.9 203.6 479.3 204.1 477.1 204.5 474.7 205.6 473.8 205.1 472.0 203.8 473.8 202.7 471.1 201.9 468.9 201.8 466.9 203.6 466.5 204.9 465.0 206.0 463.8 207.8 462.8 209.1 463.8 210.2 465.4 211.5 463.8 211.8 462.5 212.2 460.6 213.1 460.1 212.4 459.7 212.0 457.3 212.0 456.4 212.8 456.8 213.5 455.5 213.7 454.4 212.8 453.9 214.0 454.6 215.1 454.6 215.9 456.4 217.0 456.4 217.9 455.5 217.3 454.6 217.5 455.0 218.6 454.2 218.2 454.6 220.1 453.7 220.1 452.8 219.5 452.0 219.2 451.5 217.7 452.2 216.8 450.9 216.1 450.0 214.6 448.9 214.0 448.0 212.8 448.2 210.6 446.7 209.3 444.5 208.2 442.5 207.2 440.5 206.0 439.6 204.5 438.7 203.9 437.6 204.7 437.6 203.2 435.4 203.6 435.0 204.9 435.0 205.8 437.2 207.1 438.3 208.9 440.0 210.0 441.8 210.2 442.3 211.1 443.6 211.7 445.5 212.6 446.4 213.5 446.0 214.0 444.0 212.8 442.9 214.0 444.0 215.5 442.7 216.4 441.8 217.3 441.2 217.3 441.4 215.5 441.2 213.7 439.6 212.6 438.5 212.2 436.3 211.3 434.8 210.4 432.6 209.1 431.7 208.2 431.4 207.1 430.4 206.2 428.8 205.6 427.1 206.5 425.9 206.9 424.4 207.8 423.5 208.0 422.2 207.6 420.7 207.4 418.9 207.6 418.0 208.9 418.4 209.6 416.5 211.1 414.0 212.4 412.0 214.6 412.9 216.1 411.6 216.8 410.9 218.1 408.5 219.7 406.1 219.7 404.4 219.7 402.8 220.8 401.0 219.9 399.7 218.8 397.9 219.0 396.0 219.2 396.4 216.8 395.1 215.9 396.0 213.7 396.6 211.5 396.0 209.6 395.5 208.2 397.9 206.9 400.6 207.1 403.3 207.2 406.1 207.2 409.2 207.4 410.1 205.4 410.3 203.0 408.8 201.2 407.9 200.3 404.6 199.4 403.9 198.3 406.6 197.5 409.6 197.9 409.2 195.9 410.3 196.4 412.9 196.2 415.2 195.0 415.8 193.5 418.0 192.9 419.8 191.8 420.9 190.2 422.0 189.3 425.3 188.9 428.1 188.6 428.6 187.1 427.5 185.2 427.5 182.5 429.9 182.1 431.7 181.2 431.7 183.4 430.4 185.2 430.4 186.5 432.6 187.4 435.0 187.6 437.2 187.1 438.7 188.2 442.3 187.3 446.0 186.5 447.8 187.3 449.1 186.4 450.9 185.2 450.9 182.5 452.4 181.4 453.9 181.2 455.5 182.5 457.0 181.9 457.2 180.1 455.5 179.4 455.5 178.5 457.9 177.9 461.0 177.9 463.8 177.9 466.5 177.2 464.7 175.9 461.0 176.3 458.3 176.6 454.6 177.2 452.8 176.3 451.5 175.2 451.9 172.4 451.9 171.1 454.6 169.7 457.3 168.2 459.0 167.3 457.3 166.4 453.7 166.4 451.5 168.6 450.0 170.2 446.4 171.5 444.4 173.3 444.0 175.2 445.1 176.1 446.9 177.4 445.5 178.8 443.1 179.8 442.7 182.1 441.8 184.0 439.0 184.3 438.7 185.4 436.3 185.4 435.6 184.0 434.1 181.2 433.0 178.8 431.9 177.7 430.4 178.8 428.1 180.1 425.3 180.7 422.8 179.2 422.0 177.0 421.7 174.8 422.0 173.0 424.9 171.9 428.1 170.6 430.8 169.7 433.2 167.8 435.4 166.0 437.2 164.2 440.0 162.0 442.7 160.9 445.5 159.4 448.2 158.5 452.8 157.8 456.4 156.8 459.7 156.7 463.8 156.8 467.4 157.8 469.2 158.3 467.1 159.0 470.2 159.4 472.9 159.8 476.6 160.1 480.2 161.1 484.8 162.2 487.6 163.8 487.6 165.1 484.8 165.8 481.1 165.6 476.6 164.9 473.8 164.5 472.9 165.1 475.7 167.3 476.6 169.1 479.3 169.7 481.7 169.1 482.4 168.2 485.7 168.6 486.1 166.9 488.5 165.4 491.2 165.3 493.0 165.6 493.6 163.2 492.7 161.4 495.8 161.6 497.6 162.7 495.8 164.2 499.5 164.3 501.3 162.9 504.9 162.0 509.5 161.2 511.4 162.0 514.1 161.4 517.8 161.1 521.4 160.9 523.8 159.0 526.9 159.2 530.6 160.1 533.3 160.5 536.1 161.4 538.4 161.1 537.0 159.6 535.0 158.7 535.5 156.5 537.9 154.5 539.7 153.2 543.4 152.8 545.6 153.7 545.6 156.5 544.8 158.7 547.0 161.2 544.3 163.8 545.2 164.7 548.0 163.6 549.4 161.8 548.5 159.6 547.4 156.8 548.9 154.5 550.7 153.5 553.5 154.5 556.2 154.5 559.9 155.0 562.6 155.7 565.0 157.6 564.8 155.6 561.7 154.1 560.2 152.2 566.3 151.7 570.8 151.5 571.8 149.5 576.3 148.6 580.9 147.8 586.4 147.5 591.9 146.9 595.6 146.6 600.1 145.1 603.4 144.5 606.5 145.3 610.2 146.2 615.7 146.4 619.4 147.5 620.3 149.5 617.5 150.8 613.9 151.3 610.2 152.6 614.8 151.9 619.4 151.9 623.0 152.1 628.5 152.6 631.3 153.2 635.8 153.2 638.6 152.1 643.1 152.2 647.7 152.8 649.6 154.5 648.6 156.3 651.4 157.0 654.1 155.9 656.0 155.9 659.6 155.7 663.3 156.1 666.9 155.7 668.8 154.3 670.6 153.5 674.3 153.9 679.8 154.3 685.3 154.6 688.0 155.9 691.7 156.8 696.2 156.8 700.8 156.8 704.5 157.8 706.3 159.2 709.0 159.4 712.7 159.2 717.3 159.6 720.0 158.7 723.7 159.2 725.2 160.5 725.5 158.7 729.2 158.8 734.7 159.2 738.3 159.8 742.0 160.5M83.0 160.5 85.7 161.2 88.5 162.0 91.2 163.2 94.9 164.0 98.6 164.5 101.7 165.8 99.5 166.9 97.3 167.8 96.2 169.1 93.1 168.6 90.3 167.8 87.6 167.1 85.2 166.0 83.0 166.9M742.0 166.9 740.2 167.8 738.3 168.6 737.1 168.2 735.6 168.9 737.4 170.6 737.1 172.2 740.5 172.6 738.3 173.0 733.8 173.5 730.1 174.4 727.4 175.7 724.6 177.0 720.9 176.3 717.3 176.6 714.5 177.0 712.7 177.9 711.2 179.2 710.9 180.7 709.0 181.2 711.2 183.8 709.6 185.8 708.1 186.7 705.4 188.0 705.4 189.8 702.6 190.6 701.4 192.0 699.3 193.5 698.8 190.8 697.7 188.0 697.5 184.3 698.6 181.9 701.7 180.3 705.0 177.9 708.1 175.9 711.4 174.1 711.4 172.4 708.1 173.7 705.4 174.8 704.5 173.9 699.9 174.1 697.2 176.1 695.3 177.9 692.6 178.8 688.9 177.9 685.3 177.9 680.7 178.3 676.1 178.3 672.4 178.8 669.7 181.2 666.0 183.4 663.3 186.2 660.5 186.7 663.3 188.0 664.4 188.9 667.9 189.3 671.0 189.8 670.1 191.1 671.3 192.6 669.9 195.0 669.3 198.1 666.9 200.8 665.1 203.6 662.4 205.8 659.6 207.8 656.9 208.5 654.1 207.8 651.8 209.4 649.9 211.1 649.6 212.6 646.8 214.0 645.9 215.1 647.7 217.3 649.4 220.1 648.6 222.5 646.1 223.4 643.9 223.8 644.1 221.0 644.2 218.6 642.2 217.7 641.3 216.2 641.9 214.6 640.0 213.8 636.7 214.9 634.5 215.9 635.8 213.1 634.0 212.0 631.4 213.8 628.5 215.1 628.1 216.4 630.0 217.7 630.3 218.6 633.1 217.9 634.9 218.2 636.7 218.6 636.4 219.5 633.1 220.8 630.9 222.8 632.5 224.3 633.6 226.5 635.5 228.7 635.5 230.4 633.1 231.4 635.5 232.2 635.1 234.8 633.3 236.9 631.6 239.3 629.6 241.7 628.1 243.0 626.3 244.3 623.9 245.4 621.5 246.1 619.4 246.7 616.6 247.6 614.8 248.1 614.4 249.8 613.3 247.6 611.1 247.2 608.4 248.5 606.2 251.2 606.2 252.5 607.5 254.4 609.3 256.6 611.1 258.0 612.4 260.4 612.6 263.5 612.0 265.9 609.8 267.6 607.8 269.2 605.1 271.1 604.3 268.7 602.3 267.8 600.7 265.6 598.3 263.9 596.8 262.2 595.6 262.8 595.6 265.0 594.3 267.2 594.1 269.6 595.9 271.4 596.5 273.8 598.7 274.7 600.1 276.0 601.8 278.8 602.0 281.9 603.2 284.4 601.8 284.4 598.3 282.0 596.5 279.7 596.1 276.9 595.6 274.9 594.3 273.2 592.6 272.0 592.8 269.0 593.2 265.9 592.4 262.2 591.3 259.5 591.3 256.8 590.1 256.0 588.2 256.4 587.0 258.0 585.1 257.7 585.5 254.4 584.2 251.6 582.4 249.4 580.9 247.6 580.4 245.9 578.2 245.8 576.3 246.8 573.6 247.2 571.8 247.8 571.4 249.4 569.0 250.9 566.3 253.5 563.2 256.2 560.8 258.0 559.3 259.5 559.5 262.6 558.6 265.9 557.7 268.1 557.1 270.0 555.6 270.9 554.4 272.1 552.9 270.9 552.0 268.1 550.3 265.0 549.2 262.2 548.5 259.5 547.0 257.1 546.1 254.0 545.8 252.2 545.8 249.4 545.6 247.4 545.2 246.3 544.5 248.1 542.1 249.1 539.2 246.3 541.0 245.0 538.8 244.8 537.5 243.7 536.1 243.0 535.1 241.5 534.2 240.4 530.6 240.8 526.0 241.0 523.2 240.6 520.1 240.2 517.4 239.9 516.5 237.5 514.5 237.9 512.3 238.2 509.5 237.5 507.1 236.0 505.5 233.8 504.4 232.0 502.2 231.3 500.4 232.4 500.9 234.4 503.1 236.9 504.4 238.4 504.9 240.2 505.9 239.3 507.0 240.6 506.4 242.1 507.7 242.8 511.4 242.8 512.6 241.7 514.1 240.2 515.6 238.8 515.7 241.2 516.8 243.0 519.8 243.7 522.0 245.8 520.1 248.5 518.7 249.6 518.3 252.2 516.8 252.5 515.0 254.2 513.2 255.7 511.4 255.8 508.1 257.7 504.0 259.5 501.3 261.3 497.6 262.4 494.9 263.5 492.1 263.7 491.6 262.2 490.8 259.5 490.7 256.8 489.4 254.4 487.6 252.2 485.0 249.4 484.1 247.6 483.0 244.8 481.1 242.4 479.9 239.7 477.5 236.6 476.6 235.3 476.4 232.9M402.1 195.1 404.3 194.6 406.1 194.8 408.8 194.2 411.6 193.9 414.9 193.3 415.1 192.8 413.4 192.6 415.4 190.4 413.0 189.8 412.9 188.6 411.6 187.1 409.8 185.8 408.8 184.3 407.0 184.3 408.3 183.1 408.8 181.4 406.1 181.2 405.2 180.7 406.6 179.6 403.3 179.6 402.2 181.0 402.1 183.1 401.2 183.4 402.4 184.7 403.3 186.2 404.3 186.5 406.1 186.4 407.0 188.0 407.0 189.1 404.3 189.3 404.8 190.8 403.3 191.8 404.8 192.4 407.0 192.9 404.8 193.3 402.1 195.1ZM401.2 191.3 401.5 189.1 401.9 186.9 400.6 185.8 397.9 185.8 396.9 187.3 394.2 187.6 395.1 189.5 393.6 191.7 395.1 192.6 397.9 192.0 401.2 191.3ZM371.3 169.9 375.9 170.6 379.6 170.6 384.1 169.3 387.2 167.8 385.4 165.8 382.3 165.3 378.6 165.8 375.0 166.0 371.3 165.3 368.9 166.4 372.2 167.3 368.6 168.2 372.2 169.1 371.3 169.9ZM432.6 141.8 434.5 144.0 438.1 145.3 442.7 146.4 445.5 144.9 451.9 143.6 447.3 142.2 450.9 140.3 444.5 140.3 438.1 140.7 432.6 141.8ZM447.3 140.0 454.6 139.4 461.9 140.2 454.6 141.4 447.3 140.0ZM506.8 156.8 510.4 157.4 516.8 157.6 514.1 155.9 515.0 153.2 519.6 150.8 524.2 148.9 531.5 147.1 537.9 146.0 533.3 145.8 524.2 147.1 516.8 148.6 514.1 151.3 510.4 153.7 506.8 156.8ZM588.2 142.2 595.6 144.0 602.9 143.5 604.7 141.8 595.6 140.3 590.1 138.9 582.7 140.3 588.2 142.2ZM498.5 139.4 511.4 140.0 522.3 139.4 526.0 138.5 515.0 137.6 502.2 138.5 498.5 139.4ZM663.3 148.9 672.4 149.9 679.8 149.1 687.1 149.5 679.8 147.7 670.6 147.7 663.3 148.9ZM667.9 152.4 672.4 152.6 675.2 152.2 670.6 151.5 667.9 152.4ZM739.3 156.7 742.0 157.0 742.0 155.9 739.3 155.9ZM672.4 187.4 674.3 189.8 674.8 192.6 675.7 196.6 674.3 199.9 675.2 202.1 673.5 201.4 672.4 202.7 672.3 199.0 672.4 195.3 672.1 191.7 672.4 187.4ZM671.9 203.8 675.2 205.8 678.5 205.8 678.8 207.6 676.1 208.3 674.6 210.0 671.5 208.9 669.3 210.9 668.8 208.7 671.3 207.6 671.9 203.8ZM671.2 211.1 672.1 213.7 671.5 216.8 670.6 219.2 669.9 221.9 668.4 222.8 666.6 223.4 663.3 223.6 662.9 224.1 661.1 225.6 659.6 223.6 656.0 224.1 652.3 224.7 652.1 223.9 654.7 222.1 657.8 221.7 661.5 221.6 662.9 219.2 663.8 218.2 663.3 219.5 666.0 218.4 667.9 216.4 668.8 214.0 668.8 212.6 670.2 211.5 671.2 211.1ZM650.5 225.6 653.2 225.4 653.8 227.4 652.3 229.6 650.8 229.8 650.8 227.4 649.9 226.5 650.5 225.6ZM655.0 224.7 658.7 224.3 658.2 225.6 656.0 226.9 655.0 224.7ZM634.9 240.8 635.5 242.1 634.0 245.8 632.5 244.8 632.7 243.0 634.9 240.8ZM611.5 251.6 614.8 250.3 615.7 251.1 613.9 253.3 611.7 252.9 611.5 251.6ZM633.3 253.1 635.8 253.3 636.4 255.8 634.9 257.7 635.5 259.9 637.7 261.3 639.5 263.2 638.2 263.0 636.7 261.9 634.0 261.9 633.3 260.4 632.2 259.5 632.2 257.3 632.9 255.8 633.3 253.1ZM635.8 274.2 638.6 271.4 642.2 269.2 643.7 271.4 644.1 274.2 642.2 276.0 641.9 274.2 639.5 275.1 639.5 273.6 635.8 274.2ZM635.8 265.4 637.7 265.9 638.6 267.8 640.4 267.8 641.3 266.3 642.6 266.5 642.2 264.1 640.0 264.1 639.5 265.9 637.7 265.0 635.8 265.4ZM627.2 271.4 630.9 267.2 631.6 267.8 628.5 270.9 627.2 271.4ZM633.1 262.4 634.7 262.6 634.5 264.5 633.6 264.1 633.1 262.4ZM636.7 267.2 638.2 267.0 638.0 270.1 636.7 269.0 636.7 267.2ZM612.0 284.2 613.3 283.3 615.7 283.9 616.6 282.0 619.4 281.1 621.2 278.8 623.9 276.9 626.3 274.4 627.6 275.1 628.5 276.9 630.7 277.5 628.5 279.1 628.1 281.1 630.0 285.2 628.1 286.1 627.6 288.5 625.8 289.8 625.4 292.5 624.8 294.3 622.5 294.3 620.3 293.0 617.5 293.2 614.8 292.5 613.9 289.8 612.4 287.9 612.0 284.2ZM587.0 276.7 591.0 277.5 592.8 279.7 595.6 281.9 597.4 283.0 600.1 285.2 602.0 287.0 603.4 289.8 604.7 291.0 606.5 292.5 606.2 295.2 606.2 297.6 603.8 297.6 601.0 295.8 598.3 292.5 596.5 289.8 595.0 287.0 593.4 284.2 591.0 281.9 588.2 279.7 587.0 276.7ZM605.1 299.5 607.5 298.0 611.1 299.1 614.8 298.9 618.4 299.6 622.1 301.3 621.9 302.9 618.4 302.4 614.8 302.0 611.1 301.3 607.5 300.6 605.1 299.5ZM631.8 285.5 633.6 284.6 637.7 285.2 641.3 283.9 640.4 286.1 635.8 286.1 633.1 287.0 632.7 288.6 634.9 288.8 638.2 288.5 637.3 290.3 635.8 290.7 636.7 293.0 638.0 295.2 636.7 296.9 634.9 295.6 634.0 293.4 633.1 292.5 632.9 297.1 631.3 297.1 631.3 293.4 630.0 292.1 630.9 289.4 631.8 285.5ZM652.3 288.5 655.0 287.7 657.8 288.6 658.3 291.6 660.0 293.2 663.3 290.7 666.0 290.3 670.6 291.8 674.3 293.2 677.0 294.1 679.4 295.8 681.6 298.0 683.1 299.3 682.0 300.8 684.3 303.1 688.0 305.9 686.2 306.1 682.5 305.3 680.3 302.9 677.0 301.1 674.8 302.8 673.4 303.9 670.6 303.7 667.9 302.0 665.1 302.2 666.4 299.8 665.1 297.1 661.5 295.4 657.8 294.1 656.0 294.5 655.6 293.0 654.1 292.1 656.9 291.4 654.7 291.0 652.3 289.6 652.3 288.5ZM645.9 283.3 647.7 284.2 648.1 286.5 646.8 288.5 646.3 285.5 645.9 283.3ZM646.8 292.9 651.9 292.5 651.9 294.0 647.4 293.4 646.8 292.9ZM638.6 305.9 641.3 303.9 645.0 302.4 644.6 303.5 640.4 305.7 638.6 305.9ZM624.8 302.4 627.6 302.2 630.3 302.6 634.0 302.4 637.7 302.2 637.3 303.1 632.2 303.3 628.5 303.3 624.8 303.1 624.8 302.4ZM630.3 304.4 633.4 305.0 632.5 305.9 630.3 305.0 630.3 304.4ZM622.1 302.0 624.3 302.2 623.4 303.1 622.1 302.0ZM684.0 297.3 687.1 296.5 689.8 294.7 691.3 294.9 690.4 297.1 687.1 298.4 684.0 297.3ZM688.5 291.8 690.7 292.9 692.6 295.2 692.0 295.2 689.8 292.9 688.5 291.8ZM558.9 269.2 561.1 271.4 562.2 274.2 560.8 275.6 559.1 275.8 558.4 273.2 558.9 269.2ZM502.7 309.0 504.6 313.6 504.0 316.3 503.1 319.1 501.8 322.8 500.4 327.3 498.9 331.9 496.7 333.4 494.9 333.8 493.0 332.5 492.1 329.2 492.1 326.4 493.6 323.7 493.6 320.0 493.0 318.2 494.9 316.3 497.6 315.4 500.0 313.6 501.3 311.4 502.7 309.0ZM620.6 328.2 621.5 327.0 623.9 325.5 626.7 324.8 630.3 323.7 634.0 322.8 636.4 320.0 636.2 318.2 638.6 318.7 638.9 316.9 641.3 315.4 643.1 313.0 645.9 312.7 647.4 314.1 649.6 314.3 649.9 311.8 651.9 309.7 654.1 309.4 655.2 307.7 657.8 309.0 660.5 309.2 662.9 309.4 662.4 311.4 661.1 313.6 660.5 314.5 663.3 316.0 666.9 318.2 669.1 319.3 670.6 317.2 671.5 314.5 671.9 311.8 671.7 309.9 672.8 307.2 673.5 306.6 674.6 309.0 675.4 311.8 677.0 313.2 678.5 314.5 678.8 317.2 679.8 319.1 680.3 321.5 682.5 322.8 684.9 324.2 686.2 327.0 688.4 328.2 688.9 330.3 691.7 332.5 692.9 334.7 693.5 337.4 693.5 340.2 692.6 342.9 692.0 345.7 689.8 348.0 688.9 349.9 687.4 353.0 687.1 355.4 684.3 356.3 681.6 357.6 680.3 358.7 677.9 357.4 677.0 356.7 675.2 358.1 672.4 357.2 669.7 356.7 668.2 354.8 667.5 352.6 665.7 352.3 665.1 350.2 664.6 347.5 664.2 350.2 663.3 351.5 662.4 352.5 661.1 350.8 660.0 350.2 658.7 347.5 656.9 345.9 654.1 345.7 652.3 344.8 648.6 344.9 645.0 346.0 641.3 347.1 639.5 348.4 638.6 349.1 635.8 349.1 632.2 349.1 630.3 350.1 628.5 351.2 625.8 351.2 623.4 349.9 623.0 348.4 624.3 346.6 624.3 344.8 623.0 342.0 622.5 339.2 621.2 337.0 620.1 334.7 621.2 335.0 620.3 332.5 620.3 330.1 620.6 328.2ZM677.4 361.6 680.7 362.4 683.8 362.0 684.0 364.0 683.1 366.2 680.7 366.9 678.5 364.9 677.4 361.6ZM728.6 350.2 731.4 352.6 732.8 354.5 734.3 354.5 734.7 355.9 737.4 356.5 739.3 356.1 738.0 358.7 736.5 359.6 735.2 362.2 732.8 363.3 732.3 362.7 733.2 360.7 730.7 359.2 732.1 357.9 732.5 355.8 731.6 353.9 729.6 351.7 728.6 350.2ZM728.8 361.2 731.4 362.5 731.4 363.8 729.6 365.8 728.8 367.3 726.1 368.4 725.2 371.0 722.8 372.4 720.0 372.2 717.3 371.3 718.2 369.5 720.6 367.7 724.6 365.8 726.4 363.6 727.9 361.8 728.8 361.2ZM257.1 246.8 260.6 245.0 264.2 244.7 267.9 245.8 271.5 247.6 274.3 249.1 276.7 250.0 274.3 250.5 270.3 250.5 271.2 249.2 268.8 248.0 265.1 246.7 262.4 245.9 259.6 246.3 257.1 246.8ZM276.3 253.1 278.9 250.5 281.2 250.7 284.4 250.9 287.1 252.9 286.7 253.6 283.4 253.5 281.6 254.6 279.8 253.6 276.3 253.1ZM269.2 253.3 271.5 253.1 273.0 254.0 271.2 254.4 269.2 253.3ZM289.5 253.1 292.2 253.3 292.0 254.0 289.5 254.0 289.5 253.1ZM299.2 267.4 300.8 267.2 300.8 268.5 299.2 268.5ZM303.9 199.7 305.4 198.1 306.3 196.2 308.2 194.1 310.4 192.4 310.5 194.4 309.1 195.3 310.9 196.2 313.6 196.2 314.6 197.7 315.5 199.0 315.5 201.4 313.6 200.8 311.8 201.0 310.9 199.9 307.2 199.7 303.9 199.7ZM294.4 195.5 298.1 196.1 299.6 197.0 296.3 196.6 294.4 195.5ZM295.3 201.2 299.0 201.9 298.1 202.7 295.3 202.1ZM177.6 193.9 181.8 194.6 184.6 196.6 186.4 198.3 184.2 197.9 180.9 196.2 177.6 193.9ZM169.0 187.8 171.4 188.0 171.4 190.2 172.3 191.3 170.0 189.8 169.0 187.8ZM129.7 181.6 132.4 180.7 133.9 181.4 131.5 182.7 129.7 181.6ZM98.2 170.2 101.3 170.4 103.5 171.1 100.4 170.9 98.2 170.2ZM106.2 176.6 108.6 176.4 109.2 177.2 106.8 177.4ZM265.1 151.9 269.7 152.6 273.4 153.5 277.0 155.4 281.6 156.3 285.3 157.8 288.0 158.7 288.9 160.5 290.8 162.0 295.3 163.2 299.0 164.5 299.9 166.0 297.2 167.5 294.4 166.9 291.7 166.4 288.9 166.9 292.6 168.8 293.9 170.9 291.7 172.0 288.0 172.2 284.4 171.9 280.7 170.2 277.0 168.9 273.4 168.9 269.7 168.2 270.6 166.9 277.0 166.9 278.0 165.1 278.9 162.7 275.2 161.8 271.5 159.6 267.9 158.7 262.4 158.8 257.8 158.7 253.2 158.1 248.7 156.8 248.1 155.0 249.6 152.8 255.1 151.7 257.8 152.4 262.4 151.9 265.1 151.9ZM253.2 167.5 257.8 166.7 260.6 168.8 264.2 169.7 265.7 170.6 261.5 170.6 258.7 171.1 256.0 171.1 253.2 169.7 253.2 167.5ZM197.4 157.6 202.9 159.9 204.7 161.4 211.1 161.2 217.5 160.9 221.2 160.5 225.8 160.9 226.7 159.2 224.0 158.1 220.3 156.8 221.2 155.0 219.4 153.2 214.8 152.6 211.1 153.7 205.6 153.7 198.3 153.2 195.6 154.1 198.3 155.9 197.4 157.6ZM183.7 155.2 187.3 156.5 191.0 155.9 193.7 154.1 199.2 152.6 201.1 151.3 196.5 150.4 191.0 150.4 185.5 151.3 183.7 153.5 183.7 155.2ZM198.3 148.9 203.8 149.9 211.1 150.0 218.5 149.5 217.5 147.7 213.0 146.8 207.5 147.3 202.0 147.1 198.3 148.0 198.3 148.9ZM225.8 151.9 231.3 153.2 234.9 154.6 235.9 153.2 234.0 151.5 229.4 151.3 225.8 151.9ZM236.8 151.7 242.3 153.5 246.8 153.2 247.8 151.3 244.1 151.0 238.6 151.3 236.8 151.7ZM230.4 159.6 234.9 159.0 237.7 160.5 235.9 161.4 232.2 161.2 230.4 159.6ZM236.8 146.0 244.1 146.9 249.6 147.1 255.1 148.4 262.4 148.6 266.1 150.2 260.6 150.4 253.2 150.4 245.9 150.0 243.2 148.6 236.8 146.0ZM222.1 147.1 229.4 148.2 234.0 148.9 233.1 146.8 227.6 146.4 222.1 147.1ZM235.9 148.9 240.4 150.0 241.3 148.9 237.7 148.4ZM247.8 147.1 255.1 147.1 262.4 146.9 269.7 146.2 271.5 144.4 275.2 143.1 273.4 141.6 280.7 140.7 288.0 139.4 293.5 138.1 299.0 136.7 299.0 135.6 289.9 134.8 277.0 134.7 266.1 135.0 256.9 135.9 249.6 136.7 245.0 138.1 251.4 139.4 256.9 140.7 251.4 142.2 255.1 143.5 251.4 144.4 247.8 147.1ZM236.8 140.3 244.1 141.8 249.6 143.1 252.3 142.2 247.8 139.8 242.3 138.1 236.8 138.9 236.8 140.3ZM220.3 142.2 227.6 144.0 233.1 144.4 231.3 142.5 224.0 141.2 220.3 142.2ZM187.3 147.1 194.7 148.0 200.2 146.8 194.7 145.3 188.3 145.8 187.3 147.1ZM264.2 152.2 269.7 153.5 273.4 153.2 268.8 151.9 264.2 152.2ZM435.4 217.3 440.9 217.0 440.3 219.2 438.1 219.5 435.4 218.1 435.4 217.3ZM427.5 211.8 430.3 211.8 430.1 215.1 428.1 215.5 427.5 211.8ZM428.2 209.1 429.7 208.2 429.9 210.4 428.6 210.9 428.2 209.1ZM455.5 221.9 460.6 222.5 457.3 222.8 455.5 221.9ZM471.6 222.8 475.7 221.7 474.6 222.8 472.9 223.6 471.6 222.8ZM433.0 184.9 435.4 184.3 435.4 185.8 433.0 185.8ZM445.8 182.5 447.3 180.8 446.9 181.9ZM510.1 263.9 512.3 263.9 511.4 264.5ZM126.9 250.0 128.8 250.7 127.7 252.2 126.9 251.1ZM125.7 248.5 126.9 248.9 126.2 249.2ZM122.9 247.4 123.8 248.0 123.1 248.0ZM120.2 246.3 120.9 246.7 120.3 246.8ZM300.8 381.4 305.4 381.1 306.7 381.8 304.5 382.9 300.8 382.3ZM342.9 386.0 346.6 386.6 346.6 387.5 343.9 386.6ZM538.4 376.8 541.6 377.2 540.6 378.1 538.8 377.9ZM245.0 287.6 245.9 288.1 245.6 288.8 245.0 288.3ZM712.7 324.0 715.5 325.9 718.2 327.9 717.3 327.9 713.6 325.5 712.7 324.0ZM737.1 319.1 739.4 319.1 739.3 320.4 737.2 320.2ZM739.6 317.6 742.0 316.9 741.1 318.0ZM699.0 299.3 704.5 301.7 705.0 302.4 699.9 300.4ZM704.8 304.0 706.9 304.8 705.8 305.1ZM695.7 297.1 697.7 298.9 696.8 299.5 695.7 297.8ZM717.7 314.5 718.6 315.4 718.2 316.3ZM396.9 156.8 397.9 156.7 397.9 157.0ZM381.7 235.1 382.8 234.8 382.5 235.7ZM386.5 234.6 387.2 234.2 387.1 235.3ZM369.1 259.1 369.7 259.3 369.5 259.7ZM365.3 217.7 366.4 217.7 365.8 217.9ZM513.7 325.5 514.6 325.7 514.1 326.2ZM517.6 323.8 518.3 324.0 517.8 324.6ZM491.8 308.1 492.1 308.6 491.6 308.6ZM582.4 262.2 582.7 265.0 582.0 265.9 582.2 264.1ZM584.0 273.8 584.4 274.2 584.2 274.5ZM626.3 302.6 630.3 302.4 629.4 303.1 626.7 303.5ZM643.1 292.9 645.3 293.0 644.6 294.0 643.1 293.4ZM643.5 225.8 644.8 225.6 644.1 226.1ZM646.3 239.0 647.4 237.9 646.8 238.6ZM681.2 205.4 684.9 203.6 682.5 204.9ZM686.2 202.8 688.0 202.3 687.1 203.0ZM690.7 200.8 692.6 199.6 691.7 200.5ZM696.2 196.2 698.1 194.8 697.2 195.3ZM104.1 189.3 106.8 188.6 108.1 188.2 105.9 189.1ZM101.3 190.2 103.1 189.8 102.2 190.4ZM93.1 191.3 94.9 191.1 94.0 191.7ZM87.6 192.0 89.8 191.8 88.5 192.4ZM739.3 192.6 741.1 192.8 740.2 192.9ZM728.3 190.0 730.1 190.2 729.2 190.4ZM715.5 185.6 717.3 186.5 716.4 186.2ZM711.8 178.8 713.6 179.8 712.7 179.2ZM663.8 186.2 665.7 186.5 664.8 186.9ZM499.5 203.6 502.2 201.6 505.9 200.8 509.5 201.2 509.5 203.9 506.4 204.5 504.9 205.4 505.9 207.2 508.6 208.7 508.6 210.6 510.4 211.8 509.2 213.7 510.8 215.1 511.0 218.6 507.7 219.7 504.6 218.8 502.2 218.1 501.8 216.4 502.7 214.6 504.0 213.1 502.2 210.9 500.4 209.1 499.5 207.8 498.5 205.8 499.5 203.6ZM519.6 201.4 523.2 201.8 525.1 203.6 522.3 206.3 519.6 206.9 519.2 204.5 519.6 201.4ZM547.4 202.7 549.8 201.2 553.5 201.4 557.1 201.6 556.2 202.3 551.6 202.3 548.9 204.1 547.4 202.7ZM602.9 192.4 605.6 191.7 609.3 189.8 612.0 187.1 613.5 184.9 611.5 185.6 609.3 188.0 606.5 190.2 602.9 192.4ZM468.3 177.0 472.0 176.4 472.0 174.8 468.3 174.2 468.3 177.0ZM475.7 175.2 478.4 174.6 477.5 172.4 475.7 173.3ZM244.1 201.4 247.8 200.3 251.4 198.6 255.1 198.1 257.3 199.9 257.5 201.6 254.2 201.8 251.4 201.0 247.8 201.6 244.1 201.4ZM251.8 210.0 254.2 210.0 254.7 207.2 256.0 204.5 256.9 203.0 254.2 203.0 251.8 205.4 251.8 210.0ZM257.8 202.7 262.4 202.7 266.1 204.5 265.1 205.4 262.9 205.4 261.5 207.8 259.6 206.3 259.6 203.9 257.8 202.7ZM260.0 210.6 263.3 210.9 267.9 208.7 267.9 208.2 264.2 208.9 260.0 210.6ZM266.6 207.6 271.5 207.6 273.0 206.3 269.7 206.3 266.6 207.6ZM231.3 188.9 234.0 188.4 235.9 191.7 235.9 194.4 234.0 192.6 231.3 188.9ZM198.3 175.2 202.0 175.3 207.5 173.3 212.1 171.9 208.4 171.9 203.8 173.0 200.2 173.3 198.3 175.2ZM183.7 167.5 188.3 167.8 192.8 166.9 196.5 165.6 194.7 164.3 190.1 164.2 187.3 166.0 183.7 167.5ZM208.4 179.4 213.0 178.7 218.5 178.3 213.0 177.9 208.4 179.4ZM470.7 287.9 472.0 286.5 474.7 286.5 475.1 288.8 473.8 291.6 471.1 291.6 470.7 287.9ZM466.1 293.4 467.1 295.2 466.9 298.0 468.9 301.7 468.3 302.9 466.5 299.8 466.0 296.2 466.1 293.4ZM474.7 304.4 476.0 307.2 476.2 310.8 476.9 313.2 476.0 312.7 475.3 309.9 475.1 307.2 474.7 304.4ZM278.9 143.6 284.4 142.2 289.9 140.3 295.3 138.1 302.7 136.7 313.6 136.1 324.6 135.8 335.6 134.5 348.4 133.7 361.2 134.1 370.4 135.2 375.9 136.7 386.9 137.2 390.5 138.1 383.2 139.4 379.6 140.7 377.7 143.1 375.0 145.8 376.8 148.6 375.9 150.4 372.2 152.2 369.5 154.1 372.2 155.9 371.3 157.8 368.6 159.4 364.9 160.9 360.3 161.8 355.8 162.2 352.1 163.2 348.4 165.1 343.9 166.4 339.3 167.5 338.4 169.7 335.6 171.9 334.2 174.8 332.9 176.8 330.1 177.0 327.4 175.5 323.7 174.4 321.9 172.4 319.1 169.7 316.4 166.9 314.2 164.2 315.5 161.8 319.1 159.6 312.7 158.1 316.4 156.8 311.8 155.4 310.9 153.2 308.2 150.4 304.5 148.0 299.0 147.3 291.7 147.7 286.2 146.8 282.5 145.3 278.9 143.6ZM312.2 159.4 315.5 159.9 317.3 159.0 314.6 158.1 312.2 159.4ZM83.0 431.2 110.5 431.5 121.5 429.1 138.0 427.8 145.0 425.7 158.7 424.6 172.4 423.6 183.4 421.6 193.0 422.8 210.9 423.6 218.0 424.5 222.0 421.0 228.0 419.5 234.3 419.5 238.4 420.9 248.0 420.6 268.6 420.6 270.0 421.6 274.2 415.4 278.3 414.7 281.0 419.5 282.4 412.6 289.3 409.9 296.2 405.8 303.0 402.3 306.0 400.5 304.0 404.0 301.7 410.0 301.2 418.0 301.7 424.0 303.0 425.0 311.3 427.1 320.9 429.1 330.5 430.2 344.3 429.8 355.3 428.0 364.9 425.0 371.8 422.9 378.7 420.2 385.5 418.8 392.4 417.0 402.0 416.1 413.0 414.8 426.8 416.1 437.8 414.3 440.5 415.4 454.3 416.5 461.1 416.1 468.0 414.0 473.5 412.9 481.8 415.7 488.7 413.3 495.5 411.9 502.4 409.9 509.3 408.2 516.2 409.2 523.0 411.0 536.8 411.3 543.6 412.6 548.4 414.7 554.6 412.6 561.5 408.8 571.1 409.2 584.9 409.2 589.0 406.4 598.7 407.4 605.5 408.2 612.4 409.9 619.3 408.5 626.2 409.6 633.0 409.5 646.8 409.2 659.1 407.1 667.4 409.2 678.4 410.6 688.0 412.6 701.8 414.7 708.7 416.8 718.3 416.8 723.8 418.8 718.3 422.9 710.0 426.4 710.0 429.1 722.4 429.1 732.0 429.8 742.0 431.2M155.7 303.5h1M157.6 305.3h1M146.6 316.3h1M150.2 318.2h1M153.9 320.0h1M159.4 323.7h1M143.8 315.0h1M138.3 319.3h1M134.7 317.6h1M119.5 325.9h1M122.8 323.7h1M96.2 311.9h1M99.0 312.7h1M91.7 325.5h1M93.5 321.3h1M92.9 323.3h1M123.9 283.5h1M120.4 279.9h1M97.7 292.1h1M97.5 303.5h1M739.7 302.6h1M737.8 299.8h1M728.7 284.4h1M728.7 281.5h1M731.4 288.8h1M733.3 290.7h1M725.0 274.2h1M721.4 272.3h1M719.5 270.5h1M715.9 266.8h1M723.2 268.7h1M717.7 287.9h1M701.6 274.4h1M710.4 277.3h1M689.9 273.4h1M664.6 269.6h1M658.2 273.2h1M677.1 262.2h1M678.7 259.1h1M678.9 254.0h1M717.0 251.6h1M87.3 235.3h1M101.7 256.4h1M211.7 336.7h1M174.0 332.8h1M164.9 329.2h1M138.3 329.9h1M141.6 330.8h1M147.9 337.6h1M267.8 348.6h1M246.7 288.3h1M248.2 288.6h1M212.1 268.1h1M208.8 252.5h1M195.4 233.8h1M293.4 227.8h1M360.7 216.2h1M362.2 216.1h1M354.9 214.6h1M380.9 227.0h1M367.5 256.6h1M370.1 257.5h1M366.2 255.8h1M401.6 316.3h1M385.6 301.5h1M389.5 355.0h1M393.7 360.9h1M418.2 386.7h1M363.5 393.0h1M362.6 395.9h1M328.7 398.1h1M304.0 400.7h1M300.3 401.9h1M306.7 399.8h1M310.8 399.0h1M481.2 372.8h1M506.6 372.1h1M504.1 371.7h1M553.9 356.3h1M546.5 384.3h1M702.9 387.1h1M721.7 383.2h1M715.9 379.9h1M88.9 367.7h1M86.2 340.7h1M719.5 340.2h1M703.1 344.8h1M513.6 295.6h1M509.0 297.1h1M496.8 304.2h1M544.5 300.4h1M589.2 309.4h1M605.5 306.2h1M528.1 323.1h1M399.2 173.3h1M399.6 174.2h1M409.6 176.4h1M409.8 177.2h1M406.5 178.8h1M446.8 150.6h1M417.5 214.4h1M414.6 215.5h1M419.3 213.7h1M270.1 242.4h1M272.9 243.0h1M273.8 244.3h1M276.5 245.8h1M278.4 247.6h1M269.2 238.4h1M270.5 241.2h1M299.4 258.6h1M300.3 260.4h1M300.3 262.8h1M299.1 264.8h1M297.2 255.3h1M299.4 257.3h1M285.7 264.6h1M293.4 253.5h1M300.9 266.5h1M303.1 262.8h1M263.2 251.6h1M650.0 236.6h1M649.1 234.9h1M651.8 231.3h1M639.0 242.3h1M672.3 237.5h1M670.7 241.5h1M693.7 242.4h1M118.2 246.8h1M124.6 248.3h1M97.1 191.7h1M89.8 191.7h1M84.3 192.8h1M736.0 191.7h1M732.3 190.8h1M100.3 182.3h1M101.5 183.2h1M108.1 188.0h1M119.1 186.2h1M117.3 186.4h1M719.5 187.1h1M691.7 303.9h1M688.4 305.0h1M693.0 308.1h1M707.6 305.9h1M708.5 306.6h1M715.5 306.6h1M720.1 317.2h1M720.1 319.5h1M721.9 321.8h1M722.8 324.0h1M719.4 325.5h1M718.6 325.1h1M89.5 311.4h1M86.0 313.2h1M741.1 320.0h1M84.3 318.7h1M740.0 318.2h1M688.0 297.5h1M681.1 290.7h1M678.9 289.8h1M674.7 293.2h1M699.4 301.5h1M703.1 303.5h1M706.7 302.6h1M704.9 308.3h1M642.6 301.7h1M649.6 301.3h1M652.7 301.1h1M658.2 298.0h1M650.0 290.7h1M645.4 288.3h1M642.6 284.2h1M641.6 280.6h1M643.9 279.7h1M633.5 276.0h1M631.7 277.3h1M631.3 265.4h1M633.5 252.2h1M635.3 249.4h1M546.2 279.7h1M545.8 282.4h1M545.6 285.2h1M545.8 287.9h1M546.4 276.9h1M545.8 274.7h1M545.4 273.2h1M545.1 267.8h1M544.2 265.9h1M545.6 271.8h1M582.2 271.4h1M581.9 267.8h1M365.7 324.6h1M358.4 324.6h1M352.7 294.0h1M350.1 294.1h1M411.3 271.4h1M411.5 273.1h1M411.6 274.5h1M437.4 262.2h1M438.2 262.8h1"/>
</g>
<g id="frame" shape-rendering="crispEdges">
<rect x="82.5" y="121.5" width="659.0" height="330.0" fill="none" stroke="#000" stroke-width="1"/>
<path d="M82.5 451.5v-6M82.5 121.5v6M100.5 451.5v-3M100.5 121.5v3M119.5 451.5v-3M119.5 121.5v3M137.5 451.5v-3M137.5 121.5v3M155.5 451.5v-3M155.5 121.5v3M174.5 451.5v-3M174.5 121.5v3M192.5 451.5v-6M192.5 121.5v6M210.5 451.5v-3M210.5 121.5v3M228.5 451.5v-3M228.5 121.5v3M247.5 451.5v-3M247.5 121.5v3M265.5 451.5v-3M265.5 121.5v3M283.5 451.5v-3M283.5 121.5v3M302.5 451.5v-6M302.5 121.5v6M320.5 451.5v-3M320.5 121.5v3M338.5 451.5v-3M338.5 121.5v3M357.5 451.5v-3M357.5 121.5v3M375.5 451.5v-3M375.5 121.5v3M393.5 451.5v-3M393.5 121.5v3M411.5 451.5v-6M411.5 121.5v6M430.5 451.5v-3M430.5 121.5v3M448.5 451.5v-3M448.5 121.5v3M466.5 451.5v-3M466.5 121.5v3M485.5 451.5v-3M485.5 121.5v3M503.5 451.5v-3M503.5 121.5v3M521.5 451.5v-6M521.5 121.5v6M540.5 451.5v-3M540.5 121.5v3M558.5 451.5v-3M558.5 121.5v3M576.5 451.5v-3M576.5 121.5v3M595.5 451.5v-3M595.5 121.5v3M613.5 451.5v-3M613.5 121.5v3M631.5 451.5v-6M631.5 121.5v6M649.5 451.5v-3M649.5 121.5v3M668.5 451.5v-3M668.5 121.5v3M686.5 451.5v-3M686.5 121.5v3M704.5 451.5v-3M704.5 121.5v3M723.5 451.5v-3M723.5 121.5v3M741.5 451.5v-6M741.5 121.5v6M82.5 451.5h3M741.5 451.5h-3M82.5 433.5h6M741.5 433.5h-6M82.5 414.5h3M741.5 414.5h-3M82.5 396.5h3M741.5 396.5h-3M82.5 378.5h3M741.5 378.5h-3M82.5 359.5h6M741.5 359.5h-6M82.5 341.5h3M741.5 341.5h-3M82.5 323.5h3M741.5 323.5h-3M82.5 304.5h3M741.5 304.5h-3M82.5 286.5h6M741.5 286.5h-6M82.5 268.5h3M741.5 268.5h-3M82.5 249.5h3M741.5 249.5h-3M82.5 231.5h3M741.5 231.5h-3M82.5 213.5h6M741.5 213.5h-6M82.5 194.5h3M741.5 194.5h-3M82.5 176.5h3M741.5 176.5h-3M82.5 158.5h3M741.5 158.5h-3M82.5 139.5h6M741.5 139.5h-6M82.5 121.5h3M741.5 121.5h-3" stroke="#000" stroke-width="1" fill="none"/>
</g>
<g id="labels">
<text x="413" y="90.6" font-size="31.5" text-anchor="middle">Surface Air Temperature (in C)</text>
<text x="411.8" y="111.9" font-size="17.3" text-anchor="middle">20.5kyr BP</text>
<text x="82.3" y="118.2" font-size="17.45">Expt = temkV1</text>
<text x="742" y="115.6" font-size="17.6" text-anchor="end">ANN</text>
<text x="73.2" y="145.1" font-size="14.6" text-anchor="end">80N</text>
<text x="73.2" y="218.5" font-size="14.6" text-anchor="end">40N</text>
<text x="73.2" y="291.8" font-size="14.6" text-anchor="end">0</text>
<text x="73.2" y="365.1" font-size="14.6" text-anchor="end">40S</text>
<text x="73.2" y="438.5" font-size="14.6" text-anchor="end">80S</text>
<text x="82.5" y="472.6" font-size="14.6" text-anchor="middle">180</text>
<text x="192.3" y="472.6" font-size="14.6" text-anchor="middle">120W</text>
<text x="302.2" y="472.6" font-size="14.6" text-anchor="middle">60W</text>
<text x="412.0" y="472.6" font-size="14.6" text-anchor="middle">0</text>
<text x="521.8" y="472.6" font-size="14.6" text-anchor="middle">60E</text>
<text x="631.7" y="472.6" font-size="14.6" text-anchor="middle">120E</text>
<text x="741.5" y="472.6" font-size="14.6" text-anchor="middle">180</text>
</g>
<g id="colorbar">
<rect x="85.50" y="495.50" width="26.41" height="11.25" fill="#7A06E0" stroke="#000" stroke-width="1"/>
<rect x="111.91" y="495.50" width="27.31" height="11.25" fill="#6E06E0" stroke="#000" stroke-width="1"/>
<rect x="139.22" y="495.50" width="27.31" height="11.25" fill="#6008E0" stroke="#000" stroke-width="1"/>
<rect x="166.52" y="495.50" width="27.31" height="11.25" fill="#4C08E0" stroke="#000" stroke-width="1"/>
<rect x="193.83" y="495.50" width="27.31" height="11.25" fill="#2808E0" stroke="#000" stroke-width="1"/>
<rect x="221.14" y="495.50" width="27.31" height="11.25" fill="#1048E0" stroke="#000" stroke-width="1"/>
<rect x="248.45" y="495.50" width="27.31" height="11.25" fill="#1068E0" stroke="#000" stroke-width="1"/>
<rect x="275.76" y="495.50" width="27.31" height="11.25" fill="#1088E0" stroke="#000" stroke-width="1"/>
<rect x="303.07" y="495.50" width="27.31" height="11.25" fill="#10A0E0" stroke="#000" stroke-width="1"/>
<rect x="330.38" y="495.50" width="27.31" height="11.25" fill="#10B4E0" stroke="#000" stroke-width="1"/>
<rect x="357.68" y="495.50" width="27.31" height="11.25" fill="#10C8E0" stroke="#000" stroke-width="1"/>
<rect x="384.99" y="495.50" width="27.31" height="11.25" fill="#10D8D8" stroke="#000" stroke-width="1"/>
<rect x="412.30" y="495.50" width="27.31" height="11.25" fill="#10E0B0" stroke="#000" stroke-width="1"/>
<rect x="439.61" y="495.50" width="27.31" height="11.25" fill="#10E070" stroke="#000" stroke-width="1"/>
<rect x="466.92" y="495.50" width="27.31" height="11.25" fill="#40E010" stroke="#000" stroke-width="1"/>
<rect x="494.23" y="495.50" width="27.31" height="11.25" fill="#90E010" stroke="#000" stroke-width="1"/>
<rect x="521.53" y="495.50" width="27.31" height="11.25" fill="#C0E810" stroke="#000" stroke-width="1"/>
<rect x="548.84" y="495.50" width="27.31" height="11.25" fill="#E0E010" stroke="#000" stroke-width="1"/>
<rect x="576.15" y="495.50" width="27.31" height="11.25" fill="#E0C010" stroke="#000" stroke-width="1"/>
<rect x="603.46" y="495.50" width="27.31" height="11.25" fill="#E0A010" stroke="#000" stroke-width="1"/>
<rect x="630.77" y="495.50" width="27.31" height="11.25" fill="#E07010" stroke="#000" stroke-width="1"/>
<rect x="658.08" y="495.50" width="27.31" height="11.25" fill="#E04818" stroke="#000" stroke-width="1"/>
<rect x="685.38" y="495.50" width="27.31" height="11.25" fill="#E03010" stroke="#000" stroke-width="1"/>
<rect x="712.69" y="495.50" width="27.31" height="11.25" fill="#E01008" stroke="#000" stroke-width="1"/>
<text x="139.6" y="523.8" font-size="19" text-anchor="middle">-40</text>
<text x="194.2" y="523.8" font-size="19" text-anchor="middle">-32</text>
<text x="248.8" y="523.8" font-size="19" text-anchor="middle">-24</text>
<text x="303.5" y="523.8" font-size="19" text-anchor="middle">-16</text>
<text x="358.1" y="523.8" font-size="19" text-anchor="middle">-8</text>
<text x="412.7" y="523.8" font-size="19" text-anchor="middle">0</text>
<text x="467.3" y="523.8" font-size="19" text-anchor="middle">8</text>
<text x="521.9" y="523.8" font-size="19" text-anchor="middle">16</text>
<text x="576.5" y="523.8" font-size="19" text-anchor="middle">24</text>
<text x="631.2" y="523.8" font-size="19" text-anchor="middle">32</text>
<text x="685.8" y="523.8" font-size="19" text-anchor="middle">40</text>
</g>
</svg>
</body></html>
